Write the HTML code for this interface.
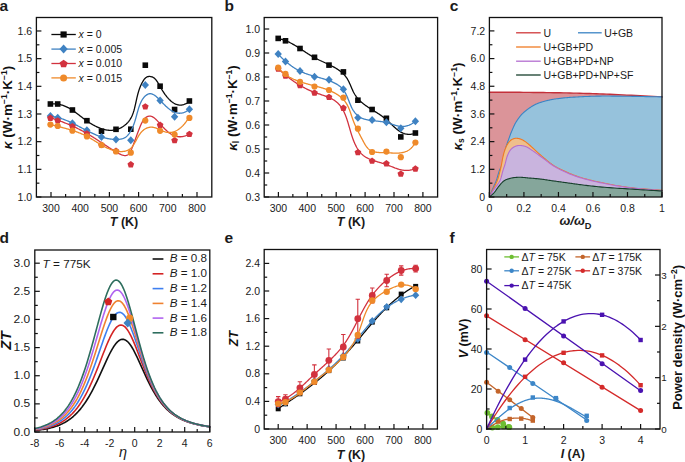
<!DOCTYPE html>
<html><head><meta charset="utf-8"><style>
html,body{margin:0;padding:0;background:#fff;width:685px;height:462px;overflow:hidden}
svg{display:block;font-family:"Liberation Sans", sans-serif}
</style></head><body>
<svg width="685" height="462" viewBox="0 0 685 462" font-family='"Liberation Sans", sans-serif'>
<rect width="685" height="462" fill="#ffffff"/>
<path d="M50.18,104.03 L50.94,103.97 L51.69,103.92 L52.42,103.89 L53.15,103.87 L53.87,103.88 L54.57,103.89 L55.27,103.93 L55.96,103.97 L56.64,104.04 L57.31,104.12 L57.97,104.21 L58.62,104.31 L59.26,104.43 L59.9,104.57 L60.53,104.71 L61.15,104.87 L61.76,105.04 L62.37,105.23 L62.97,105.42 L63.56,105.63 L64.15,105.84 L64.73,106.07 L65.31,106.31 L65.88,106.56 L66.45,106.82 L67.01,107.08 L67.56,107.36 L68.11,107.65 L68.66,107.94 L69.2,108.24 L69.74,108.55 L70.28,108.87 L70.81,109.2 L71.34,109.53 L71.87,109.87 L72.39,110.21 L72.91,110.56 L73.43,110.92 L73.95,111.28 L74.46,111.64 L74.98,112.01 L75.49,112.39 L76.01,112.77 L76.52,113.15 L77.03,113.53 L77.54,113.92 L78.05,114.31 L78.57,114.71 L79.08,115.1 L79.59,115.5 L80.11,115.9 L80.62,116.3 L81.14,116.7 L81.66,117.1 L82.18,117.5 L82.71,117.9 L83.23,118.3 L83.76,118.7 L84.29,119.1 L84.83,119.49 L85.37,119.89 L85.91,120.28 L86.46,120.67 L87.01,121.05 L87.57,121.44 L88.13,121.82 L88.69,122.19 L89.26,122.57 L89.83,122.93 L90.4,123.29 L90.98,123.65 L91.56,124 L92.15,124.35 L92.73,124.69 L93.32,125.02 L93.92,125.35 L94.51,125.67 L95.11,125.98 L95.71,126.28 L96.32,126.58 L96.92,126.86 L97.53,127.14 L98.14,127.41 L98.75,127.67 L99.36,127.92 L99.97,128.16 L100.59,128.39 L101.2,128.6 L101.82,128.81 L102.44,129 L103.06,129.19 L103.68,129.36 L104.3,129.52 L104.92,129.66 L105.54,129.79 L106.16,129.91 L106.78,130.02 L107.41,130.11 L108.03,130.18 L108.65,130.24 L109.27,130.29 L109.89,130.32 L110.51,130.33 L111.12,130.33 L111.74,130.31 L112.36,130.28 L112.97,130.22 L113.58,130.15 L114.2,130.06 L114.81,129.96 L115.41,129.83 L116.02,129.69 L116.62,129.52 L117.23,129.34 L117.82,129.14 L118.42,128.92 L119.01,128.69 L119.59,128.43 L120.18,128.16 L120.75,127.88 L121.32,127.57 L121.88,127.25 L122.44,126.92 L122.98,126.57 L123.52,126.2 L124.05,125.82 L124.57,125.43 L125.08,125.02 L125.58,124.6 L126.07,124.17 L126.55,123.72 L127.01,123.27 L127.47,122.8 L127.91,122.31 L128.33,121.82 L128.75,121.32 L129.14,120.81 L129.53,120.28 L129.9,119.75 L130.25,119.21 L130.58,118.66 L130.9,118.1 L131.21,117.53 L131.51,116.95 L131.79,116.37 L132.06,115.78 L132.31,115.18 L132.56,114.58 L132.79,113.97 L133.02,113.36 L133.24,112.74 L133.44,112.12 L133.64,111.49 L133.83,110.86 L134.02,110.22 L134.19,109.59 L134.37,108.95 L134.53,108.3 L134.69,107.66 L134.85,107.01 L135,106.37 L135.15,105.72 L135.3,105.07 L135.45,104.42 L135.59,103.77 L135.73,103.12 L135.88,102.48 L136.02,101.83 L136.16,101.18 L136.3,100.54 L136.45,99.89 L136.59,99.25 L136.74,98.6 L136.88,97.96 L137.03,97.32 L137.18,96.68 L137.34,96.04 L137.5,95.41 L137.66,94.77 L137.82,94.14 L137.99,93.5 L138.17,92.87 L138.35,92.25 L138.53,91.62 L138.73,91 L138.92,90.37 L139.13,89.75 L139.34,89.14 L139.56,88.52 L139.78,87.91 L140.01,87.3 L140.26,86.7 L140.51,86.09 L140.77,85.49 L141.04,84.9 L141.32,84.3 L141.61,83.71 L141.91,83.12 L142.22,82.54 L142.54,81.96 L142.87,81.39 L143.22,80.82 L143.58,80.26 L143.95,79.72 L144.35,79.2 L144.76,78.72 L145.18,78.27 L145.63,77.86 L146.1,77.49 L146.6,77.18 L147.12,76.93 L147.65,76.73 L148.21,76.59 L148.77,76.5 L149.34,76.46 L149.92,76.47 L150.5,76.53 L151.07,76.63 L151.64,76.78 L152.19,76.96 L152.74,77.2 L153.26,77.46 L153.75,77.77 L154.23,78.11 L154.68,78.49 L155.12,78.9 L155.53,79.34 L155.93,79.8 L156.31,80.29 L156.69,80.8 L157.05,81.33 L157.4,81.88 L157.75,82.45 L158.09,83.03 L158.43,83.62 L158.76,84.22 L159.1,84.83 L159.44,85.45 L159.79,86.06 L160.14,86.68 L160.5,87.3 L160.86,87.93 L161.22,88.55 L161.6,89.17 L161.97,89.78 L162.35,90.4 L162.74,91.01 L163.13,91.62 L163.53,92.23 L163.93,92.83 L164.34,93.42 L164.76,94.01 L165.17,94.59 L165.6,95.16 L166.03,95.73 L166.46,96.28 L166.9,96.82 L167.34,97.36 L167.79,97.88 L168.24,98.39 L168.7,98.88 L169.16,99.37 L169.63,99.84 L170.11,100.29 L170.58,100.73 L171.07,101.15 L171.55,101.55 L172.05,101.94 L172.55,102.3 L173.05,102.65 L173.56,102.98 L174.07,103.29 L174.59,103.57 L175.11,103.84 L175.64,104.08 L176.17,104.29 L176.7,104.49 L177.25,104.65 L177.79,104.8 L178.34,104.91 L178.9,105 L179.46,105.06 L180.03,105.09 L180.6,105.09 L181.17,105.07 L181.75,105.01 L182.33,104.92 L182.92,104.8 L183.52,104.64 L184.12,104.45 L184.72,104.23 L185.33,103.97 L185.94,103.68 L186.56,103.35 L187.18,102.99 L187.8,102.58 L188.43,102.14 L189.07,101.66 L189.71,101.14" fill="none" stroke="#0a0a0a" stroke-width="1.3" stroke-linejoin="round" stroke-linecap="round" />
<rect x="47.6" y="101.2" width="5.6" height="5.6" fill="#0a0a0a"/>
<rect x="54.9" y="101.2" width="5.6" height="5.6" fill="#0a0a0a"/>
<rect x="69.6" y="107.2" width="5.6" height="5.6" fill="#0a0a0a"/>
<rect x="84.1" y="117.9" width="5.6" height="5.6" fill="#0a0a0a"/>
<rect x="98.7" y="128.4" width="5.6" height="5.6" fill="#0a0a0a"/>
<rect x="113.2" y="126.5" width="5.6" height="5.6" fill="#0a0a0a"/>
<rect x="128" y="126.4" width="5.6" height="5.6" fill="#0a0a0a"/>
<rect x="142.5" y="62.4" width="5.6" height="5.6" fill="#0a0a0a"/>
<rect x="157.3" y="83.4" width="5.6" height="5.6" fill="#0a0a0a"/>
<rect x="171.8" y="106.7" width="5.6" height="5.6" fill="#0a0a0a"/>
<rect x="186.6" y="98.2" width="5.6" height="5.6" fill="#0a0a0a"/>
<path d="M50.4,116.16 L51,116.23 L51.6,116.3 L52.19,116.38 L52.78,116.47 L53.37,116.56 L53.96,116.66 L54.54,116.77 L55.13,116.89 L55.71,117.01 L56.29,117.15 L56.87,117.28 L57.45,117.43 L58.02,117.58 L58.6,117.73 L59.17,117.9 L59.74,118.06 L60.31,118.24 L60.88,118.42 L61.45,118.6 L62.01,118.79 L62.58,118.99 L63.14,119.19 L63.7,119.4 L64.26,119.61 L64.82,119.82 L65.38,120.04 L65.94,120.27 L66.49,120.49 L67.05,120.73 L67.6,120.96 L68.15,121.2 L68.71,121.44 L69.26,121.69 L69.81,121.94 L70.36,122.19 L70.91,122.45 L71.45,122.71 L72,122.97 L72.55,123.23 L73.09,123.5 L73.64,123.77 L74.18,124.04 L74.73,124.31 L75.27,124.59 L75.82,124.86 L76.36,125.14 L76.9,125.42 L77.44,125.7 L77.99,125.98 L78.53,126.26 L79.07,126.55 L79.61,126.83 L80.15,127.11 L80.69,127.4 L81.24,127.68 L81.78,127.97 L82.32,128.25 L82.86,128.53 L83.4,128.82 L83.94,129.1 L84.48,129.38 L85.03,129.66 L85.57,129.94 L86.11,130.22 L86.65,130.5 L87.19,130.78 L87.74,131.05 L88.28,131.33 L88.83,131.6 L89.37,131.86 L89.92,132.13 L90.46,132.4 L91.01,132.66 L91.56,132.92 L92.1,133.17 L92.65,133.43 L93.2,133.68 L93.75,133.92 L94.3,134.17 L94.85,134.41 L95.41,134.64 L95.96,134.88 L96.51,135.1 L97.07,135.33 L97.62,135.55 L98.18,135.76 L98.74,135.98 L99.3,136.18 L99.86,136.38 L100.42,136.58 L100.99,136.77 L101.55,136.96 L102.12,137.14 L102.69,137.31 L103.26,137.48 L103.83,137.64 L104.4,137.8 L104.97,137.95 L105.55,138.1 L106.12,138.24 L106.7,138.37 L107.28,138.49 L107.86,138.61 L108.45,138.72 L109.03,138.82 L109.62,138.92 L110.21,139.01 L110.8,139.09 L111.39,139.16 L111.98,139.22 L112.58,139.28 L113.18,139.33 L113.78,139.37 L114.38,139.4 L114.99,139.42 L115.6,139.44 L116.21,139.44 L116.82,139.44 L117.43,139.42 L118.04,139.39 L118.65,139.35 L119.26,139.29 L119.86,139.22 L120.45,139.13 L121.04,139.02 L121.62,138.9 L122.2,138.75 L122.76,138.58 L123.31,138.38 L123.84,138.16 L124.37,137.92 L124.87,137.64 L125.36,137.34 L125.84,137.01 L126.29,136.65 L126.73,136.27 L127.16,135.87 L127.57,135.44 L127.96,135 L128.34,134.54 L128.71,134.08 L129.07,133.6 L129.41,133.11 L129.74,132.62 L130.07,132.13 L130.38,131.63 L130.68,131.13 L130.97,130.62 L131.25,130.11 L131.53,129.6 L131.79,129.08 L132.05,128.56 L132.3,128.04 L132.54,127.51 L132.78,126.98 L133,126.44 L133.23,125.9 L133.44,125.36 L133.65,124.81 L133.86,124.26 L134.06,123.7 L134.25,123.14 L134.45,122.57 L134.63,122 L134.82,121.43 L135,120.84 L135.18,120.26 L135.35,119.67 L135.53,119.07 L135.7,118.47 L135.87,117.87 L136.04,117.26 L136.22,116.64 L136.39,116.02 L136.56,115.4 L136.73,114.77 L136.9,114.13 L137.07,113.5 L137.25,112.86 L137.42,112.22 L137.6,111.59 L137.79,110.95 L137.97,110.31 L138.16,109.67 L138.35,109.04 L138.55,108.41 L138.75,107.78 L138.95,107.16 L139.16,106.54 L139.38,105.93 L139.6,105.32 L139.83,104.72 L140.07,104.13 L140.31,103.54 L140.56,102.97 L140.82,102.4 L141.08,101.84 L141.36,101.3 L141.64,100.76 L141.93,100.24 L142.23,99.73 L142.55,99.24 L142.87,98.75 L143.2,98.29 L143.54,97.83 L143.9,97.4 L144.26,96.98 L144.64,96.58 L145.03,96.19 L145.43,95.83 L145.85,95.48 L146.28,95.16 L146.72,94.86 L147.16,94.59 L147.61,94.35 L148.07,94.15 L148.54,93.98 L149,93.85 L149.47,93.76 L149.93,93.71 L150.4,93.71 L150.86,93.75 L151.33,93.83 L151.79,93.94 L152.26,94.09 L152.72,94.28 L153.19,94.49 L153.65,94.74 L154.11,95.01 L154.58,95.31 L155.04,95.64 L155.5,95.98 L155.97,96.35 L156.43,96.74 L156.89,97.15 L157.36,97.57 L157.82,98 L158.28,98.45 L158.74,98.91 L159.2,99.38 L159.66,99.85 L160.13,100.33 L160.59,100.81 L161.05,101.29 L161.51,101.78 L161.97,102.26 L162.43,102.74 L162.89,103.22 L163.36,103.69 L163.82,104.16 L164.28,104.62 L164.74,105.08 L165.21,105.53 L165.67,105.98 L166.14,106.41 L166.61,106.84 L167.08,107.26 L167.55,107.68 L168.02,108.08 L168.49,108.47 L168.97,108.85 L169.44,109.22 L169.92,109.58 L170.4,109.92 L170.89,110.26 L171.37,110.57 L171.86,110.87 L172.36,111.16 L172.85,111.43 L173.35,111.69 L173.85,111.93 L174.35,112.15 L174.86,112.35 L175.37,112.53 L175.89,112.69 L176.4,112.84 L176.93,112.96 L177.45,113.06 L177.98,113.14 L178.52,113.19 L179.06,113.23 L179.6,113.24 L180.15,113.22 L180.7,113.18 L181.26,113.12 L181.83,113.02 L182.39,112.9 L182.97,112.76 L183.55,112.58 L184.13,112.38 L184.72,112.15 L185.32,111.88 L185.92,111.59 L186.53,111.27 L187.14,110.91 L187.77,110.52 L188.39,110.1 L189.03,109.65 L189.67,109.16" fill="none" stroke="#3f82c2" stroke-width="1.3" stroke-linejoin="round" stroke-linecap="round" />
<path d="M50.4,112 L54.08,116 L50.4,120 L46.72,116Z" fill="#3f82c2"/>
<path d="M57.7,113.7 L61.38,117.7 L57.7,121.7 L54.02,117.7Z" fill="#3f82c2"/>
<path d="M72.4,119.3 L76.08,123.3 L72.4,127.3 L68.72,123.3Z" fill="#3f82c2"/>
<path d="M86.9,126.2 L90.58,130.2 L86.9,134.2 L83.22,130.2Z" fill="#3f82c2"/>
<path d="M101.5,133.1 L105.18,137.1 L101.5,141.1 L97.82,137.1Z" fill="#3f82c2"/>
<path d="M116,135.6 L119.68,139.6 L116,143.6 L112.32,139.6Z" fill="#3f82c2"/>
<path d="M130.8,136.3 L134.48,140.3 L130.8,144.3 L127.12,140.3Z" fill="#3f82c2"/>
<path d="M145.3,81 L148.98,85 L145.3,89 L141.62,85Z" fill="#3f82c2"/>
<path d="M160.1,96.5 L163.78,100.5 L160.1,104.5 L156.42,100.5Z" fill="#3f82c2"/>
<path d="M174.6,112.8 L178.28,116.8 L174.6,120.8 L170.92,116.8Z" fill="#3f82c2"/>
<path d="M189.4,105.3 L193.08,109.3 L189.4,113.3 L185.72,109.3Z" fill="#3f82c2"/>
<path d="M50.39,117.75 L50.97,117.93 L51.54,118.11 L52.12,118.3 L52.69,118.49 L53.27,118.67 L53.84,118.86 L54.42,119.06 L54.99,119.25 L55.57,119.45 L56.14,119.64 L56.71,119.84 L57.29,120.04 L57.86,120.25 L58.43,120.45 L59.01,120.66 L59.58,120.86 L60.15,121.07 L60.72,121.29 L61.29,121.5 L61.86,121.71 L62.43,121.93 L63,122.15 L63.57,122.37 L64.14,122.59 L64.7,122.82 L65.27,123.04 L65.84,123.27 L66.4,123.5 L66.97,123.73 L67.53,123.97 L68.1,124.2 L68.66,124.44 L69.22,124.68 L69.78,124.92 L70.34,125.16 L70.9,125.4 L71.46,125.65 L72.02,125.9 L72.57,126.15 L73.13,126.4 L73.68,126.65 L74.24,126.91 L74.79,127.17 L75.34,127.42 L75.89,127.69 L76.44,127.95 L76.99,128.21 L77.54,128.48 L78.08,128.75 L78.63,129.02 L79.17,129.29 L79.71,129.56 L80.26,129.84 L80.79,130.12 L81.33,130.4 L81.87,130.68 L82.41,130.96 L82.94,131.25 L83.47,131.54 L84,131.83 L84.53,132.12 L85.06,132.41 L85.59,132.7 L86.11,133 L86.64,133.3 L87.16,133.6 L87.68,133.9 L88.2,134.21 L88.72,134.51 L89.23,134.82 L89.75,135.13 L90.26,135.44 L90.78,135.76 L91.29,136.07 L91.8,136.39 L92.31,136.7 L92.82,137.02 L93.33,137.34 L93.84,137.66 L94.34,137.99 L94.85,138.31 L95.36,138.64 L95.86,138.96 L96.37,139.29 L96.88,139.62 L97.38,139.95 L97.89,140.28 L98.39,140.61 L98.9,140.94 L99.41,141.27 L99.91,141.61 L100.42,141.94 L100.93,142.27 L101.44,142.61 L101.95,142.95 L102.45,143.28 L102.97,143.62 L103.48,143.96 L103.99,144.29 L104.5,144.63 L105.02,144.97 L105.53,145.31 L106.05,145.65 L106.57,145.98 L107.09,146.32 L107.61,146.66 L108.13,147 L108.65,147.34 L109.18,147.68 L109.71,148.01 L110.24,148.35 L110.77,148.69 L111.3,149.03 L111.84,149.36 L112.38,149.7 L112.92,150.04 L113.46,150.37 L114,150.71 L114.55,151.04 L115.1,151.37 L115.66,151.71 L116.21,152.04 L116.77,152.37 L117.33,152.69 L117.89,153.01 L118.44,153.32 L119,153.62 L119.56,153.9 L120.11,154.17 L120.66,154.43 L121.21,154.66 L121.75,154.87 L122.28,155.06 L122.81,155.22 L123.33,155.36 L123.84,155.47 L124.34,155.54 L124.83,155.58 L125.32,155.58 L125.79,155.55 L126.24,155.47 L126.69,155.36 L127.12,155.19 L127.53,154.98 L127.93,154.73 L128.32,154.42 L128.69,154.07 L129.04,153.67 L129.38,153.24 L129.71,152.77 L130.02,152.27 L130.33,151.74 L130.62,151.19 L130.9,150.62 L131.18,150.03 L131.44,149.44 L131.7,148.83 L131.96,148.22 L132.2,147.61 L132.44,147 L132.68,146.4 L132.91,145.8 L133.14,145.21 L133.37,144.62 L133.59,144.04 L133.81,143.46 L134.03,142.88 L134.24,142.31 L134.45,141.73 L134.66,141.17 L134.87,140.6 L135.08,140.03 L135.28,139.47 L135.49,138.9 L135.69,138.34 L135.9,137.77 L136.1,137.21 L136.31,136.65 L136.51,136.08 L136.72,135.52 L136.92,134.95 L137.13,134.38 L137.34,133.81 L137.55,133.24 L137.77,132.66 L137.98,132.09 L138.2,131.5 L138.42,130.92 L138.65,130.33 L138.88,129.73 L139.11,129.14 L139.35,128.53 L139.59,127.92 L139.83,127.31 L140.08,126.69 L140.34,126.08 L140.6,125.46 L140.87,124.85 L141.14,124.24 L141.43,123.64 L141.72,123.05 L142.02,122.47 L142.33,121.9 L142.64,121.35 L142.97,120.82 L143.31,120.3 L143.65,119.81 L144.01,119.34 L144.38,118.89 L144.77,118.47 L145.16,118.08 L145.57,117.72 L145.99,117.39 L146.42,117.09 L146.87,116.84 L147.33,116.62 L147.8,116.44 L148.28,116.3 L148.77,116.2 L149.25,116.14 L149.74,116.12 L150.22,116.15 L150.7,116.22 L151.18,116.33 L151.66,116.48 L152.13,116.67 L152.6,116.9 L153.06,117.15 L153.53,117.44 L153.99,117.76 L154.45,118.1 L154.9,118.47 L155.36,118.87 L155.81,119.28 L156.26,119.71 L156.71,120.16 L157.16,120.62 L157.61,121.1 L158.06,121.59 L158.51,122.08 L158.95,122.58 L159.4,123.09 L159.85,123.6 L160.29,124.11 L160.74,124.61 L161.19,125.12 L161.63,125.62 L162.08,126.11 L162.53,126.6 L162.98,127.08 L163.43,127.56 L163.88,128.03 L164.33,128.49 L164.79,128.95 L165.24,129.39 L165.7,129.83 L166.16,130.26 L166.62,130.68 L167.09,131.09 L167.55,131.49 L168.02,131.88 L168.49,132.26 L168.97,132.62 L169.45,132.97 L169.93,133.31 L170.41,133.64 L170.9,133.96 L171.39,134.26 L171.89,134.54 L172.38,134.81 L172.89,135.07 L173.39,135.31 L173.91,135.53 L174.42,135.73 L174.94,135.92 L175.47,136.09 L176,136.25 L176.53,136.38 L177.07,136.5 L177.62,136.59 L178.17,136.67 L178.73,136.73 L179.29,136.76 L179.86,136.77 L180.44,136.77 L181.02,136.74 L181.61,136.68 L182.2,136.61 L182.8,136.51 L183.41,136.38 L184.02,136.23 L184.65,136.06 L185.28,135.86 L185.91,135.64 L186.56,135.39 L187.21,135.11 L187.87,134.81 L188.54,134.47 L189.21,134.11" fill="none" stroke="#d2323e" stroke-width="1.3" stroke-linejoin="round" stroke-linecap="round" />
<path d="M50.4,114.6 L53.73,117.02 L52.46,120.93 L48.34,120.93 L47.07,117.02Z" fill="#d2323e"/>
<path d="M57.7,117.2 L61.03,119.62 L59.76,123.53 L55.64,123.53 L54.37,119.62Z" fill="#d2323e"/>
<path d="M72.4,122.9 L75.73,125.32 L74.46,129.23 L70.34,129.23 L69.07,125.32Z" fill="#d2323e"/>
<path d="M86.9,130.2 L90.23,132.62 L88.96,136.53 L84.84,136.53 L83.57,132.62Z" fill="#d2323e"/>
<path d="M101.5,141.5 L104.83,143.92 L103.56,147.83 L99.44,147.83 L98.17,143.92Z" fill="#d2323e"/>
<path d="M116,147.5 L119.33,149.92 L118.06,153.83 L113.94,153.83 L112.67,149.92Z" fill="#d2323e"/>
<path d="M130.8,161.1 L134.13,163.52 L132.86,167.43 L128.74,167.43 L127.47,163.52Z" fill="#d2323e"/>
<path d="M145.3,103.2 L148.63,105.62 L147.36,109.53 L143.24,109.53 L141.97,105.62Z" fill="#d2323e"/>
<path d="M160.1,121.6 L163.43,124.02 L162.16,127.93 L158.04,127.93 L156.77,124.02Z" fill="#d2323e"/>
<path d="M174.6,136.9 L177.93,139.32 L176.66,143.23 L172.54,143.23 L171.27,139.32Z" fill="#d2323e"/>
<path d="M189.4,130.7 L192.73,133.12 L191.46,137.03 L187.34,137.03 L186.07,133.12Z" fill="#d2323e"/>
<path d="M50.4,124.43 L50.94,124.58 L51.48,124.73 L52.01,124.87 L52.55,125.01 L53.09,125.16 L53.62,125.3 L54.16,125.44 L54.7,125.58 L55.23,125.72 L55.76,125.86 L56.3,125.99 L56.83,126.13 L57.36,126.27 L57.89,126.41 L58.43,126.54 L58.96,126.68 L59.48,126.82 L60.01,126.95 L60.54,127.09 L61.07,127.23 L61.6,127.37 L62.12,127.5 L62.65,127.64 L63.17,127.78 L63.7,127.92 L64.22,128.06 L64.74,128.2 L65.27,128.34 L65.79,128.49 L66.31,128.63 L66.83,128.78 L67.35,128.92 L67.87,129.07 L68.38,129.22 L68.9,129.37 L69.42,129.52 L69.93,129.67 L70.45,129.83 L70.96,129.98 L71.47,130.14 L71.99,130.3 L72.5,130.47 L73.01,130.63 L73.52,130.8 L74.03,130.97 L74.54,131.14 L75.05,131.31 L75.55,131.49 L76.06,131.67 L76.56,131.85 L77.07,132.03 L77.57,132.22 L78.08,132.41 L78.58,132.6 L79.08,132.8 L79.58,132.99 L80.08,133.2 L80.58,133.4 L81.08,133.61 L81.58,133.82 L82.07,134.04 L82.57,134.26 L83.06,134.48 L83.56,134.71 L84.05,134.94 L84.54,135.17 L85.03,135.41 L85.52,135.65 L86.01,135.9 L86.5,136.15 L86.99,136.41 L87.47,136.67 L87.96,136.93 L88.45,137.2 L88.93,137.47 L89.41,137.74 L89.9,138.02 L90.38,138.3 L90.86,138.58 L91.35,138.86 L91.83,139.15 L92.31,139.44 L92.79,139.73 L93.27,140.02 L93.75,140.31 L94.23,140.61 L94.71,140.9 L95.19,141.2 L95.67,141.49 L96.15,141.79 L96.63,142.09 L97.11,142.38 L97.6,142.67 L98.08,142.97 L98.56,143.26 L99.04,143.55 L99.52,143.84 L100.01,144.13 L100.49,144.42 L100.98,144.7 L101.46,144.98 L101.95,145.26 L102.44,145.53 L102.92,145.81 L103.41,146.08 L103.9,146.34 L104.39,146.6 L104.88,146.86 L105.38,147.11 L105.87,147.36 L106.37,147.61 L106.86,147.85 L107.36,148.08 L107.86,148.31 L108.36,148.53 L108.86,148.75 L109.37,148.96 L109.87,149.16 L110.38,149.36 L110.89,149.55 L111.4,149.73 L111.91,149.91 L112.43,150.08 L112.94,150.24 L113.46,150.4 L113.98,150.54 L114.51,150.68 L115.03,150.81 L115.56,150.92 L116.09,151.03 L116.62,151.14 L117.15,151.23 L117.69,151.31 L118.22,151.38 L118.76,151.44 L119.29,151.48 L119.83,151.52 L120.36,151.54 L120.89,151.55 L121.42,151.55 L121.95,151.54 L122.48,151.51 L123,151.46 L123.52,151.41 L124.03,151.33 L124.54,151.24 L125.04,151.14 L125.54,151.02 L126.03,150.88 L126.51,150.73 L126.99,150.55 L127.45,150.36 L127.91,150.16 L128.36,149.93 L128.81,149.68 L129.24,149.42 L129.66,149.13 L130.07,148.82 L130.47,148.5 L130.86,148.15 L131.24,147.78 L131.61,147.39 L131.96,146.99 L132.31,146.57 L132.65,146.13 L132.98,145.68 L133.31,145.22 L133.63,144.74 L133.94,144.25 L134.25,143.76 L134.55,143.25 L134.84,142.74 L135.14,142.22 L135.43,141.7 L135.72,141.17 L136.01,140.64 L136.29,140.11 L136.58,139.57 L136.86,139.04 L137.15,138.51 L137.44,137.99 L137.73,137.46 L138.02,136.94 L138.31,136.43 L138.61,135.93 L138.92,135.43 L139.22,134.95 L139.54,134.47 L139.86,134.01 L140.19,133.56 L140.52,133.12 L140.86,132.7 L141.21,132.29 L141.56,131.9 L141.92,131.51 L142.28,131.15 L142.65,130.79 L143.03,130.45 L143.41,130.13 L143.8,129.82 L144.2,129.53 L144.6,129.25 L145,128.99 L145.41,128.75 L145.83,128.52 L146.25,128.31 L146.68,128.11 L147.11,127.93 L147.55,127.77 L147.99,127.63 L148.44,127.51 L148.89,127.4 L149.35,127.32 L149.81,127.25 L150.27,127.2 L150.75,127.17 L151.22,127.16 L151.7,127.17 L152.19,127.2 L152.68,127.25 L153.17,127.32 L153.67,127.41 L154.17,127.52 L154.68,127.65 L155.19,127.81 L155.7,127.98 L156.21,128.16 L156.73,128.36 L157.26,128.57 L157.78,128.79 L158.31,129.01 L158.83,129.25 L159.36,129.49 L159.9,129.73 L160.43,129.97 L160.96,130.21 L161.49,130.45 L162.03,130.68 L162.56,130.91 L163.09,131.13 L163.63,131.34 L164.16,131.53 L164.69,131.72 L165.22,131.89 L165.75,132.04 L166.27,132.17 L166.8,132.28 L167.32,132.37 L167.83,132.44 L168.35,132.49 L168.86,132.51 L169.38,132.52 L169.88,132.51 L170.39,132.48 L170.89,132.43 L171.39,132.36 L171.89,132.28 L172.38,132.17 L172.87,132.05 L173.36,131.91 L173.84,131.76 L174.32,131.59 L174.79,131.41 L175.27,131.21 L175.73,130.99 L176.2,130.76 L176.66,130.52 L177.12,130.26 L177.57,129.99 L178.02,129.7 L178.46,129.41 L178.9,129.1 L179.34,128.78 L179.77,128.45 L180.2,128.1 L180.62,127.75 L181.04,127.39 L181.45,127.01 L181.86,126.63 L182.26,126.24 L182.66,125.84 L183.05,125.43 L183.44,125.01 L183.82,124.59 L184.2,124.16 L184.57,123.72 L184.94,123.27 L185.3,122.82 L185.65,122.37 L186,121.91 L186.35,121.44 L186.68,120.97 L187.02,120.49 L187.34,120.02 L187.66,119.53 L187.97,119.05 L188.28,118.56 L188.58,118.07 L188.88,117.58" fill="none" stroke="#ef8a2a" stroke-width="1.3" stroke-linejoin="round" stroke-linecap="round" />
<circle cx="50.4" cy="124.6" r="3.1" fill="#ef8a2a"/>
<circle cx="57.7" cy="126" r="3.1" fill="#ef8a2a"/>
<circle cx="72.4" cy="130.7" r="3.1" fill="#ef8a2a"/>
<circle cx="86.9" cy="136.4" r="3.1" fill="#ef8a2a"/>
<circle cx="101.5" cy="145.1" r="3.1" fill="#ef8a2a"/>
<circle cx="116" cy="151.5" r="3.1" fill="#ef8a2a"/>
<circle cx="130.8" cy="152.7" r="3.1" fill="#ef8a2a"/>
<circle cx="145.3" cy="120.6" r="3.1" fill="#ef8a2a"/>
<circle cx="160.1" cy="130.8" r="3.1" fill="#ef8a2a"/>
<circle cx="174.6" cy="134.6" r="3.1" fill="#ef8a2a"/>
<circle cx="189.4" cy="117.9" r="3.1" fill="#ef8a2a"/>
<line x1="51.4" y1="34.5" x2="75.8" y2="34.5" stroke="#0a0a0a" stroke-width="1.3"/>
<rect x="60.5" y="31.4" width="6.2" height="6.2" fill="#0a0a0a"/>
<text x="78.6" y="38.3" font-size="10.5" text-anchor="start" font-weight="normal" font-style="normal" fill="#1a1a1a" ><tspan font-style="italic">x</tspan> = 0</text>
<line x1="51.4" y1="49.1" x2="75.8" y2="49.1" stroke="#3f82c2" stroke-width="1.3"/>
<path d="M63.6,44.6 L67.74,49.1 L63.6,53.6 L59.46,49.1Z" fill="#3f82c2"/>
<text x="78.6" y="52.9" font-size="10.5" text-anchor="start" font-weight="normal" font-style="normal" fill="#1a1a1a" ><tspan font-style="italic">x</tspan> = 0.005</text>
<line x1="51.4" y1="63.5" x2="75.8" y2="63.5" stroke="#d2323e" stroke-width="1.3"/>
<path d="M63.6,59.7 L67.59,62.6 L66.07,67.3 L61.13,67.3 L59.61,62.6Z" fill="#d2323e"/>
<text x="78.6" y="67.3" font-size="10.5" text-anchor="start" font-weight="normal" font-style="normal" fill="#1a1a1a" ><tspan font-style="italic">x</tspan> = 0.010</text>
<line x1="51.4" y1="77.9" x2="75.8" y2="77.9" stroke="#ef8a2a" stroke-width="1.3"/>
<circle cx="63.6" cy="77.9" r="3.5" fill="#ef8a2a"/>
<text x="78.6" y="81.7" font-size="10.5" text-anchor="start" font-weight="normal" font-style="normal" fill="#1a1a1a" ><tspan font-style="italic">x</tspan> = 0.015</text>
<rect x="36.4" y="17.5" width="175.4" height="179.5" fill="none" stroke="#111" stroke-width="1.3"/>
<line x1="51" y1="197" x2="51" y2="192" stroke="#111" stroke-width="1.2"/>
<line x1="80.2" y1="197" x2="80.2" y2="192" stroke="#111" stroke-width="1.2"/>
<line x1="109.4" y1="197" x2="109.4" y2="192" stroke="#111" stroke-width="1.2"/>
<line x1="138.6" y1="197" x2="138.6" y2="192" stroke="#111" stroke-width="1.2"/>
<line x1="167.8" y1="197" x2="167.8" y2="192" stroke="#111" stroke-width="1.2"/>
<line x1="197" y1="197" x2="197" y2="192" stroke="#111" stroke-width="1.2"/>
<line x1="65.6" y1="197" x2="65.6" y2="194" stroke="#111" stroke-width="1.2"/>
<line x1="94.8" y1="197" x2="94.8" y2="194" stroke="#111" stroke-width="1.2"/>
<line x1="124" y1="197" x2="124" y2="194" stroke="#111" stroke-width="1.2"/>
<line x1="153.2" y1="197" x2="153.2" y2="194" stroke="#111" stroke-width="1.2"/>
<line x1="182.4" y1="197" x2="182.4" y2="194" stroke="#111" stroke-width="1.2"/>
<text x="51" y="211.5" font-size="10.5" text-anchor="middle" font-weight="normal" font-style="normal" fill="#1a1a1a" >300</text>
<text x="80.2" y="211.5" font-size="10.5" text-anchor="middle" font-weight="normal" font-style="normal" fill="#1a1a1a" >400</text>
<text x="109.4" y="211.5" font-size="10.5" text-anchor="middle" font-weight="normal" font-style="normal" fill="#1a1a1a" >500</text>
<text x="138.6" y="211.5" font-size="10.5" text-anchor="middle" font-weight="normal" font-style="normal" fill="#1a1a1a" >600</text>
<text x="167.8" y="211.5" font-size="10.5" text-anchor="middle" font-weight="normal" font-style="normal" fill="#1a1a1a" >700</text>
<text x="197" y="211.5" font-size="10.5" text-anchor="middle" font-weight="normal" font-style="normal" fill="#1a1a1a" >800</text>
<line x1="36.4" y1="197" x2="41.4" y2="197" stroke="#111" stroke-width="1.2"/>
<line x1="36.4" y1="169.33" x2="41.4" y2="169.33" stroke="#111" stroke-width="1.2"/>
<line x1="36.4" y1="141.66" x2="41.4" y2="141.66" stroke="#111" stroke-width="1.2"/>
<line x1="36.4" y1="113.99" x2="41.4" y2="113.99" stroke="#111" stroke-width="1.2"/>
<line x1="36.4" y1="86.32" x2="41.4" y2="86.32" stroke="#111" stroke-width="1.2"/>
<line x1="36.4" y1="58.65" x2="41.4" y2="58.65" stroke="#111" stroke-width="1.2"/>
<line x1="36.4" y1="30.98" x2="41.4" y2="30.98" stroke="#111" stroke-width="1.2"/>
<line x1="36.4" y1="183.16" x2="39.4" y2="183.16" stroke="#111" stroke-width="1.2"/>
<line x1="36.4" y1="155.5" x2="39.4" y2="155.5" stroke="#111" stroke-width="1.2"/>
<line x1="36.4" y1="127.83" x2="39.4" y2="127.83" stroke="#111" stroke-width="1.2"/>
<line x1="36.4" y1="100.15" x2="39.4" y2="100.15" stroke="#111" stroke-width="1.2"/>
<line x1="36.4" y1="72.49" x2="39.4" y2="72.49" stroke="#111" stroke-width="1.2"/>
<line x1="36.4" y1="44.81" x2="39.4" y2="44.81" stroke="#111" stroke-width="1.2"/>
<text x="32.2" y="200.6" font-size="10.5" text-anchor="end" font-weight="normal" font-style="normal" fill="#1a1a1a" >1.0</text>
<text x="32.2" y="172.93" font-size="10.5" text-anchor="end" font-weight="normal" font-style="normal" fill="#1a1a1a" >1.1</text>
<text x="32.2" y="145.26" font-size="10.5" text-anchor="end" font-weight="normal" font-style="normal" fill="#1a1a1a" >1.2</text>
<text x="32.2" y="117.59" font-size="10.5" text-anchor="end" font-weight="normal" font-style="normal" fill="#1a1a1a" >1.3</text>
<text x="32.2" y="89.92" font-size="10.5" text-anchor="end" font-weight="normal" font-style="normal" fill="#1a1a1a" >1.4</text>
<text x="32.2" y="62.25" font-size="10.5" text-anchor="end" font-weight="normal" font-style="normal" fill="#1a1a1a" >1.5</text>
<text x="32.2" y="34.58" font-size="10.5" text-anchor="end" font-weight="normal" font-style="normal" fill="#1a1a1a" >1.6</text>
<text x="124" y="226" font-size="12.5" text-anchor="middle" font-weight="bold" font-style="normal" fill="#1a1a1a" ><tspan font-style="italic">T</tspan> (K)</text>
<text transform="translate(11.8,107.5) rotate(-90)" font-size="13.5" text-anchor="middle" font-weight="bold" fill="#111"><tspan font-style="italic">κ</tspan> (W·m<tspan dy="-4.5" font-size="8.5">−1</tspan><tspan dy="4.5">·K</tspan><tspan dy="-4.5" font-size="8.5">−1</tspan><tspan dy="4.5">)</tspan></text>
<text x="-0.6" y="11.4" font-size="15.5" text-anchor="start" font-weight="bold" font-style="normal" fill="#1a1a1a" >a</text>
<path d="M277.94,38.42 L278.54,38.54 L279.13,38.67 L279.72,38.81 L280.31,38.96 L280.88,39.11 L281.46,39.27 L282.03,39.44 L282.59,39.62 L283.15,39.8 L283.71,39.99 L284.26,40.18 L284.81,40.38 L285.36,40.59 L285.9,40.81 L286.44,41.03 L286.98,41.25 L287.51,41.48 L288.04,41.72 L288.56,41.96 L289.08,42.21 L289.6,42.46 L290.12,42.72 L290.64,42.98 L291.15,43.24 L291.66,43.51 L292.16,43.79 L292.67,44.07 L293.17,44.35 L293.67,44.63 L294.17,44.92 L294.67,45.21 L295.17,45.51 L295.66,45.8 L296.15,46.1 L296.64,46.41 L297.13,46.71 L297.62,47.02 L298.11,47.33 L298.6,47.64 L299.08,47.95 L299.57,48.27 L300.05,48.58 L300.54,48.9 L301.02,49.22 L301.51,49.54 L301.99,49.86 L302.47,50.18 L302.96,50.5 L303.44,50.82 L303.93,51.14 L304.41,51.46 L304.9,51.78 L305.38,52.1 L305.87,52.42 L306.36,52.74 L306.84,53.05 L307.33,53.37 L307.82,53.68 L308.32,54 L308.81,54.31 L309.31,54.62 L309.8,54.93 L310.3,55.23 L310.8,55.54 L311.3,55.84 L311.81,56.14 L312.31,56.43 L312.82,56.72 L313.33,57.01 L313.84,57.3 L314.36,57.58 L314.88,57.86 L315.4,58.14 L315.92,58.41 L316.45,58.68 L316.98,58.95 L317.5,59.21 L318.04,59.47 L318.57,59.73 L319.1,59.99 L319.64,60.24 L320.17,60.5 L320.71,60.75 L321.25,61 L321.79,61.25 L322.32,61.5 L322.86,61.74 L323.4,61.99 L323.94,62.24 L324.48,62.49 L325.02,62.73 L325.56,62.98 L326.09,63.23 L326.63,63.48 L327.16,63.73 L327.7,63.98 L328.23,64.23 L328.76,64.48 L329.29,64.73 L329.82,64.99 L330.34,65.25 L330.87,65.51 L331.39,65.77 L331.9,66.04 L332.42,66.3 L332.93,66.57 L333.44,66.85 L333.95,67.13 L334.45,67.41 L334.95,67.69 L335.45,67.98 L335.94,68.27 L336.43,68.57 L336.91,68.87 L337.39,69.17 L337.87,69.49 L338.34,69.8 L338.8,70.12 L339.26,70.45 L339.72,70.78 L340.17,71.12 L340.61,71.46 L341.05,71.81 L341.48,72.17 L341.9,72.54 L342.32,72.91 L342.73,73.29 L343.14,73.67 L343.53,74.07 L343.92,74.47 L344.3,74.88 L344.68,75.29 L345.04,75.72 L345.4,76.16 L345.75,76.6 L346.09,77.05 L346.42,77.52 L346.74,77.99 L347.05,78.47 L347.36,78.96 L347.65,79.46 L347.94,79.97 L348.22,80.48 L348.49,81.01 L348.76,81.53 L349.02,82.07 L349.28,82.61 L349.53,83.15 L349.78,83.7 L350.03,84.25 L350.27,84.81 L350.51,85.36 L350.75,85.92 L350.99,86.48 L351.22,87.04 L351.46,87.6 L351.7,88.15 L351.94,88.71 L352.19,89.26 L352.43,89.81 L352.68,90.36 L352.93,90.9 L353.19,91.44 L353.45,91.97 L353.72,92.49 L353.99,93.01 L354.28,93.53 L354.56,94.03 L354.86,94.52 L355.16,95.01 L355.48,95.49 L355.8,95.96 L356.12,96.42 L356.46,96.87 L356.8,97.32 L357.15,97.76 L357.51,98.19 L357.87,98.61 L358.24,99.03 L358.62,99.44 L359,99.84 L359.39,100.24 L359.78,100.63 L360.18,101.02 L360.59,101.4 L361,101.77 L361.42,102.14 L361.84,102.51 L362.27,102.87 L362.7,103.22 L363.13,103.57 L363.57,103.92 L364.02,104.26 L364.47,104.6 L364.92,104.94 L365.38,105.27 L365.84,105.6 L366.3,105.93 L366.76,106.25 L367.23,106.57 L367.71,106.89 L368.18,107.21 L368.66,107.52 L369.14,107.83 L369.62,108.15 L370.1,108.46 L370.59,108.77 L371.07,109.07 L371.56,109.38 L372.05,109.69 L372.54,110 L373.04,110.3 L373.53,110.61 L374.02,110.92 L374.52,111.23 L375.01,111.54 L375.5,111.85 L376,112.16 L376.49,112.47 L376.99,112.79 L377.48,113.1 L377.97,113.42 L378.46,113.74 L378.95,114.07 L379.44,114.39 L379.93,114.72 L380.42,115.05 L380.9,115.39 L381.38,115.73 L381.86,116.07 L382.34,116.42 L382.82,116.77 L383.29,117.12 L383.76,117.48 L384.23,117.85 L384.69,118.22 L385.15,118.59 L385.61,118.97 L386.06,119.36 L386.51,119.75 L386.96,120.14 L387.41,120.54 L387.85,120.94 L388.29,121.35 L388.72,121.76 L389.16,122.17 L389.59,122.58 L390.02,122.99 L390.45,123.4 L390.88,123.82 L391.31,124.23 L391.74,124.64 L392.16,125.05 L392.59,125.46 L393.02,125.86 L393.44,126.26 L393.87,126.66 L394.3,127.05 L394.73,127.44 L395.16,127.83 L395.59,128.21 L396.02,128.58 L396.46,128.94 L396.9,129.3 L397.34,129.65 L397.78,129.99 L398.23,130.32 L398.67,130.65 L399.13,130.96 L399.58,131.26 L400.04,131.55 L400.5,131.83 L400.97,132.1 L401.44,132.36 L401.92,132.6 L402.4,132.83 L402.88,133.05 L403.37,133.25 L403.87,133.43 L404.37,133.6 L404.88,133.76 L405.39,133.89 L405.92,134.01 L406.44,134.12 L406.98,134.2 L407.52,134.27 L408.07,134.31 L408.63,134.34 L409.19,134.35 L409.76,134.33 L410.35,134.3 L410.93,134.24 L411.53,134.16 L412.14,134.06 L412.76,133.93 L413.38,133.78 L414.02,133.61 L414.66,133.41 L415.32,133.19" fill="none" stroke="#0a0a0a" stroke-width="1.3" stroke-linejoin="round" stroke-linecap="round" />
<rect x="275.4" y="35.6" width="5.6" height="5.6" fill="#0a0a0a"/>
<rect x="282.7" y="38" width="5.6" height="5.6" fill="#0a0a0a"/>
<rect x="297.2" y="45.7" width="5.6" height="5.6" fill="#0a0a0a"/>
<rect x="311.7" y="54.5" width="5.6" height="5.6" fill="#0a0a0a"/>
<rect x="326.2" y="62.3" width="5.6" height="5.6" fill="#0a0a0a"/>
<rect x="340.6" y="69.1" width="5.6" height="5.6" fill="#0a0a0a"/>
<rect x="355.1" y="97.4" width="5.6" height="5.6" fill="#0a0a0a"/>
<rect x="369.3" y="106.7" width="5.6" height="5.6" fill="#0a0a0a"/>
<rect x="383.6" y="115.5" width="5.6" height="5.6" fill="#0a0a0a"/>
<rect x="398" y="134.1" width="5.6" height="5.6" fill="#0a0a0a"/>
<rect x="412.6" y="130.2" width="5.6" height="5.6" fill="#0a0a0a"/>
<path d="M278,54.01 L278.37,54.4 L278.75,54.79 L279.13,55.18 L279.51,55.57 L279.9,55.97 L280.29,56.36 L280.68,56.74 L281.08,57.13 L281.47,57.52 L281.87,57.91 L282.28,58.29 L282.68,58.68 L283.09,59.06 L283.51,59.44 L283.92,59.82 L284.34,60.2 L284.76,60.57 L285.18,60.95 L285.61,61.32 L286.03,61.69 L286.46,62.05 L286.9,62.42 L287.33,62.78 L287.77,63.14 L288.21,63.5 L288.65,63.85 L289.1,64.2 L289.55,64.55 L290,64.89 L290.45,65.23 L290.91,65.57 L291.36,65.9 L291.82,66.23 L292.29,66.55 L292.75,66.88 L293.22,67.19 L293.69,67.51 L294.16,67.81 L294.63,68.12 L295.11,68.42 L295.59,68.71 L296.07,69 L296.55,69.29 L297.03,69.57 L297.52,69.84 L298.01,70.11 L298.5,70.38 L298.99,70.63 L299.49,70.89 L299.98,71.13 L300.48,71.38 L300.98,71.61 L301.48,71.84 L301.99,72.07 L302.49,72.28 L303,72.5 L303.51,72.71 L304.02,72.91 L304.54,73.11 L305.05,73.31 L305.57,73.5 L306.08,73.69 L306.6,73.87 L307.12,74.05 L307.64,74.23 L308.16,74.41 L308.69,74.58 L309.21,74.75 L309.74,74.91 L310.26,75.07 L310.79,75.24 L311.32,75.39 L311.85,75.55 L312.38,75.71 L312.91,75.86 L313.44,76.01 L313.98,76.16 L314.51,76.31 L315.04,76.46 L315.58,76.61 L316.11,76.76 L316.65,76.9 L317.19,77.05 L317.72,77.2 L318.26,77.35 L318.8,77.49 L319.33,77.64 L319.87,77.79 L320.41,77.94 L320.94,78.09 L321.48,78.25 L322.02,78.4 L322.56,78.56 L323.09,78.72 L323.63,78.88 L324.17,79.04 L324.7,79.2 L325.24,79.37 L325.78,79.54 L326.31,79.71 L326.85,79.89 L327.38,80.07 L327.92,80.25 L328.45,80.44 L328.98,80.63 L329.51,80.82 L330.04,81.02 L330.57,81.23 L331.1,81.44 L331.62,81.65 L332.14,81.87 L332.66,82.09 L333.17,82.32 L333.68,82.56 L334.18,82.8 L334.69,83.05 L335.18,83.3 L335.67,83.57 L336.16,83.83 L336.64,84.11 L337.11,84.39 L337.58,84.69 L338.03,84.98 L338.49,85.29 L338.93,85.61 L339.37,85.93 L339.8,86.27 L340.22,86.61 L340.63,86.96 L341.03,87.32 L341.42,87.69 L341.81,88.07 L342.18,88.47 L342.54,88.87 L342.89,89.28 L343.23,89.7 L343.56,90.14 L343.88,90.58 L344.19,91.03 L344.49,91.49 L344.78,91.97 L345.06,92.44 L345.33,92.93 L345.6,93.42 L345.86,93.92 L346.11,94.43 L346.36,94.94 L346.6,95.46 L346.84,95.98 L347.07,96.5 L347.3,97.03 L347.53,97.57 L347.75,98.1 L347.97,98.64 L348.19,99.18 L348.4,99.72 L348.62,100.26 L348.83,100.81 L349.04,101.35 L349.26,101.89 L349.47,102.43 L349.68,102.97 L349.9,103.51 L350.12,104.04 L350.34,104.57 L350.57,105.1 L350.8,105.63 L351.03,106.15 L351.27,106.66 L351.51,107.17 L351.76,107.68 L352.01,108.18 L352.27,108.67 L352.54,109.15 L352.81,109.63 L353.09,110.1 L353.38,110.56 L353.68,111.01 L353.98,111.45 L354.29,111.89 L354.6,112.32 L354.93,112.73 L355.26,113.14 L355.6,113.54 L355.95,113.92 L356.31,114.3 L356.67,114.67 L357.04,115.02 L357.42,115.37 L357.81,115.7 L358.21,116.02 L358.61,116.32 L359.03,116.62 L359.45,116.9 L359.88,117.17 L360.32,117.43 L360.77,117.67 L361.23,117.9 L361.7,118.12 L362.17,118.32 L362.65,118.52 L363.14,118.7 L363.64,118.88 L364.14,119.04 L364.65,119.19 L365.17,119.34 L365.69,119.47 L366.22,119.6 L366.76,119.72 L367.29,119.83 L367.84,119.94 L368.39,120.04 L368.94,120.13 L369.5,120.22 L370.06,120.3 L370.62,120.38 L371.19,120.46 L371.76,120.53 L372.34,120.6 L372.91,120.66 L373.49,120.73 L374.07,120.79 L374.65,120.85 L375.24,120.91 L375.82,120.97 L376.41,121.03 L376.99,121.09 L377.58,121.15 L378.16,121.21 L378.75,121.28 L379.33,121.34 L379.92,121.41 L380.5,121.49 L381.08,121.57 L381.66,121.65 L382.24,121.73 L382.82,121.82 L383.39,121.92 L383.96,122.02 L384.53,122.13 L385.09,122.25 L385.65,122.38 L386.21,122.51 L386.76,122.65 L387.31,122.79 L387.86,122.95 L388.4,123.11 L388.94,123.27 L389.47,123.44 L390,123.61 L390.53,123.78 L391.06,123.96 L391.59,124.13 L392.11,124.31 L392.63,124.48 L393.15,124.65 L393.66,124.82 L394.18,124.99 L394.69,125.15 L395.21,125.31 L395.72,125.46 L396.23,125.6 L396.74,125.74 L397.25,125.87 L397.76,125.98 L398.28,126.09 L398.79,126.19 L399.3,126.28 L399.81,126.35 L400.32,126.41 L400.84,126.46 L401.35,126.49 L401.87,126.51 L402.38,126.51 L402.9,126.5 L403.42,126.47 L403.94,126.43 L404.45,126.37 L404.97,126.3 L405.49,126.2 L406.01,126.1 L406.53,125.97 L407.06,125.83 L407.58,125.67 L408.1,125.5 L408.62,125.31 L409.14,125.1 L409.66,124.87 L410.18,124.62 L410.7,124.36 L411.22,124.08 L411.74,123.78 L412.26,123.46 L412.78,123.12 L413.29,122.76 L413.81,122.38 L414.33,121.99 L414.84,121.57 L415.36,121.13" fill="none" stroke="#3f82c2" stroke-width="1.3" stroke-linejoin="round" stroke-linecap="round" />
<path d="M278.2,50 L281.88,54 L278.2,58 L274.52,54Z" fill="#3f82c2"/>
<path d="M285.5,57.4 L289.18,61.4 L285.5,65.4 L281.82,61.4Z" fill="#3f82c2"/>
<path d="M300,66.9 L303.68,70.9 L300,74.9 L296.32,70.9Z" fill="#3f82c2"/>
<path d="M314.5,72.8 L318.18,76.8 L314.5,80.8 L310.82,76.8Z" fill="#3f82c2"/>
<path d="M329,75.7 L332.68,79.7 L329,83.7 L325.32,79.7Z" fill="#3f82c2"/>
<path d="M343.4,85.3 L347.08,89.3 L343.4,93.3 L339.72,89.3Z" fill="#3f82c2"/>
<path d="M357.9,113.8 L361.58,117.8 L357.9,121.8 L354.22,117.8Z" fill="#3f82c2"/>
<path d="M372.1,115.9 L375.78,119.9 L372.1,123.9 L368.42,119.9Z" fill="#3f82c2"/>
<path d="M386.4,118.2 L390.08,122.2 L386.4,126.2 L382.72,122.2Z" fill="#3f82c2"/>
<path d="M400.8,124.2 L404.48,128.2 L400.8,132.2 L397.12,128.2Z" fill="#3f82c2"/>
<path d="M415.4,117.2 L419.08,121.2 L415.4,125.2 L411.72,121.2Z" fill="#3f82c2"/>
<path d="M277.91,68.51 L278.39,68.94 L278.87,69.37 L279.35,69.79 L279.83,70.22 L280.31,70.64 L280.78,71.06 L281.26,71.48 L281.74,71.89 L282.22,72.3 L282.69,72.71 L283.17,73.12 L283.65,73.52 L284.13,73.92 L284.6,74.32 L285.08,74.72 L285.56,75.11 L286.04,75.5 L286.52,75.89 L286.99,76.27 L287.47,76.66 L287.95,77.04 L288.44,77.41 L288.92,77.79 L289.4,78.16 L289.88,78.53 L290.37,78.89 L290.85,79.26 L291.34,79.62 L291.83,79.97 L292.31,80.33 L292.81,80.68 L293.3,81.03 L293.79,81.37 L294.28,81.72 L294.78,82.06 L295.28,82.39 L295.78,82.73 L296.28,83.06 L296.78,83.39 L297.29,83.71 L297.79,84.04 L298.3,84.36 L298.81,84.67 L299.33,84.99 L299.84,85.3 L300.36,85.6 L300.88,85.91 L301.41,86.21 L301.93,86.51 L302.46,86.8 L302.99,87.09 L303.52,87.38 L304.06,87.67 L304.6,87.95 L305.14,88.23 L305.69,88.51 L306.24,88.78 L306.79,89.05 L307.34,89.32 L307.9,89.58 L308.46,89.84 L309.03,90.1 L309.6,90.35 L310.17,90.6 L310.75,90.85 L311.33,91.09 L311.91,91.33 L312.5,91.57 L313.09,91.8 L313.69,92.03 L314.29,92.26 L314.89,92.49 L315.5,92.71 L316.11,92.92 L316.72,93.14 L317.34,93.35 L317.96,93.57 L318.58,93.78 L319.2,93.99 L319.82,94.2 L320.45,94.41 L321.07,94.62 L321.69,94.83 L322.31,95.04 L322.93,95.25 L323.55,95.47 L324.17,95.69 L324.78,95.91 L325.39,96.13 L326,96.35 L326.6,96.58 L327.2,96.82 L327.79,97.05 L328.38,97.3 L328.96,97.54 L329.54,97.8 L330.11,98.06 L330.67,98.32 L331.23,98.59 L331.77,98.87 L332.31,99.16 L332.84,99.45 L333.36,99.75 L333.88,100.07 L334.38,100.38 L334.87,100.71 L335.35,101.05 L335.82,101.4 L336.28,101.76 L336.73,102.13 L337.16,102.5 L337.59,102.89 L338,103.29 L338.4,103.69 L338.8,104.11 L339.18,104.53 L339.56,104.96 L339.92,105.4 L340.28,105.85 L340.63,106.31 L340.96,106.77 L341.29,107.24 L341.62,107.72 L341.93,108.21 L342.23,108.7 L342.53,109.2 L342.82,109.71 L343.11,110.22 L343.38,110.74 L343.65,111.27 L343.92,111.8 L344.18,112.34 L344.43,112.88 L344.67,113.43 L344.91,113.98 L345.15,114.54 L345.38,115.1 L345.61,115.67 L345.83,116.24 L346.04,116.82 L346.25,117.4 L346.46,117.98 L346.67,118.57 L346.87,119.16 L347.07,119.76 L347.26,120.35 L347.45,120.95 L347.64,121.56 L347.83,122.16 L348.02,122.77 L348.2,123.38 L348.38,123.99 L348.56,124.6 L348.74,125.22 L348.92,125.83 L349.1,126.45 L349.27,127.07 L349.45,127.68 L349.63,128.3 L349.81,128.92 L349.98,129.54 L350.16,130.16 L350.34,130.78 L350.52,131.4 L350.7,132.02 L350.89,132.64 L351.07,133.25 L351.26,133.87 L351.45,134.48 L351.64,135.09 L351.84,135.7 L352.03,136.31 L352.23,136.92 L352.44,137.52 L352.65,138.12 L352.86,138.72 L353.07,139.32 L353.29,139.91 L353.52,140.5 L353.75,141.09 L353.98,141.67 L354.22,142.25 L354.47,142.82 L354.72,143.39 L354.98,143.96 L355.24,144.52 L355.51,145.07 L355.78,145.62 L356.06,146.17 L356.35,146.7 L356.64,147.23 L356.94,147.76 L357.25,148.28 L357.57,148.79 L357.89,149.29 L358.22,149.78 L358.56,150.27 L358.9,150.75 L359.26,151.22 L359.62,151.68 L359.99,152.13 L360.37,152.58 L360.76,153.01 L361.15,153.43 L361.56,153.85 L361.97,154.25 L362.4,154.64 L362.83,155.02 L363.27,155.39 L363.72,155.75 L364.19,156.1 L364.66,156.43 L365.14,156.75 L365.64,157.07 L366.14,157.37 L366.65,157.66 L367.17,157.94 L367.69,158.21 L368.23,158.47 L368.77,158.72 L369.32,158.97 L369.87,159.21 L370.44,159.44 L371,159.66 L371.58,159.88 L372.15,160.09 L372.74,160.3 L373.32,160.5 L373.92,160.7 L374.51,160.9 L375.11,161.09 L375.71,161.28 L376.32,161.46 L376.92,161.64 L377.53,161.83 L378.14,162.01 L378.75,162.19 L379.36,162.37 L379.97,162.55 L380.59,162.73 L381.2,162.91 L381.81,163.1 L382.42,163.28 L383.03,163.47 L383.64,163.67 L384.24,163.86 L384.84,164.06 L385.44,164.27 L386.04,164.48 L386.63,164.69 L387.22,164.91 L387.81,165.13 L388.39,165.35 L388.97,165.58 L389.55,165.81 L390.13,166.04 L390.71,166.27 L391.28,166.5 L391.85,166.73 L392.42,166.96 L392.99,167.18 L393.56,167.41 L394.13,167.63 L394.69,167.84 L395.26,168.06 L395.82,168.26 L396.39,168.46 L396.95,168.66 L397.52,168.85 L398.08,169.03 L398.65,169.2 L399.21,169.37 L399.78,169.52 L400.35,169.67 L400.92,169.81 L401.49,169.93 L402.06,170.04 L402.63,170.14 L403.21,170.23 L403.78,170.31 L404.36,170.37 L404.94,170.41 L405.53,170.44 L406.11,170.46 L406.7,170.46 L407.3,170.44 L407.89,170.4 L408.49,170.35 L409.09,170.27 L409.7,170.18 L410.31,170.07 L410.92,169.93 L411.54,169.78 L412.17,169.6 L412.79,169.4 L413.43,169.18 L414.06,168.93 L414.71,168.66 L415.35,168.37" fill="none" stroke="#d2323e" stroke-width="1.3" stroke-linejoin="round" stroke-linecap="round" />
<path d="M278.2,65.5 L281.53,67.92 L280.26,71.83 L276.14,71.83 L274.87,67.92Z" fill="#d2323e"/>
<path d="M285.5,72.3 L288.83,74.72 L287.56,78.63 L283.44,78.63 L282.17,74.72Z" fill="#d2323e"/>
<path d="M300,82 L303.33,84.42 L302.06,88.33 L297.94,88.33 L296.67,84.42Z" fill="#d2323e"/>
<path d="M314.5,89.4 L317.83,91.82 L316.56,95.73 L312.44,95.73 L311.17,91.82Z" fill="#d2323e"/>
<path d="M329,93.7 L332.33,96.12 L331.06,100.03 L326.94,100.03 L325.67,96.12Z" fill="#d2323e"/>
<path d="M343.4,104.6 L346.73,107.02 L345.46,110.93 L341.34,110.93 L340.07,107.02Z" fill="#d2323e"/>
<path d="M357.9,148.9 L361.23,151.32 L359.96,155.23 L355.84,155.23 L354.57,151.32Z" fill="#d2323e"/>
<path d="M372.1,157.5 L375.43,159.92 L374.16,163.83 L370.04,163.83 L368.77,159.92Z" fill="#d2323e"/>
<path d="M386.4,160.1 L389.73,162.52 L388.46,166.43 L384.34,166.43 L383.07,162.52Z" fill="#d2323e"/>
<path d="M400.8,170.4 L404.13,172.82 L402.86,176.73 L398.74,176.73 L397.47,172.82Z" fill="#d2323e"/>
<path d="M415.4,165.3 L418.73,167.72 L417.46,171.63 L413.34,171.63 L412.07,167.72Z" fill="#d2323e"/>
<path d="M278.13,67.3 L278.53,67.82 L278.94,68.33 L279.36,68.82 L279.78,69.31 L280.21,69.79 L280.64,70.25 L281.08,70.71 L281.53,71.15 L281.98,71.59 L282.43,72.02 L282.89,72.43 L283.36,72.84 L283.83,73.23 L284.31,73.62 L284.79,74 L285.27,74.37 L285.76,74.73 L286.26,75.08 L286.75,75.43 L287.26,75.76 L287.76,76.09 L288.27,76.41 L288.79,76.73 L289.31,77.03 L289.83,77.33 L290.36,77.62 L290.89,77.91 L291.42,78.18 L291.96,78.46 L292.5,78.72 L293.04,78.98 L293.59,79.23 L294.14,79.48 L294.69,79.72 L295.25,79.96 L295.81,80.19 L296.37,80.41 L296.93,80.63 L297.5,80.85 L298.07,81.06 L298.64,81.27 L299.21,81.47 L299.79,81.67 L300.36,81.86 L300.94,82.06 L301.52,82.24 L302.11,82.43 L302.69,82.61 L303.28,82.79 L303.86,82.96 L304.45,83.13 L305.04,83.3 L305.63,83.47 L306.22,83.64 L306.82,83.8 L307.41,83.97 L308,84.13 L308.6,84.29 L309.19,84.44 L309.79,84.6 L310.39,84.76 L310.98,84.91 L311.58,85.07 L312.18,85.22 L312.77,85.38 L313.37,85.53 L313.97,85.69 L314.56,85.84 L315.16,86 L315.75,86.15 L316.35,86.31 L316.94,86.47 L317.54,86.63 L318.13,86.79 L318.72,86.95 L319.31,87.12 L319.9,87.29 L320.49,87.45 L321.07,87.63 L321.66,87.8 L322.24,87.97 L322.82,88.15 L323.4,88.34 L323.98,88.52 L324.56,88.71 L325.13,88.9 L325.71,89.1 L326.28,89.3 L326.84,89.5 L327.41,89.71 L327.97,89.92 L328.53,90.14 L329.09,90.36 L329.64,90.59 L330.19,90.82 L330.74,91.06 L331.29,91.3 L331.83,91.55 L332.37,91.81 L332.91,92.07 L333.44,92.34 L333.97,92.61 L334.49,92.89 L335.01,93.18 L335.53,93.47 L336.04,93.77 L336.55,94.08 L337.06,94.39 L337.56,94.72 L338.05,95.05 L338.54,95.38 L339.02,95.73 L339.5,96.08 L339.97,96.44 L340.43,96.81 L340.89,97.19 L341.33,97.57 L341.77,97.96 L342.21,98.36 L342.63,98.77 L343.04,99.19 L343.45,99.62 L343.85,100.05 L344.23,100.5 L344.61,100.95 L344.97,101.41 L345.33,101.88 L345.67,102.36 L346.01,102.85 L346.33,103.34 L346.64,103.85 L346.94,104.36 L347.23,104.89 L347.51,105.42 L347.78,105.95 L348.05,106.5 L348.3,107.05 L348.55,107.6 L348.8,108.16 L349.03,108.73 L349.26,109.3 L349.49,109.87 L349.7,110.45 L349.92,111.03 L350.13,111.62 L350.34,112.21 L350.55,112.8 L350.75,113.39 L350.95,113.98 L351.15,114.57 L351.35,115.17 L351.55,115.76 L351.74,116.36 L351.94,116.95 L352.14,117.55 L352.35,118.14 L352.55,118.73 L352.76,119.32 L352.97,119.9 L353.18,120.48 L353.4,121.06 L353.62,121.64 L353.85,122.21 L354.08,122.78 L354.31,123.35 L354.55,123.91 L354.79,124.47 L355.03,125.03 L355.28,125.59 L355.53,126.14 L355.78,126.69 L356.03,127.25 L356.29,127.8 L356.55,128.34 L356.82,128.89 L357.08,129.44 L357.35,129.98 L357.62,130.52 L357.89,131.07 L358.17,131.61 L358.44,132.15 L358.72,132.69 L359,133.23 L359.28,133.77 L359.56,134.31 L359.85,134.85 L360.13,135.4 L360.42,135.94 L360.7,136.48 L360.99,137.03 L361.28,137.57 L361.57,138.12 L361.86,138.66 L362.15,139.21 L362.44,139.76 L362.73,140.31 L363.02,140.87 L363.31,141.42 L363.6,141.97 L363.9,142.51 L364.2,143.06 L364.51,143.6 L364.82,144.13 L365.13,144.65 L365.45,145.16 L365.78,145.66 L366.12,146.15 L366.47,146.63 L366.83,147.09 L367.19,147.54 L367.57,147.96 L367.96,148.37 L368.36,148.76 L368.78,149.13 L369.21,149.48 L369.65,149.81 L370.1,150.12 L370.57,150.4 L371.05,150.67 L371.54,150.91 L372.04,151.14 L372.56,151.34 L373.09,151.52 L373.63,151.69 L374.18,151.83 L374.74,151.96 L375.31,152.08 L375.89,152.18 L376.48,152.26 L377.07,152.34 L377.68,152.4 L378.29,152.46 L378.9,152.5 L379.52,152.54 L380.15,152.57 L380.78,152.59 L381.41,152.61 L382.04,152.63 L382.68,152.64 L383.32,152.66 L383.96,152.67 L384.6,152.68 L385.24,152.7 L385.88,152.72 L386.52,152.74 L387.16,152.77 L387.79,152.8 L388.43,152.83 L389.06,152.86 L389.69,152.89 L390.32,152.92 L390.95,152.96 L391.57,152.99 L392.19,153.02 L392.81,153.04 L393.43,153.06 L394.04,153.08 L394.65,153.1 L395.26,153.11 L395.86,153.11 L396.46,153.11 L397.06,153.1 L397.65,153.09 L398.24,153.06 L398.83,153.03 L399.41,152.99 L399.99,152.93 L400.56,152.87 L401.13,152.8 L401.69,152.71 L402.25,152.61 L402.8,152.5 L403.35,152.38 L403.89,152.24 L404.43,152.08 L404.96,151.91 L405.48,151.73 L406,151.52 L406.52,151.3 L407.03,151.07 L407.53,150.81 L408.02,150.53 L408.51,150.24 L408.99,149.92 L409.47,149.58 L409.93,149.22 L410.39,148.84 L410.85,148.44 L411.29,148.01 L411.73,147.56 L412.16,147.08 L412.58,146.57 L413,146.05 L413.4,145.49 L413.8,144.91 L414.19,144.29 L414.57,143.65 L414.95,142.99 L415.31,142.29" fill="none" stroke="#ef8a2a" stroke-width="1.3" stroke-linejoin="round" stroke-linecap="round" />
<circle cx="278.2" cy="67.6" r="3.1" fill="#ef8a2a"/>
<circle cx="285.5" cy="73.9" r="3.1" fill="#ef8a2a"/>
<circle cx="300" cy="81.8" r="3.1" fill="#ef8a2a"/>
<circle cx="314.5" cy="86.5" r="3.1" fill="#ef8a2a"/>
<circle cx="329" cy="90" r="3.1" fill="#ef8a2a"/>
<circle cx="343.4" cy="97.7" r="3.1" fill="#ef8a2a"/>
<circle cx="357.9" cy="128.7" r="3.1" fill="#ef8a2a"/>
<circle cx="372.1" cy="152" r="3.1" fill="#ef8a2a"/>
<circle cx="386.4" cy="151.6" r="3.1" fill="#ef8a2a"/>
<circle cx="400.8" cy="157.2" r="3.1" fill="#ef8a2a"/>
<circle cx="415.4" cy="142.5" r="3.1" fill="#ef8a2a"/>
<rect x="264.2" y="17.5" width="173.4" height="179.5" fill="none" stroke="#111" stroke-width="1.3"/>
<line x1="278.4" y1="197" x2="278.4" y2="192" stroke="#111" stroke-width="1.2"/>
<line x1="307.3" y1="197" x2="307.3" y2="192" stroke="#111" stroke-width="1.2"/>
<line x1="336.2" y1="197" x2="336.2" y2="192" stroke="#111" stroke-width="1.2"/>
<line x1="365.1" y1="197" x2="365.1" y2="192" stroke="#111" stroke-width="1.2"/>
<line x1="394" y1="197" x2="394" y2="192" stroke="#111" stroke-width="1.2"/>
<line x1="422.9" y1="197" x2="422.9" y2="192" stroke="#111" stroke-width="1.2"/>
<line x1="292.85" y1="197" x2="292.85" y2="194" stroke="#111" stroke-width="1.2"/>
<line x1="321.75" y1="197" x2="321.75" y2="194" stroke="#111" stroke-width="1.2"/>
<line x1="350.65" y1="197" x2="350.65" y2="194" stroke="#111" stroke-width="1.2"/>
<line x1="379.55" y1="197" x2="379.55" y2="194" stroke="#111" stroke-width="1.2"/>
<line x1="408.45" y1="197" x2="408.45" y2="194" stroke="#111" stroke-width="1.2"/>
<text x="278.4" y="211.5" font-size="10.5" text-anchor="middle" font-weight="normal" font-style="normal" fill="#1a1a1a" >300</text>
<text x="307.3" y="211.5" font-size="10.5" text-anchor="middle" font-weight="normal" font-style="normal" fill="#1a1a1a" >400</text>
<text x="336.2" y="211.5" font-size="10.5" text-anchor="middle" font-weight="normal" font-style="normal" fill="#1a1a1a" >500</text>
<text x="365.1" y="211.5" font-size="10.5" text-anchor="middle" font-weight="normal" font-style="normal" fill="#1a1a1a" >600</text>
<text x="394" y="211.5" font-size="10.5" text-anchor="middle" font-weight="normal" font-style="normal" fill="#1a1a1a" >700</text>
<text x="422.9" y="211.5" font-size="10.5" text-anchor="middle" font-weight="normal" font-style="normal" fill="#1a1a1a" >800</text>
<line x1="264.2" y1="197" x2="269.2" y2="197" stroke="#111" stroke-width="1.2"/>
<line x1="264.2" y1="173" x2="269.2" y2="173" stroke="#111" stroke-width="1.2"/>
<line x1="264.2" y1="149" x2="269.2" y2="149" stroke="#111" stroke-width="1.2"/>
<line x1="264.2" y1="125" x2="269.2" y2="125" stroke="#111" stroke-width="1.2"/>
<line x1="264.2" y1="101" x2="269.2" y2="101" stroke="#111" stroke-width="1.2"/>
<line x1="264.2" y1="77" x2="269.2" y2="77" stroke="#111" stroke-width="1.2"/>
<line x1="264.2" y1="53" x2="269.2" y2="53" stroke="#111" stroke-width="1.2"/>
<line x1="264.2" y1="29" x2="269.2" y2="29" stroke="#111" stroke-width="1.2"/>
<line x1="264.2" y1="185" x2="267.2" y2="185" stroke="#111" stroke-width="1.2"/>
<line x1="264.2" y1="161" x2="267.2" y2="161" stroke="#111" stroke-width="1.2"/>
<line x1="264.2" y1="137" x2="267.2" y2="137" stroke="#111" stroke-width="1.2"/>
<line x1="264.2" y1="113" x2="267.2" y2="113" stroke="#111" stroke-width="1.2"/>
<line x1="264.2" y1="89" x2="267.2" y2="89" stroke="#111" stroke-width="1.2"/>
<line x1="264.2" y1="65" x2="267.2" y2="65" stroke="#111" stroke-width="1.2"/>
<line x1="264.2" y1="41" x2="267.2" y2="41" stroke="#111" stroke-width="1.2"/>
<text x="260" y="200.6" font-size="10.5" text-anchor="end" font-weight="normal" font-style="normal" fill="#1a1a1a" >0.3</text>
<text x="260" y="176.6" font-size="10.5" text-anchor="end" font-weight="normal" font-style="normal" fill="#1a1a1a" >0.4</text>
<text x="260" y="152.6" font-size="10.5" text-anchor="end" font-weight="normal" font-style="normal" fill="#1a1a1a" >0.5</text>
<text x="260" y="128.6" font-size="10.5" text-anchor="end" font-weight="normal" font-style="normal" fill="#1a1a1a" >0.6</text>
<text x="260" y="104.6" font-size="10.5" text-anchor="end" font-weight="normal" font-style="normal" fill="#1a1a1a" >0.7</text>
<text x="260" y="80.6" font-size="10.5" text-anchor="end" font-weight="normal" font-style="normal" fill="#1a1a1a" >0.8</text>
<text x="260" y="56.6" font-size="10.5" text-anchor="end" font-weight="normal" font-style="normal" fill="#1a1a1a" >0.9</text>
<text x="260" y="32.6" font-size="10.5" text-anchor="end" font-weight="normal" font-style="normal" fill="#1a1a1a" >1.0</text>
<text x="351" y="226" font-size="12.5" text-anchor="middle" font-weight="bold" font-style="normal" fill="#1a1a1a" ><tspan font-style="italic">T</tspan> (K)</text>
<text transform="translate(236.6,108) rotate(-90)" font-size="13.5" text-anchor="middle" font-weight="bold" fill="#111"><tspan font-style="italic">κ</tspan><tspan dy="2.5" font-size="8.5">l</tspan><tspan dy="-2.5"> </tspan>(W·m<tspan dy="-4.5" font-size="8.5">−1</tspan><tspan dy="4.5">·K</tspan><tspan dy="-4.5" font-size="8.5">−1</tspan><tspan dy="4.5">)</tspan></text>
<text x="224.6" y="11.4" font-size="15.5" text-anchor="start" font-weight="bold" font-style="normal" fill="#1a1a1a" >b</text>
<path d="M489.4,92.2 L492.78,92.22 L496.17,92.23 L499.56,92.24 L502.94,92.25 L506.33,92.26 L509.72,92.27 L513.1,92.29 L516.49,92.3 L519.87,92.32 L523.25,92.34 L526.63,92.37 L530,92.4 L533.34,92.43 L536.68,92.47 L540.02,92.51 L543.36,92.54 L546.69,92.59 L550.02,92.63 L553.35,92.68 L556.68,92.73 L560.01,92.79 L563.34,92.85 L566.67,92.92 L570,93 L573.32,93.08 L576.61,93.17 L579.88,93.25 L583.14,93.35 L586.4,93.45 L589.67,93.55 L592.96,93.66 L596.28,93.77 L599.63,93.89 L603.03,94.02 L606.48,94.16 L610,94.3 L614.1,94.47 L618.27,94.66 L622.52,94.87 L626.83,95.08 L631.18,95.3 L635.58,95.53 L639.99,95.76 L644.41,95.99 L648.84,96.22 L653.25,96.45 L657.65,96.68 L662,96.9 L662,197 L489.4,197 Z" fill="#db9499" stroke="none"/>
<path d="M489.4,92.2 L492.78,92.22 L496.17,92.23 L499.56,92.24 L502.94,92.25 L506.33,92.26 L509.72,92.27 L513.1,92.29 L516.49,92.3 L519.87,92.32 L523.25,92.34 L526.63,92.37 L530,92.4 L533.34,92.43 L536.68,92.47 L540.02,92.51 L543.36,92.54 L546.69,92.59 L550.02,92.63 L553.35,92.68 L556.68,92.73 L560.01,92.79 L563.34,92.85 L566.67,92.92 L570,93 L573.32,93.08 L576.61,93.17 L579.88,93.25 L583.14,93.35 L586.4,93.45 L589.67,93.55 L592.96,93.66 L596.28,93.77 L599.63,93.89 L603.03,94.02 L606.48,94.16 L610,94.3 L614.1,94.47 L618.27,94.66 L622.52,94.87 L626.83,95.08 L631.18,95.3 L635.58,95.53 L639.99,95.76 L644.41,95.99 L648.84,96.22 L653.25,96.45 L657.65,96.68 L662,96.9" fill="none" stroke="#c4303a" stroke-width="1.4" stroke-linejoin="round" stroke-linecap="round" />
<path d="M489.4,197 L489.53,196.65 L489.65,196.31 L489.77,195.97 L489.89,195.65 L490.01,195.32 L490.13,194.98 L490.25,194.64 L490.38,194.29 L490.52,193.92 L490.67,193.54 L490.83,193.13 L491,192.7 L491.33,191.9 L491.72,191.01 L492.14,190.06 L492.59,189.06 L493.07,188.01 L493.56,186.93 L494.06,185.83 L494.55,184.73 L495.03,183.63 L495.48,182.55 L495.91,181.51 L496.3,180.5 L496.62,179.61 L496.92,178.72 L497.2,177.82 L497.47,176.92 L497.73,176.02 L497.98,175.14 L498.23,174.27 L498.47,173.42 L498.72,172.59 L498.97,171.79 L499.23,171.03 L499.5,170.3 L499.71,169.79 L499.92,169.31 L500.15,168.85 L500.37,168.41 L500.6,167.99 L500.82,167.57 L501.04,167.15 L501.25,166.74 L501.46,166.32 L501.65,165.9 L501.83,165.46 L502,165 L502.15,164.52 L502.29,164.02 L502.42,163.53 L502.53,163.03 L502.63,162.52 L502.73,162.01 L502.82,161.5 L502.91,160.98 L503,160.46 L503.1,159.94 L503.19,159.42 L503.3,158.9 L503.41,158.35 L503.53,157.79 L503.64,157.23 L503.75,156.66 L503.86,156.09 L503.97,155.52 L504.09,154.95 L504.2,154.38 L504.32,153.81 L504.44,153.24 L504.57,152.67 L504.7,152.1 L504.83,151.53 L504.97,150.96 L505.11,150.38 L505.25,149.81 L505.4,149.23 L505.55,148.66 L505.7,148.09 L505.85,147.52 L506.01,146.95 L506.17,146.4 L506.33,145.84 L506.5,145.3 L506.66,144.8 L506.82,144.31 L506.99,143.82 L507.16,143.34 L507.34,142.87 L507.51,142.39 L507.69,141.92 L507.87,141.45 L508.05,140.97 L508.23,140.49 L508.42,140 L508.6,139.5 L508.8,138.96 L508.99,138.41 L509.18,137.87 L509.37,137.32 L509.57,136.77 L509.76,136.21 L509.97,135.65 L510.17,135.08 L510.39,134.5 L510.61,133.91 L510.85,133.31 L511.1,132.7 L511.43,131.91 L511.77,131.09 L512.12,130.24 L512.49,129.37 L512.86,128.49 L513.25,127.6 L513.65,126.71 L514.07,125.83 L514.49,124.96 L514.92,124.11 L515.35,123.29 L515.8,122.5 L516.22,121.8 L516.64,121.11 L517.08,120.43 L517.52,119.76 L517.98,119.11 L518.44,118.46 L518.9,117.83 L519.37,117.21 L519.85,116.61 L520.33,116.02 L520.81,115.45 L521.3,114.9 L521.73,114.43 L522.17,113.97 L522.61,113.53 L523.05,113.1 L523.5,112.69 L523.95,112.28 L524.4,111.88 L524.86,111.5 L525.32,111.11 L525.78,110.74 L526.24,110.37 L526.7,110 L527.14,109.66 L527.58,109.32 L528.03,108.99 L528.47,108.67 L528.92,108.35 L529.37,108.04 L529.82,107.74 L530.27,107.44 L530.73,107.15 L531.18,106.86 L531.64,106.58 L532.1,106.3 L532.54,106.04 L532.99,105.78 L533.43,105.52 L533.88,105.28 L534.33,105.03 L534.78,104.79 L535.23,104.56 L535.68,104.33 L536.13,104.12 L536.59,103.9 L537.04,103.7 L537.5,103.5 L537.94,103.32 L538.39,103.14 L538.84,102.98 L539.29,102.82 L539.73,102.67 L540.19,102.52 L540.64,102.38 L541.09,102.24 L541.54,102.1 L541.99,101.97 L542.45,101.83 L542.9,101.7 L543.35,101.57 L543.8,101.44 L544.24,101.32 L544.69,101.19 L545.14,101.07 L545.59,100.96 L546.04,100.84 L546.49,100.73 L546.94,100.62 L547.39,100.51 L547.85,100.4 L548.3,100.3 L548.75,100.2 L549.19,100.1 L549.62,100 L550.05,99.91 L550.49,99.82 L550.92,99.73 L551.36,99.64 L551.82,99.55 L552.28,99.46 L552.77,99.37 L553.27,99.29 L553.8,99.2 L554.59,99.08 L555.42,98.95 L556.28,98.83 L557.18,98.7 L558.1,98.58 L559.05,98.46 L560.01,98.34 L561,98.22 L561.99,98.11 L562.99,98 L564,97.9 L565,97.8 L566.17,97.69 L567.35,97.59 L568.54,97.5 L569.76,97.4 L570.98,97.32 L572.23,97.24 L573.48,97.16 L574.76,97.08 L576.05,97.01 L577.35,96.94 L578.67,96.87 L580,96.8 L581.55,96.72 L583.12,96.65 L584.7,96.57 L586.3,96.5 L587.92,96.43 L589.57,96.37 L591.23,96.31 L592.93,96.26 L594.65,96.21 L596.4,96.17 L598.18,96.13 L600,96.1 L602.28,96.07 L604.64,96.06 L607.05,96.06 L609.51,96.07 L612.02,96.08 L614.56,96.1 L617.12,96.13 L619.7,96.16 L622.29,96.2 L624.87,96.23 L627.45,96.27 L630,96.3 L632.63,96.34 L635.27,96.38 L637.93,96.42 L640.59,96.47 L643.26,96.52 L645.94,96.58 L648.61,96.63 L651.3,96.69 L653.98,96.74 L656.65,96.8 L659.33,96.85 L662,96.9 L662,197 L489.4,197 Z" fill="#96c2dc" stroke="none"/>
<path d="M489.4,197 L489.53,196.65 L489.65,196.31 L489.77,195.97 L489.89,195.65 L490.01,195.32 L490.13,194.98 L490.25,194.64 L490.38,194.29 L490.52,193.92 L490.67,193.54 L490.83,193.13 L491,192.7 L491.33,191.9 L491.72,191.01 L492.14,190.06 L492.59,189.06 L493.07,188.01 L493.56,186.93 L494.06,185.83 L494.55,184.73 L495.03,183.63 L495.48,182.55 L495.91,181.51 L496.3,180.5 L496.62,179.61 L496.92,178.72 L497.2,177.82 L497.47,176.92 L497.73,176.02 L497.98,175.14 L498.23,174.27 L498.47,173.42 L498.72,172.59 L498.97,171.79 L499.23,171.03 L499.5,170.3 L499.71,169.79 L499.92,169.31 L500.15,168.85 L500.37,168.41 L500.6,167.99 L500.82,167.57 L501.04,167.15 L501.25,166.74 L501.46,166.32 L501.65,165.9 L501.83,165.46 L502,165 L502.15,164.52 L502.29,164.02 L502.42,163.53 L502.53,163.03 L502.63,162.52 L502.73,162.01 L502.82,161.5 L502.91,160.98 L503,160.46 L503.1,159.94 L503.19,159.42 L503.3,158.9 L503.41,158.35 L503.53,157.79 L503.64,157.23 L503.75,156.66 L503.86,156.09 L503.97,155.52 L504.09,154.95 L504.2,154.38 L504.32,153.81 L504.44,153.24 L504.57,152.67 L504.7,152.1 L504.83,151.53 L504.97,150.96 L505.11,150.38 L505.25,149.81 L505.4,149.23 L505.55,148.66 L505.7,148.09 L505.85,147.52 L506.01,146.95 L506.17,146.4 L506.33,145.84 L506.5,145.3 L506.66,144.8 L506.82,144.31 L506.99,143.82 L507.16,143.34 L507.34,142.87 L507.51,142.39 L507.69,141.92 L507.87,141.45 L508.05,140.97 L508.23,140.49 L508.42,140 L508.6,139.5 L508.8,138.96 L508.99,138.41 L509.18,137.87 L509.37,137.32 L509.57,136.77 L509.76,136.21 L509.97,135.65 L510.17,135.08 L510.39,134.5 L510.61,133.91 L510.85,133.31 L511.1,132.7 L511.43,131.91 L511.77,131.09 L512.12,130.24 L512.49,129.37 L512.86,128.49 L513.25,127.6 L513.65,126.71 L514.07,125.83 L514.49,124.96 L514.92,124.11 L515.35,123.29 L515.8,122.5 L516.22,121.8 L516.64,121.11 L517.08,120.43 L517.52,119.76 L517.98,119.11 L518.44,118.46 L518.9,117.83 L519.37,117.21 L519.85,116.61 L520.33,116.02 L520.81,115.45 L521.3,114.9 L521.73,114.43 L522.17,113.97 L522.61,113.53 L523.05,113.1 L523.5,112.69 L523.95,112.28 L524.4,111.88 L524.86,111.5 L525.32,111.11 L525.78,110.74 L526.24,110.37 L526.7,110 L527.14,109.66 L527.58,109.32 L528.03,108.99 L528.47,108.67 L528.92,108.35 L529.37,108.04 L529.82,107.74 L530.27,107.44 L530.73,107.15 L531.18,106.86 L531.64,106.58 L532.1,106.3 L532.54,106.04 L532.99,105.78 L533.43,105.52 L533.88,105.28 L534.33,105.03 L534.78,104.79 L535.23,104.56 L535.68,104.33 L536.13,104.12 L536.59,103.9 L537.04,103.7 L537.5,103.5 L537.94,103.32 L538.39,103.14 L538.84,102.98 L539.29,102.82 L539.73,102.67 L540.19,102.52 L540.64,102.38 L541.09,102.24 L541.54,102.1 L541.99,101.97 L542.45,101.83 L542.9,101.7 L543.35,101.57 L543.8,101.44 L544.24,101.32 L544.69,101.19 L545.14,101.07 L545.59,100.96 L546.04,100.84 L546.49,100.73 L546.94,100.62 L547.39,100.51 L547.85,100.4 L548.3,100.3 L548.75,100.2 L549.19,100.1 L549.62,100 L550.05,99.91 L550.49,99.82 L550.92,99.73 L551.36,99.64 L551.82,99.55 L552.28,99.46 L552.77,99.37 L553.27,99.29 L553.8,99.2 L554.59,99.08 L555.42,98.95 L556.28,98.83 L557.18,98.7 L558.1,98.58 L559.05,98.46 L560.01,98.34 L561,98.22 L561.99,98.11 L562.99,98 L564,97.9 L565,97.8 L566.17,97.69 L567.35,97.59 L568.54,97.5 L569.76,97.4 L570.98,97.32 L572.23,97.24 L573.48,97.16 L574.76,97.08 L576.05,97.01 L577.35,96.94 L578.67,96.87 L580,96.8 L581.55,96.72 L583.12,96.65 L584.7,96.57 L586.3,96.5 L587.92,96.43 L589.57,96.37 L591.23,96.31 L592.93,96.26 L594.65,96.21 L596.4,96.17 L598.18,96.13 L600,96.1 L602.28,96.07 L604.64,96.06 L607.05,96.06 L609.51,96.07 L612.02,96.08 L614.56,96.1 L617.12,96.13 L619.7,96.16 L622.29,96.2 L624.87,96.23 L627.45,96.27 L630,96.3 L632.63,96.34 L635.27,96.38 L637.93,96.42 L640.59,96.47 L643.26,96.52 L645.94,96.58 L648.61,96.63 L651.3,96.69 L653.98,96.74 L656.65,96.8 L659.33,96.85 L662,96.9" fill="none" stroke="#3a84c4" stroke-width="1.1" stroke-linejoin="round" stroke-linecap="round" />
<path d="M489.4,197 L489.57,196.65 L489.74,196.31 L489.9,195.98 L490.06,195.65 L490.22,195.32 L490.39,194.99 L490.55,194.65 L490.73,194.3 L490.9,193.93 L491.09,193.54 L491.29,193.14 L491.5,192.7 L491.89,191.9 L492.33,191.02 L492.81,190.07 L493.32,189.07 L493.85,188.02 L494.39,186.94 L494.93,185.85 L495.46,184.74 L495.97,183.64 L496.46,182.56 L496.9,181.51 L497.3,180.5 L497.62,179.62 L497.92,178.73 L498.21,177.83 L498.48,176.94 L498.73,176.04 L498.97,175.16 L499.2,174.29 L499.42,173.44 L499.62,172.61 L499.82,171.8 L500.01,171.03 L500.2,170.3 L500.33,169.8 L500.44,169.33 L500.55,168.88 L500.65,168.45 L500.75,168.03 L500.84,167.62 L500.94,167.2 L501.03,166.79 L501.12,166.36 L501.21,165.93 L501.3,165.48 L501.4,165 L501.52,164.39 L501.64,163.75 L501.76,163.1 L501.88,162.43 L501.99,161.75 L502.11,161.06 L502.23,160.37 L502.36,159.67 L502.48,158.99 L502.62,158.31 L502.76,157.65 L502.9,157 L503.04,156.41 L503.18,155.83 L503.32,155.25 L503.46,154.67 L503.61,154.1 L503.76,153.53 L503.91,152.97 L504.07,152.41 L504.24,151.85 L504.42,151.3 L504.6,150.75 L504.8,150.2 L505,149.65 L505.21,149.1 L505.43,148.55 L505.65,148 L505.88,147.45 L506.12,146.9 L506.36,146.37 L506.61,145.84 L506.87,145.33 L507.14,144.83 L507.42,144.36 L507.7,143.9 L507.95,143.52 L508.2,143.14 L508.46,142.77 L508.73,142.41 L509,142.06 L509.27,141.73 L509.56,141.4 L509.85,141.09 L510.15,140.79 L510.46,140.51 L510.77,140.24 L511.1,140 L511.42,139.78 L511.75,139.58 L512.09,139.38 L512.44,139.2 L512.8,139.04 L513.16,138.88 L513.52,138.74 L513.9,138.62 L514.27,138.52 L514.65,138.43 L515.02,138.35 L515.4,138.3 L515.79,138.27 L516.19,138.25 L516.6,138.26 L517.01,138.29 L517.43,138.33 L517.84,138.39 L518.26,138.47 L518.68,138.56 L519.09,138.65 L519.5,138.76 L519.9,138.88 L520.3,139 L520.71,139.14 L521.11,139.29 L521.52,139.46 L521.92,139.64 L522.32,139.84 L522.71,140.04 L523.11,140.25 L523.49,140.47 L523.88,140.7 L524.26,140.93 L524.63,141.16 L525,141.4 L525.35,141.63 L525.68,141.86 L526,142.09 L526.31,142.33 L526.61,142.57 L526.91,142.82 L527.22,143.08 L527.54,143.35 L527.87,143.63 L528.23,143.94 L528.6,144.26 L529,144.6 L529.78,145.27 L530.63,146.03 L531.54,146.85 L532.51,147.74 L533.52,148.66 L534.56,149.63 L535.63,150.61 L536.71,151.6 L537.8,152.59 L538.88,153.56 L539.95,154.5 L541,155.4 L542.05,156.3 L543.11,157.21 L544.17,158.12 L545.24,159.04 L546.31,159.95 L547.39,160.86 L548.47,161.75 L549.57,162.62 L550.66,163.46 L551.77,164.28 L552.88,165.06 L554,165.8 L555.05,166.45 L556.12,167.08 L557.19,167.68 L558.26,168.25 L559.34,168.8 L560.43,169.33 L561.52,169.85 L562.62,170.35 L563.71,170.85 L564.81,171.33 L565.9,171.82 L567,172.3 L568.06,172.77 L569.12,173.22 L570.16,173.66 L571.2,174.09 L572.24,174.52 L573.29,174.93 L574.35,175.34 L575.43,175.74 L576.53,176.13 L577.65,176.52 L578.81,176.91 L580,177.3 L581.49,177.77 L583.02,178.22 L584.58,178.67 L586.17,179.11 L587.79,179.54 L589.45,179.96 L591.13,180.38 L592.85,180.79 L594.59,181.2 L596.37,181.61 L598.17,182 L600,182.4 L602.28,182.88 L604.62,183.36 L607.03,183.84 L609.49,184.31 L612,184.77 L614.54,185.23 L617.1,185.67 L619.68,186.09 L622.27,186.5 L624.86,186.89 L627.44,187.26 L630,187.6 L632.62,187.92 L635.26,188.2 L637.92,188.46 L640.58,188.7 L643.25,188.91 L645.92,189.12 L648.61,189.31 L651.29,189.5 L653.97,189.69 L656.65,189.88 L659.33,190.08 L662,190.3 L662,197 L489.4,197 Z" fill="#efbf8c" stroke="none"/>
<path d="M489.4,197 L489.57,196.65 L489.74,196.31 L489.9,195.98 L490.06,195.65 L490.22,195.32 L490.39,194.99 L490.55,194.65 L490.73,194.3 L490.9,193.93 L491.09,193.54 L491.29,193.14 L491.5,192.7 L491.89,191.9 L492.33,191.02 L492.81,190.07 L493.32,189.07 L493.85,188.02 L494.39,186.94 L494.93,185.85 L495.46,184.74 L495.97,183.64 L496.46,182.56 L496.9,181.51 L497.3,180.5 L497.62,179.62 L497.92,178.73 L498.21,177.83 L498.48,176.94 L498.73,176.04 L498.97,175.16 L499.2,174.29 L499.42,173.44 L499.62,172.61 L499.82,171.8 L500.01,171.03 L500.2,170.3 L500.33,169.8 L500.44,169.33 L500.55,168.88 L500.65,168.45 L500.75,168.03 L500.84,167.62 L500.94,167.2 L501.03,166.79 L501.12,166.36 L501.21,165.93 L501.3,165.48 L501.4,165 L501.52,164.39 L501.64,163.75 L501.76,163.1 L501.88,162.43 L501.99,161.75 L502.11,161.06 L502.23,160.37 L502.36,159.67 L502.48,158.99 L502.62,158.31 L502.76,157.65 L502.9,157 L503.04,156.41 L503.18,155.83 L503.32,155.25 L503.46,154.67 L503.61,154.1 L503.76,153.53 L503.91,152.97 L504.07,152.41 L504.24,151.85 L504.42,151.3 L504.6,150.75 L504.8,150.2 L505,149.65 L505.21,149.1 L505.43,148.55 L505.65,148 L505.88,147.45 L506.12,146.9 L506.36,146.37 L506.61,145.84 L506.87,145.33 L507.14,144.83 L507.42,144.36 L507.7,143.9 L507.95,143.52 L508.2,143.14 L508.46,142.77 L508.73,142.41 L509,142.06 L509.27,141.73 L509.56,141.4 L509.85,141.09 L510.15,140.79 L510.46,140.51 L510.77,140.24 L511.1,140 L511.42,139.78 L511.75,139.58 L512.09,139.38 L512.44,139.2 L512.8,139.04 L513.16,138.88 L513.52,138.74 L513.9,138.62 L514.27,138.52 L514.65,138.43 L515.02,138.35 L515.4,138.3 L515.79,138.27 L516.19,138.25 L516.6,138.26 L517.01,138.29 L517.43,138.33 L517.84,138.39 L518.26,138.47 L518.68,138.56 L519.09,138.65 L519.5,138.76 L519.9,138.88 L520.3,139 L520.71,139.14 L521.11,139.29 L521.52,139.46 L521.92,139.64 L522.32,139.84 L522.71,140.04 L523.11,140.25 L523.49,140.47 L523.88,140.7 L524.26,140.93 L524.63,141.16 L525,141.4 L525.35,141.63 L525.68,141.86 L526,142.09 L526.31,142.33 L526.61,142.57 L526.91,142.82 L527.22,143.08 L527.54,143.35 L527.87,143.63 L528.23,143.94 L528.6,144.26 L529,144.6 L529.78,145.27 L530.63,146.03 L531.54,146.85 L532.51,147.74 L533.52,148.66 L534.56,149.63 L535.63,150.61 L536.71,151.6 L537.8,152.59 L538.88,153.56 L539.95,154.5 L541,155.4 L542.05,156.3 L543.11,157.21 L544.17,158.12 L545.24,159.04 L546.31,159.95 L547.39,160.86 L548.47,161.75 L549.57,162.62 L550.66,163.46 L551.77,164.28 L552.88,165.06 L554,165.8 L555.05,166.45 L556.12,167.08 L557.19,167.68 L558.26,168.25 L559.34,168.8 L560.43,169.33 L561.52,169.85 L562.62,170.35 L563.71,170.85 L564.81,171.33 L565.9,171.82 L567,172.3 L568.06,172.77 L569.12,173.22 L570.16,173.66 L571.2,174.09 L572.24,174.52 L573.29,174.93 L574.35,175.34 L575.43,175.74 L576.53,176.13 L577.65,176.52 L578.81,176.91 L580,177.3 L581.49,177.77 L583.02,178.22 L584.58,178.67 L586.17,179.11 L587.79,179.54 L589.45,179.96 L591.13,180.38 L592.85,180.79 L594.59,181.2 L596.37,181.61 L598.17,182 L600,182.4 L602.28,182.88 L604.62,183.36 L607.03,183.84 L609.49,184.31 L612,184.77 L614.54,185.23 L617.1,185.67 L619.68,186.09 L622.27,186.5 L624.86,186.89 L627.44,187.26 L630,187.6 L632.62,187.92 L635.26,188.2 L637.92,188.46 L640.58,188.7 L643.25,188.91 L645.92,189.12 L648.61,189.31 L651.29,189.5 L653.97,189.69 L656.65,189.88 L659.33,190.08 L662,190.3" fill="none" stroke="#f07a22" stroke-width="1.1" stroke-linejoin="round" stroke-linecap="round" />
<path d="M489.4,197 L489.7,196.48 L490,195.97 L490.29,195.46 L490.58,194.95 L490.87,194.44 L491.16,193.93 L491.46,193.42 L491.76,192.9 L492.08,192.37 L492.4,191.83 L492.74,191.27 L493.1,190.7 L493.6,189.93 L494.16,189.14 L494.75,188.33 L495.37,187.5 L496,186.65 L496.64,185.79 L497.27,184.92 L497.89,184.04 L498.49,183.16 L499.04,182.27 L499.55,181.39 L500,180.5 L500.37,179.66 L500.7,178.8 L501,177.92 L501.27,177.03 L501.51,176.13 L501.74,175.23 L501.96,174.35 L502.17,173.48 L502.37,172.63 L502.57,171.81 L502.78,171.03 L503,170.3 L503.16,169.8 L503.32,169.33 L503.47,168.89 L503.61,168.47 L503.76,168.05 L503.9,167.65 L504.05,167.24 L504.19,166.83 L504.34,166.4 L504.49,165.96 L504.64,165.5 L504.8,165 L505.02,164.27 L505.24,163.48 L505.45,162.65 L505.67,161.79 L505.9,160.9 L506.13,160.01 L506.36,159.11 L506.6,158.22 L506.86,157.36 L507.13,156.53 L507.41,155.74 L507.7,155 L507.94,154.44 L508.19,153.89 L508.45,153.35 L508.7,152.82 L508.97,152.31 L509.24,151.81 L509.52,151.33 L509.81,150.86 L510.12,150.42 L510.43,149.99 L510.76,149.58 L511.1,149.2 L511.41,148.88 L511.74,148.57 L512.08,148.28 L512.44,148 L512.8,147.74 L513.16,147.49 L513.53,147.25 L513.91,147.03 L514.28,146.83 L514.66,146.64 L515.03,146.46 L515.4,146.3 L515.72,146.17 L516.03,146.06 L516.35,145.95 L516.66,145.86 L516.98,145.78 L517.29,145.72 L517.61,145.66 L517.94,145.61 L518.27,145.57 L518.6,145.54 L518.95,145.51 L519.3,145.5 L519.74,145.49 L520.2,145.5 L520.68,145.53 L521.16,145.57 L521.66,145.62 L522.16,145.68 L522.66,145.76 L523.15,145.85 L523.64,145.95 L524.11,146.05 L524.56,146.17 L525,146.3 L525.36,146.42 L525.7,146.54 L526.02,146.67 L526.34,146.81 L526.64,146.95 L526.94,147.11 L527.25,147.27 L527.56,147.45 L527.89,147.64 L528.24,147.84 L528.6,148.06 L529,148.3 L529.78,148.78 L530.64,149.34 L531.56,149.95 L532.53,150.62 L533.55,151.33 L534.59,152.07 L535.66,152.84 L536.74,153.62 L537.83,154.41 L538.91,155.19 L539.97,155.96 L541,156.7 L542.07,157.48 L543.13,158.27 L544.2,159.09 L545.28,159.91 L546.35,160.74 L547.43,161.57 L548.51,162.39 L549.6,163.2 L550.69,163.99 L551.79,164.76 L552.89,165.5 L554,166.2 L555.06,166.84 L556.13,167.46 L557.2,168.06 L558.28,168.64 L559.36,169.2 L560.44,169.75 L561.53,170.29 L562.62,170.81 L563.71,171.33 L564.81,171.83 L565.9,172.32 L567,172.8 L568.06,173.26 L569.11,173.7 L570.16,174.13 L571.2,174.54 L572.24,174.95 L573.29,175.34 L574.35,175.73 L575.43,176.11 L576.53,176.48 L577.65,176.86 L578.81,177.23 L580,177.6 L581.49,178.05 L583.02,178.5 L584.58,178.93 L586.17,179.36 L587.8,179.78 L589.45,180.2 L591.14,180.61 L592.85,181.02 L594.6,181.42 L596.37,181.82 L598.17,182.21 L600,182.6 L602.28,183.08 L604.63,183.55 L607.03,184.03 L609.49,184.5 L612,184.96 L614.54,185.42 L617.1,185.86 L619.68,186.29 L622.27,186.7 L624.86,187.09 L627.44,187.46 L630,187.8 L632.62,188.12 L635.26,188.4 L637.92,188.66 L640.58,188.9 L643.25,189.11 L645.92,189.32 L648.61,189.51 L651.29,189.7 L653.97,189.89 L656.65,190.08 L659.33,190.28 L662,190.5 L662,197 L489.4,197 Z" fill="#c9b4de" stroke="none"/>
<path d="M489.4,197 L489.7,196.48 L490,195.97 L490.29,195.46 L490.58,194.95 L490.87,194.44 L491.16,193.93 L491.46,193.42 L491.76,192.9 L492.08,192.37 L492.4,191.83 L492.74,191.27 L493.1,190.7 L493.6,189.93 L494.16,189.14 L494.75,188.33 L495.37,187.5 L496,186.65 L496.64,185.79 L497.27,184.92 L497.89,184.04 L498.49,183.16 L499.04,182.27 L499.55,181.39 L500,180.5 L500.37,179.66 L500.7,178.8 L501,177.92 L501.27,177.03 L501.51,176.13 L501.74,175.23 L501.96,174.35 L502.17,173.48 L502.37,172.63 L502.57,171.81 L502.78,171.03 L503,170.3 L503.16,169.8 L503.32,169.33 L503.47,168.89 L503.61,168.47 L503.76,168.05 L503.9,167.65 L504.05,167.24 L504.19,166.83 L504.34,166.4 L504.49,165.96 L504.64,165.5 L504.8,165 L505.02,164.27 L505.24,163.48 L505.45,162.65 L505.67,161.79 L505.9,160.9 L506.13,160.01 L506.36,159.11 L506.6,158.22 L506.86,157.36 L507.13,156.53 L507.41,155.74 L507.7,155 L507.94,154.44 L508.19,153.89 L508.45,153.35 L508.7,152.82 L508.97,152.31 L509.24,151.81 L509.52,151.33 L509.81,150.86 L510.12,150.42 L510.43,149.99 L510.76,149.58 L511.1,149.2 L511.41,148.88 L511.74,148.57 L512.08,148.28 L512.44,148 L512.8,147.74 L513.16,147.49 L513.53,147.25 L513.91,147.03 L514.28,146.83 L514.66,146.64 L515.03,146.46 L515.4,146.3 L515.72,146.17 L516.03,146.06 L516.35,145.95 L516.66,145.86 L516.98,145.78 L517.29,145.72 L517.61,145.66 L517.94,145.61 L518.27,145.57 L518.6,145.54 L518.95,145.51 L519.3,145.5 L519.74,145.49 L520.2,145.5 L520.68,145.53 L521.16,145.57 L521.66,145.62 L522.16,145.68 L522.66,145.76 L523.15,145.85 L523.64,145.95 L524.11,146.05 L524.56,146.17 L525,146.3 L525.36,146.42 L525.7,146.54 L526.02,146.67 L526.34,146.81 L526.64,146.95 L526.94,147.11 L527.25,147.27 L527.56,147.45 L527.89,147.64 L528.24,147.84 L528.6,148.06 L529,148.3 L529.78,148.78 L530.64,149.34 L531.56,149.95 L532.53,150.62 L533.55,151.33 L534.59,152.07 L535.66,152.84 L536.74,153.62 L537.83,154.41 L538.91,155.19 L539.97,155.96 L541,156.7 L542.07,157.48 L543.13,158.27 L544.2,159.09 L545.28,159.91 L546.35,160.74 L547.43,161.57 L548.51,162.39 L549.6,163.2 L550.69,163.99 L551.79,164.76 L552.89,165.5 L554,166.2 L555.06,166.84 L556.13,167.46 L557.2,168.06 L558.28,168.64 L559.36,169.2 L560.44,169.75 L561.53,170.29 L562.62,170.81 L563.71,171.33 L564.81,171.83 L565.9,172.32 L567,172.8 L568.06,173.26 L569.11,173.7 L570.16,174.13 L571.2,174.54 L572.24,174.95 L573.29,175.34 L574.35,175.73 L575.43,176.11 L576.53,176.48 L577.65,176.86 L578.81,177.23 L580,177.6 L581.49,178.05 L583.02,178.5 L584.58,178.93 L586.17,179.36 L587.8,179.78 L589.45,180.2 L591.14,180.61 L592.85,181.02 L594.6,181.42 L596.37,181.82 L598.17,182.21 L600,182.6 L602.28,183.08 L604.63,183.55 L607.03,184.03 L609.49,184.5 L612,184.96 L614.54,185.42 L617.1,185.86 L619.68,186.29 L622.27,186.7 L624.86,187.09 L627.44,187.46 L630,187.8 L632.62,188.12 L635.26,188.4 L637.92,188.66 L640.58,188.9 L643.25,189.11 L645.92,189.32 L648.61,189.51 L651.29,189.7 L653.97,189.89 L656.65,190.08 L659.33,190.28 L662,190.5" fill="none" stroke="#b46ed0" stroke-width="1.1" stroke-linejoin="round" stroke-linecap="round" />
<path d="M489.4,197 L489.79,196.65 L490.19,196.3 L490.58,195.96 L490.98,195.62 L491.37,195.29 L491.77,194.95 L492.16,194.6 L492.55,194.25 L492.94,193.88 L493.33,193.5 L493.72,193.11 L494.1,192.7 L494.54,192.19 L494.97,191.65 L495.39,191.09 L495.81,190.5 L496.23,189.9 L496.65,189.29 L497.07,188.68 L497.48,188.07 L497.91,187.48 L498.33,186.89 L498.76,186.33 L499.2,185.8 L499.6,185.33 L500,184.85 L500.41,184.38 L500.81,183.91 L501.22,183.45 L501.63,183 L502.04,182.56 L502.46,182.14 L502.88,181.75 L503.31,181.37 L503.75,181.02 L504.2,180.7 L504.6,180.44 L505.01,180.21 L505.43,179.99 L505.85,179.8 L506.28,179.61 L506.71,179.44 L507.15,179.29 L507.58,179.14 L508.01,179 L508.45,178.86 L508.88,178.73 L509.3,178.6 L509.69,178.48 L510.08,178.37 L510.46,178.27 L510.84,178.17 L511.22,178.08 L511.6,178 L511.99,177.92 L512.37,177.85 L512.77,177.78 L513.17,177.72 L513.58,177.66 L514,177.6 L514.5,177.54 L515.01,177.49 L515.53,177.44 L516.05,177.4 L516.59,177.37 L517.13,177.34 L517.67,177.32 L518.23,177.3 L518.79,177.29 L519.35,177.29 L519.92,177.29 L520.5,177.3 L521.16,177.32 L521.83,177.35 L522.51,177.39 L523.2,177.44 L523.89,177.5 L524.59,177.57 L525.3,177.64 L526.02,177.71 L526.75,177.78 L527.49,177.86 L528.24,177.93 L529,178 L529.93,178.08 L530.88,178.16 L531.84,178.24 L532.83,178.32 L533.83,178.4 L534.84,178.49 L535.86,178.58 L536.89,178.67 L537.92,178.77 L538.95,178.87 L539.98,178.98 L541,179.1 L542.07,179.23 L543.14,179.37 L544.22,179.52 L545.3,179.68 L546.38,179.84 L547.47,180.01 L548.56,180.18 L549.65,180.35 L550.74,180.51 L551.83,180.68 L552.91,180.84 L554,181 L555.08,181.15 L556.17,181.31 L557.25,181.46 L558.33,181.61 L559.42,181.76 L560.5,181.91 L561.58,182.06 L562.67,182.2 L563.75,182.35 L564.83,182.5 L565.92,182.65 L567,182.8 L568.07,182.95 L569.13,183.1 L570.18,183.25 L571.23,183.4 L572.27,183.55 L573.32,183.7 L574.38,183.85 L575.46,184 L576.55,184.15 L577.67,184.3 L578.82,184.45 L580,184.6 L581.5,184.79 L583.04,184.98 L584.6,185.18 L586.2,185.38 L587.82,185.58 L589.47,185.78 L591.16,185.97 L592.87,186.17 L594.61,186.36 L596.38,186.55 L598.18,186.73 L600,186.9 L602.28,187.1 L604.64,187.3 L607.05,187.48 L609.51,187.66 L612.02,187.84 L614.56,188.01 L617.12,188.18 L619.7,188.34 L622.29,188.5 L624.87,188.67 L627.45,188.83 L630,189 L632.63,189.17 L635.27,189.34 L637.93,189.51 L640.59,189.68 L643.26,189.85 L645.93,190.01 L648.61,190.18 L651.29,190.34 L653.98,190.5 L656.65,190.67 L659.33,190.83 L662,191 L662,197 L489.4,197 Z" fill="#85a69b" stroke="none"/>
<path d="M489.4,197 L489.79,196.65 L490.19,196.3 L490.58,195.96 L490.98,195.62 L491.37,195.29 L491.77,194.95 L492.16,194.6 L492.55,194.25 L492.94,193.88 L493.33,193.5 L493.72,193.11 L494.1,192.7 L494.54,192.19 L494.97,191.65 L495.39,191.09 L495.81,190.5 L496.23,189.9 L496.65,189.29 L497.07,188.68 L497.48,188.07 L497.91,187.48 L498.33,186.89 L498.76,186.33 L499.2,185.8 L499.6,185.33 L500,184.85 L500.41,184.38 L500.81,183.91 L501.22,183.45 L501.63,183 L502.04,182.56 L502.46,182.14 L502.88,181.75 L503.31,181.37 L503.75,181.02 L504.2,180.7 L504.6,180.44 L505.01,180.21 L505.43,179.99 L505.85,179.8 L506.28,179.61 L506.71,179.44 L507.15,179.29 L507.58,179.14 L508.01,179 L508.45,178.86 L508.88,178.73 L509.3,178.6 L509.69,178.48 L510.08,178.37 L510.46,178.27 L510.84,178.17 L511.22,178.08 L511.6,178 L511.99,177.92 L512.37,177.85 L512.77,177.78 L513.17,177.72 L513.58,177.66 L514,177.6 L514.5,177.54 L515.01,177.49 L515.53,177.44 L516.05,177.4 L516.59,177.37 L517.13,177.34 L517.67,177.32 L518.23,177.3 L518.79,177.29 L519.35,177.29 L519.92,177.29 L520.5,177.3 L521.16,177.32 L521.83,177.35 L522.51,177.39 L523.2,177.44 L523.89,177.5 L524.59,177.57 L525.3,177.64 L526.02,177.71 L526.75,177.78 L527.49,177.86 L528.24,177.93 L529,178 L529.93,178.08 L530.88,178.16 L531.84,178.24 L532.83,178.32 L533.83,178.4 L534.84,178.49 L535.86,178.58 L536.89,178.67 L537.92,178.77 L538.95,178.87 L539.98,178.98 L541,179.1 L542.07,179.23 L543.14,179.37 L544.22,179.52 L545.3,179.68 L546.38,179.84 L547.47,180.01 L548.56,180.18 L549.65,180.35 L550.74,180.51 L551.83,180.68 L552.91,180.84 L554,181 L555.08,181.15 L556.17,181.31 L557.25,181.46 L558.33,181.61 L559.42,181.76 L560.5,181.91 L561.58,182.06 L562.67,182.2 L563.75,182.35 L564.83,182.5 L565.92,182.65 L567,182.8 L568.07,182.95 L569.13,183.1 L570.18,183.25 L571.23,183.4 L572.27,183.55 L573.32,183.7 L574.38,183.85 L575.46,184 L576.55,184.15 L577.67,184.3 L578.82,184.45 L580,184.6 L581.5,184.79 L583.04,184.98 L584.6,185.18 L586.2,185.38 L587.82,185.58 L589.47,185.78 L591.16,185.97 L592.87,186.17 L594.61,186.36 L596.38,186.55 L598.18,186.73 L600,186.9 L602.28,187.1 L604.64,187.3 L607.05,187.48 L609.51,187.66 L612.02,187.84 L614.56,188.01 L617.12,188.18 L619.7,188.34 L622.29,188.5 L624.87,188.67 L627.45,188.83 L630,189 L632.63,189.17 L635.27,189.34 L637.93,189.51 L640.59,189.68 L643.26,189.85 L645.93,190.01 L648.61,190.18 L651.29,190.34 L653.98,190.5 L656.65,190.67 L659.33,190.83 L662,191" fill="none" stroke="#173f2c" stroke-width="1.1" stroke-linejoin="round" stroke-linecap="round" />
<line x1="516.1" y1="32.8" x2="540.7" y2="32.8" stroke="#d0383a" stroke-width="1.3"/>
<text x="543.5" y="36.6" font-size="10.5" text-anchor="start" font-weight="normal" font-style="normal" fill="#1a1a1a" >U</text>
<line x1="578" y1="32.8" x2="601.7" y2="32.8" stroke="#3a84c4" stroke-width="1.3"/>
<text x="604.2" y="36.6" font-size="10.5" text-anchor="start" font-weight="normal" font-style="normal" fill="#1a1a1a" >U+GB</text>
<line x1="516.1" y1="47" x2="540.7" y2="47" stroke="#f07a22" stroke-width="1.3"/>
<text x="543.5" y="50.8" font-size="10.5" text-anchor="start" font-weight="normal" font-style="normal" fill="#1a1a1a" >U+GB+PD</text>
<line x1="516.1" y1="61.2" x2="540.7" y2="61.2" stroke="#b46ed0" stroke-width="1.3"/>
<text x="543.5" y="65" font-size="10.5" text-anchor="start" font-weight="normal" font-style="normal" fill="#1a1a1a" >U+GB+PD+NP</text>
<line x1="516.1" y1="75" x2="540.7" y2="75" stroke="#173f2c" stroke-width="1.3"/>
<text x="543.5" y="78.8" font-size="10.5" text-anchor="start" font-weight="normal" font-style="normal" fill="#1a1a1a" >U+GB+PD+NP+SF</text>
<rect x="489.4" y="17.5" width="172.6" height="179.5" fill="none" stroke="#111" stroke-width="1.3"/>
<line x1="489.4" y1="197" x2="489.4" y2="192" stroke="#111" stroke-width="1.2"/>
<line x1="523.92" y1="197" x2="523.92" y2="192" stroke="#111" stroke-width="1.2"/>
<line x1="558.44" y1="197" x2="558.44" y2="192" stroke="#111" stroke-width="1.2"/>
<line x1="592.96" y1="197" x2="592.96" y2="192" stroke="#111" stroke-width="1.2"/>
<line x1="627.48" y1="197" x2="627.48" y2="192" stroke="#111" stroke-width="1.2"/>
<line x1="662" y1="197" x2="662" y2="192" stroke="#111" stroke-width="1.2"/>
<line x1="506.66" y1="197" x2="506.66" y2="194" stroke="#111" stroke-width="1.2"/>
<line x1="541.18" y1="197" x2="541.18" y2="194" stroke="#111" stroke-width="1.2"/>
<line x1="575.7" y1="197" x2="575.7" y2="194" stroke="#111" stroke-width="1.2"/>
<line x1="610.22" y1="197" x2="610.22" y2="194" stroke="#111" stroke-width="1.2"/>
<line x1="644.74" y1="197" x2="644.74" y2="194" stroke="#111" stroke-width="1.2"/>
<text x="489.4" y="211.5" font-size="10.5" text-anchor="middle" font-weight="normal" font-style="normal" fill="#1a1a1a" >0</text>
<text x="523.92" y="211.5" font-size="10.5" text-anchor="middle" font-weight="normal" font-style="normal" fill="#1a1a1a" >0.2</text>
<text x="558.44" y="211.5" font-size="10.5" text-anchor="middle" font-weight="normal" font-style="normal" fill="#1a1a1a" >0.4</text>
<text x="592.96" y="211.5" font-size="10.5" text-anchor="middle" font-weight="normal" font-style="normal" fill="#1a1a1a" >0.6</text>
<text x="627.48" y="211.5" font-size="10.5" text-anchor="middle" font-weight="normal" font-style="normal" fill="#1a1a1a" >0.8</text>
<text x="662" y="211.5" font-size="10.5" text-anchor="middle" font-weight="normal" font-style="normal" fill="#1a1a1a" >1</text>
<line x1="489.4" y1="197" x2="494.4" y2="197" stroke="#111" stroke-width="1.2"/>
<line x1="489.4" y1="169.32" x2="494.4" y2="169.32" stroke="#111" stroke-width="1.2"/>
<line x1="489.4" y1="141.63" x2="494.4" y2="141.63" stroke="#111" stroke-width="1.2"/>
<line x1="489.4" y1="113.95" x2="494.4" y2="113.95" stroke="#111" stroke-width="1.2"/>
<line x1="489.4" y1="86.26" x2="494.4" y2="86.26" stroke="#111" stroke-width="1.2"/>
<line x1="489.4" y1="58.58" x2="494.4" y2="58.58" stroke="#111" stroke-width="1.2"/>
<line x1="489.4" y1="30.9" x2="494.4" y2="30.9" stroke="#111" stroke-width="1.2"/>
<line x1="489.4" y1="183.16" x2="492.4" y2="183.16" stroke="#111" stroke-width="1.2"/>
<line x1="489.4" y1="155.47" x2="492.4" y2="155.47" stroke="#111" stroke-width="1.2"/>
<line x1="489.4" y1="127.79" x2="492.4" y2="127.79" stroke="#111" stroke-width="1.2"/>
<line x1="489.4" y1="100.11" x2="492.4" y2="100.11" stroke="#111" stroke-width="1.2"/>
<line x1="489.4" y1="72.42" x2="492.4" y2="72.42" stroke="#111" stroke-width="1.2"/>
<line x1="489.4" y1="44.74" x2="492.4" y2="44.74" stroke="#111" stroke-width="1.2"/>
<text x="485.2" y="200.6" font-size="10.5" text-anchor="end" font-weight="normal" font-style="normal" fill="#1a1a1a" >0</text>
<text x="485.2" y="172.92" font-size="10.5" text-anchor="end" font-weight="normal" font-style="normal" fill="#1a1a1a" >1.2</text>
<text x="485.2" y="145.23" font-size="10.5" text-anchor="end" font-weight="normal" font-style="normal" fill="#1a1a1a" >2.4</text>
<text x="485.2" y="117.55" font-size="10.5" text-anchor="end" font-weight="normal" font-style="normal" fill="#1a1a1a" >3.6</text>
<text x="485.2" y="89.86" font-size="10.5" text-anchor="end" font-weight="normal" font-style="normal" fill="#1a1a1a" >4.8</text>
<text x="485.2" y="62.18" font-size="10.5" text-anchor="end" font-weight="normal" font-style="normal" fill="#1a1a1a" >6.0</text>
<text x="485.2" y="34.5" font-size="10.5" text-anchor="end" font-weight="normal" font-style="normal" fill="#1a1a1a" >7.2</text>
<text x="575.4" y="225.2" font-size="13" text-anchor="middle" font-weight="bold" font-style="italic" fill="#1a1a1a" >ω/ω<tspan dy="4.2" font-size="9.2" font-style="normal">D</tspan></text>
<text transform="translate(461.6,106.5) rotate(-90)" font-size="13.5" text-anchor="middle" font-weight="bold" fill="#111"><tspan font-style="italic">κ</tspan><tspan dy="2.5" font-size="8.5">s</tspan><tspan dy="-2.5"> </tspan>(W·m<tspan dy="-4.5" font-size="8.5">−1</tspan><tspan dy="4.5">·K</tspan><tspan dy="-4.5" font-size="8.5">−1</tspan><tspan dy="4.5">)</tspan></text>
<text x="449.7" y="11.4" font-size="15.5" text-anchor="start" font-weight="bold" font-style="normal" fill="#1a1a1a" >c</text>
<path d="M34.7,430.49 L35.95,430.37 L37.2,430.23 L38.45,430.08 L39.7,429.93 L40.95,429.76 L42.2,429.57 L43.45,429.37 L44.7,429.16 L45.95,428.93 L47.2,428.68 L48.45,428.41 L49.7,428.13 L50.95,427.82 L52.2,427.48 L53.45,427.12 L54.7,426.74 L55.95,426.33 L57.2,425.88 L58.45,425.4 L59.7,424.89 L60.95,424.35 L62.2,423.76 L63.45,423.13 L64.7,422.45 L65.95,421.73 L67.2,420.96 L68.45,420.14 L69.7,419.26 L70.95,418.33 L72.2,417.33 L73.45,416.27 L74.7,415.14 L75.95,413.94 L77.2,412.67 L78.45,411.32 L79.7,409.89 L80.95,408.38 L82.2,406.78 L83.45,405.1 L84.7,403.33 L85.95,401.47 L87.2,399.52 L88.45,397.48 L89.7,395.35 L90.95,393.13 L92.2,390.82 L93.45,388.42 L94.7,385.95 L95.95,383.4 L97.2,380.79 L98.45,378.12 L99.7,375.4 L100.95,372.64 L102.2,369.87 L103.45,367.08 L104.7,364.31 L105.95,361.57 L107.2,358.88 L108.45,356.27 L109.7,353.76 L110.95,351.36 L112.2,349.12 L113.45,347.05 L114.7,345.18 L115.95,343.53 L117.2,342.12 L118.45,340.98 L119.7,340.12 L120.95,339.55 L122.2,339.29 L123.45,339.33 L124.7,339.68 L125.95,340.34 L127.2,341.3 L128.45,342.54 L129.7,344.04 L130.95,345.79 L132.2,347.77 L133.45,349.94 L134.7,352.29 L135.95,354.77 L137.2,357.37 L138.45,360.06 L139.7,362.81 L140.95,365.59 L142.2,368.38 L143.45,371.17 L144.7,373.92 L145.95,376.63 L147.2,379.29 L148.45,381.87 L149.7,384.37 L150.95,386.79 L152.2,389.11 L153.45,391.34 L154.7,393.47 L155.95,395.5 L157.2,397.43 L158.45,399.26 L159.7,401 L160.95,402.64 L162.2,404.19 L163.45,405.66 L164.7,407.04 L165.95,408.34 L167.2,409.57 L168.45,410.72 L169.7,411.81 L170.95,412.83 L172.2,413.79 L173.45,414.69 L174.7,415.54 L175.95,416.33 L177.2,417.08 L178.45,417.79 L179.7,418.45 L180.95,419.08 L182.2,419.67 L183.45,420.22 L184.7,420.74 L185.95,421.23 L187.2,421.69 L188.45,422.13 L189.7,422.54 L190.95,422.93 L192.2,423.3 L193.45,423.65 L194.7,423.98 L195.95,424.29 L197.2,424.59 L198.45,424.87 L199.7,425.13 L200.95,425.38 L202.2,425.62 L203.45,425.85 L204.7,426.06 L205.95,426.27 L207.2,426.46 L208.45,426.65 L209.7,426.83" fill="none" stroke="#111111" stroke-width="1.6" stroke-linejoin="round" stroke-linecap="round" />
<path d="M34.7,430.11 L35.95,429.96 L37.2,429.79 L38.45,429.61 L39.7,429.41 L40.95,429.19 L42.2,428.97 L43.45,428.72 L44.7,428.45 L45.95,428.16 L47.2,427.85 L48.45,427.52 L49.7,427.16 L50.95,426.77 L52.2,426.36 L53.45,425.91 L54.7,425.43 L55.95,424.91 L57.2,424.36 L58.45,423.76 L59.7,423.13 L60.95,422.44 L62.2,421.71 L63.45,420.92 L64.7,420.09 L65.95,419.19 L67.2,418.23 L68.45,417.21 L69.7,416.11 L70.95,414.95 L72.2,413.71 L73.45,412.39 L74.7,410.99 L75.95,409.51 L77.2,407.93 L78.45,406.26 L79.7,404.49 L80.95,402.63 L82.2,400.66 L83.45,398.59 L84.7,396.42 L85.95,394.13 L87.2,391.75 L88.45,389.25 L89.7,386.65 L90.95,383.95 L92.2,381.16 L93.45,378.27 L94.7,375.29 L95.95,372.24 L97.2,369.13 L98.45,365.96 L99.7,362.75 L100.95,359.52 L102.2,356.29 L103.45,353.08 L104.7,349.92 L105.95,346.82 L107.2,343.81 L108.45,340.93 L109.7,338.21 L110.95,335.66 L112.2,333.33 L113.45,331.23 L114.7,329.41 L115.95,327.88 L117.2,326.66 L118.45,325.78 L119.7,325.24 L120.95,325.06 L122.2,325.25 L123.45,325.79 L124.7,326.69 L125.95,327.94 L127.2,329.5 L128.45,331.38 L129.7,333.53 L130.95,335.93 L132.2,338.56 L133.45,341.37 L134.7,344.33 L135.95,347.42 L137.2,350.6 L138.45,353.84 L139.7,357.1 L140.95,360.37 L142.2,363.62 L143.45,366.83 L144.7,369.98 L145.95,373.05 L147.2,376.03 L148.45,378.92 L149.7,381.69 L150.95,384.36 L152.2,386.91 L153.45,389.34 L154.7,391.66 L155.95,393.86 L157.2,395.94 L158.45,397.91 L159.7,399.77 L160.95,401.52 L162.2,403.18 L163.45,404.73 L164.7,406.2 L165.95,407.57 L167.2,408.86 L168.45,410.08 L169.7,411.22 L170.95,412.29 L172.2,413.29 L173.45,414.23 L174.7,415.12 L175.95,415.95 L177.2,416.73 L178.45,417.46 L179.7,418.15 L180.95,418.79 L182.2,419.4 L183.45,419.97 L184.7,420.51 L185.95,421.02 L187.2,421.5 L188.45,421.95 L189.7,422.37 L190.95,422.77 L192.2,423.15 L193.45,423.51 L194.7,423.85 L195.95,424.17 L197.2,424.47 L198.45,424.75 L199.7,425.03 L200.95,425.28 L202.2,425.53 L203.45,425.76 L204.7,425.98 L205.95,426.19 L207.2,426.39 L208.45,426.58 L209.7,426.76" fill="none" stroke="#d42424" stroke-width="1.6" stroke-linejoin="round" stroke-linecap="round" />
<path d="M34.7,429.74 L35.95,429.55 L37.2,429.35 L38.45,429.13 L39.7,428.89 L40.95,428.63 L42.2,428.36 L43.45,428.06 L44.7,427.74 L45.95,427.4 L47.2,427.03 L48.45,426.62 L49.7,426.19 L50.95,425.73 L52.2,425.23 L53.45,424.7 L54.7,424.12 L55.95,423.5 L57.2,422.84 L58.45,422.13 L59.7,421.36 L60.95,420.54 L62.2,419.67 L63.45,418.73 L64.7,417.72 L65.95,416.65 L67.2,415.51 L68.45,414.28 L69.7,412.98 L70.95,411.59 L72.2,410.11 L73.45,408.54 L74.7,406.87 L75.95,405.1 L77.2,403.23 L78.45,401.24 L79.7,399.15 L80.95,396.94 L82.2,394.61 L83.45,392.16 L84.7,389.6 L85.95,386.91 L87.2,384.1 L88.45,381.18 L89.7,378.14 L90.95,374.99 L92.2,371.73 L93.45,368.38 L94.7,364.95 L95.95,361.44 L97.2,357.87 L98.45,354.26 L99.7,350.63 L100.95,347 L102.2,343.39 L103.45,339.84 L104.7,336.36 L105.95,332.99 L107.2,329.77 L108.45,326.72 L109.7,323.88 L110.95,321.28 L112.2,318.96 L113.45,316.95 L114.7,315.27 L115.95,313.95 L117.2,313.01 L118.45,312.46 L119.7,312.32 L120.95,312.59 L122.2,313.26 L123.45,314.33 L124.7,315.79 L125.95,317.61 L127.2,319.78 L128.45,322.25 L129.7,325 L130.95,328 L132.2,331.2 L133.45,334.58 L134.7,338.09 L135.95,341.69 L137.2,345.36 L138.45,349.05 L139.7,352.75 L140.95,356.41 L142.2,360.03 L143.45,363.58 L144.7,367.03 L145.95,370.39 L147.2,373.63 L148.45,376.75 L149.7,379.74 L150.95,382.59 L152.2,385.31 L153.45,387.9 L154.7,390.36 L155.95,392.68 L157.2,394.88 L158.45,396.95 L159.7,398.9 L160.95,400.73 L162.2,402.46 L163.45,404.08 L164.7,405.6 L165.95,407.03 L167.2,408.37 L168.45,409.63 L169.7,410.8 L170.95,411.91 L172.2,412.94 L173.45,413.91 L174.7,414.82 L175.95,415.68 L177.2,416.48 L178.45,417.23 L179.7,417.93 L180.95,418.6 L182.2,419.22 L183.45,419.8 L184.7,420.35 L185.95,420.87 L187.2,421.36 L188.45,421.82 L189.7,422.25 L190.95,422.66 L192.2,423.05 L193.45,423.41 L194.7,423.75 L195.95,424.08 L197.2,424.39 L198.45,424.68 L199.7,424.95 L200.95,425.22 L202.2,425.46 L203.45,425.7 L204.7,425.92 L205.95,426.13 L207.2,426.34 L208.45,426.53 L209.7,426.71" fill="none" stroke="#3e7ff0" stroke-width="1.6" stroke-linejoin="round" stroke-linecap="round" />
<path d="M34.7,429.36 L35.95,429.14 L37.2,428.9 L38.45,428.65 L39.7,428.37 L40.95,428.07 L42.2,427.75 L43.45,427.41 L44.7,427.03 L45.95,426.63 L47.2,426.2 L48.45,425.73 L49.7,425.23 L50.95,424.69 L52.2,424.11 L53.45,423.48 L54.7,422.81 L55.95,422.09 L57.2,421.32 L58.45,420.49 L59.7,419.6 L60.95,418.65 L62.2,417.63 L63.45,416.54 L64.7,415.37 L65.95,414.12 L67.2,412.79 L68.45,411.37 L69.7,409.86 L70.95,408.25 L72.2,406.53 L73.45,404.71 L74.7,402.78 L75.95,400.73 L77.2,398.56 L78.45,396.27 L79.7,393.86 L80.95,391.31 L82.2,388.63 L83.45,385.82 L84.7,382.87 L85.95,379.8 L87.2,376.59 L88.45,373.25 L89.7,369.79 L90.95,366.22 L92.2,362.54 L93.45,358.76 L94.7,354.9 L95.95,350.98 L97.2,347.01 L98.45,343.01 L99.7,339.01 L100.95,335.03 L102.2,331.11 L103.45,327.28 L104.7,323.56 L105.95,320 L107.2,316.64 L108.45,313.51 L109.7,310.64 L110.95,308.08 L112.2,305.85 L113.45,303.99 L114.7,302.53 L115.95,301.48 L117.2,300.87 L118.45,300.71 L119.7,301 L120.95,301.73 L122.2,302.91 L123.45,304.51 L124.7,306.51 L125.95,308.89 L127.2,311.61 L128.45,314.65 L129.7,317.95 L130.95,321.48 L132.2,325.2 L133.45,329.07 L134.7,333.05 L135.95,337.1 L137.2,341.18 L138.45,345.26 L139.7,349.31 L140.95,353.31 L142.2,357.22 L143.45,361.05 L144.7,364.75 L145.95,368.33 L147.2,371.78 L148.45,375.08 L149.7,378.24 L150.95,381.25 L152.2,384.1 L153.45,386.81 L154.7,389.37 L155.95,391.79 L157.2,394.08 L158.45,396.22 L159.7,398.24 L160.95,400.14 L162.2,401.92 L163.45,403.59 L164.7,405.16 L165.95,406.63 L167.2,408 L168.45,409.29 L169.7,410.5 L170.95,411.63 L172.2,412.69 L173.45,413.68 L174.7,414.61 L175.95,415.48 L177.2,416.29 L178.45,417.06 L179.7,417.78 L180.95,418.45 L182.2,419.09 L183.45,419.68 L184.7,420.24 L185.95,420.77 L187.2,421.26 L188.45,421.73 L189.7,422.17 L190.95,422.58 L192.2,422.97 L193.45,423.34 L194.7,423.69 L195.95,424.02 L197.2,424.33 L198.45,424.62 L199.7,424.9 L200.95,425.17 L202.2,425.42 L203.45,425.66 L204.7,425.88 L205.95,426.1 L207.2,426.3 L208.45,426.49 L209.7,426.68" fill="none" stroke="#ef8230" stroke-width="1.6" stroke-linejoin="round" stroke-linecap="round" />
<path d="M34.7,428.98 L35.95,428.73 L37.2,428.46 L38.45,428.17 L39.7,427.86 L40.95,427.51 L42.2,427.15 L43.45,426.75 L44.7,426.33 L45.95,425.87 L47.2,425.37 L48.45,424.84 L49.7,424.27 L50.95,423.65 L52.2,422.99 L53.45,422.27 L54.7,421.51 L55.95,420.69 L57.2,419.8 L58.45,418.86 L59.7,417.84 L60.95,416.76 L62.2,415.59 L63.45,414.35 L64.7,413.02 L65.95,411.6 L67.2,410.09 L68.45,408.47 L69.7,406.75 L70.95,404.92 L72.2,402.97 L73.45,400.9 L74.7,398.71 L75.95,396.39 L77.2,393.94 L78.45,391.34 L79.7,388.61 L80.95,385.74 L82.2,382.72 L83.45,379.55 L84.7,376.24 L85.95,372.79 L87.2,369.2 L88.45,365.47 L89.7,361.61 L90.95,357.64 L92.2,353.56 L93.45,349.39 L94.7,345.14 L95.95,340.84 L97.2,336.51 L98.45,332.16 L99.7,327.85 L100.95,323.58 L102.2,319.41 L103.45,315.35 L104.7,311.47 L105.95,307.79 L107.2,304.35 L108.45,301.2 L109.7,298.37 L110.95,295.9 L112.2,293.83 L113.45,292.18 L114.7,290.98 L115.95,290.26 L117.2,290.01 L118.45,290.26 L119.7,290.99 L120.95,292.2 L122.2,293.88 L123.45,295.99 L124.7,298.52 L125.95,301.42 L127.2,304.67 L128.45,308.22 L129.7,312.02 L130.95,316.03 L132.2,320.21 L133.45,324.52 L134.7,328.9 L135.95,333.33 L137.2,337.77 L138.45,342.18 L139.7,346.53 L140.95,350.8 L142.2,354.97 L143.45,359.02 L144.7,362.94 L145.95,366.7 L147.2,370.32 L148.45,373.77 L149.7,377.06 L150.95,380.19 L152.2,383.15 L153.45,385.96 L154.7,388.61 L155.95,391.1 L157.2,393.45 L158.45,395.66 L159.7,397.74 L160.95,399.68 L162.2,401.51 L163.45,403.22 L164.7,404.82 L165.95,406.32 L167.2,407.72 L168.45,409.03 L169.7,410.26 L170.95,411.41 L172.2,412.49 L173.45,413.5 L174.7,414.44 L175.95,415.33 L177.2,416.15 L178.45,416.93 L179.7,417.66 L180.95,418.34 L182.2,418.98 L183.45,419.59 L184.7,420.15 L185.95,420.68 L187.2,421.18 L188.45,421.66 L189.7,422.1 L190.95,422.52 L192.2,422.91 L193.45,423.29 L194.7,423.64 L195.95,423.97 L197.2,424.28 L198.45,424.58 L199.7,424.86 L200.95,425.13 L202.2,425.38 L203.45,425.62 L204.7,425.85 L205.95,426.07 L207.2,426.27 L208.45,426.47 L209.7,426.65" fill="none" stroke="#b064f0" stroke-width="1.6" stroke-linejoin="round" stroke-linecap="round" />
<path d="M34.7,428.61 L35.95,428.33 L37.2,428.02 L38.45,427.69 L39.7,427.34 L40.95,426.96 L42.2,426.54 L43.45,426.1 L44.7,425.62 L45.95,425.1 L47.2,424.55 L48.45,423.95 L49.7,423.3 L50.95,422.61 L52.2,421.86 L53.45,421.06 L54.7,420.2 L55.95,419.28 L57.2,418.29 L58.45,417.23 L59.7,416.09 L60.95,414.87 L62.2,413.57 L63.45,412.17 L64.7,410.68 L65.95,409.09 L67.2,407.39 L68.45,405.58 L69.7,403.65 L70.95,401.6 L72.2,399.43 L73.45,397.12 L74.7,394.67 L75.95,392.08 L77.2,389.34 L78.45,386.46 L79.7,383.42 L80.95,380.22 L82.2,376.87 L83.45,373.36 L84.7,369.7 L85.95,365.89 L87.2,361.93 L88.45,357.83 L89.7,353.6 L90.95,349.25 L92.2,344.8 L93.45,340.26 L94.7,335.66 L95.95,331.01 L97.2,326.36 L98.45,321.71 L99.7,317.12 L100.95,312.62 L102.2,308.24 L103.45,304.02 L104.7,300.02 L105.95,296.27 L107.2,292.81 L108.45,289.7 L109.7,286.96 L110.95,284.64 L112.2,282.76 L113.45,281.37 L114.7,280.47 L115.95,280.09 L117.2,280.24 L118.45,280.9 L119.7,282.08 L120.95,283.77 L122.2,285.93 L123.45,288.54 L124.7,291.56 L125.95,294.96 L127.2,298.69 L128.45,302.7 L129.7,306.96 L130.95,311.4 L132.2,315.99 L133.45,320.68 L134.7,325.43 L135.95,330.19 L137.2,334.93 L138.45,339.63 L139.7,344.24 L140.95,348.74 L142.2,353.13 L143.45,357.37 L144.7,361.45 L145.95,365.37 L147.2,369.13 L148.45,372.71 L149.7,376.11 L150.95,379.33 L152.2,382.39 L153.45,385.27 L154.7,387.99 L155.95,390.55 L157.2,392.95 L158.45,395.21 L159.7,397.33 L160.95,399.32 L162.2,401.18 L163.45,402.92 L164.7,404.55 L165.95,406.07 L167.2,407.5 L168.45,408.83 L169.7,410.08 L170.95,411.24 L172.2,412.33 L173.45,413.35 L174.7,414.31 L175.95,415.21 L177.2,416.04 L178.45,416.83 L179.7,417.56 L180.95,418.25 L182.2,418.9 L183.45,419.51 L184.7,420.08 L185.95,420.62 L187.2,421.12 L188.45,421.6 L189.7,422.05 L190.95,422.47 L192.2,422.87 L193.45,423.24 L194.7,423.6 L195.95,423.93 L197.2,424.25 L198.45,424.55 L199.7,424.83 L200.95,425.1 L202.2,425.35 L203.45,425.6 L204.7,425.82 L205.95,426.04 L207.2,426.25 L208.45,426.45 L209.7,426.63" fill="none" stroke="#2e6e5e" stroke-width="1.6" stroke-linejoin="round" stroke-linecap="round" />
<rect x="110.1" y="313.8" width="6.4" height="6.4" fill="#0a0a0a"/>
<path d="M108.3,297.6 L112.29,300.5 L110.77,305.2 L105.83,305.2 L104.31,300.5Z" fill="#d42424"/>
<circle cx="129.7" cy="318.2" r="3.6" fill="#ef8a2a"/>
<path d="M127.7,318.4 L131.93,323 L127.7,327.6 L123.47,323Z" fill="#3f82c2"/>
<rect x="34.8" y="250" width="175" height="182" fill="none" stroke="#111" stroke-width="1.3"/>
<line x1="34.7" y1="432" x2="34.7" y2="427" stroke="#111" stroke-width="1.2"/>
<line x1="59.7" y1="432" x2="59.7" y2="427" stroke="#111" stroke-width="1.2"/>
<line x1="84.7" y1="432" x2="84.7" y2="427" stroke="#111" stroke-width="1.2"/>
<line x1="109.7" y1="432" x2="109.7" y2="427" stroke="#111" stroke-width="1.2"/>
<line x1="134.7" y1="432" x2="134.7" y2="427" stroke="#111" stroke-width="1.2"/>
<line x1="159.7" y1="432" x2="159.7" y2="427" stroke="#111" stroke-width="1.2"/>
<line x1="184.7" y1="432" x2="184.7" y2="427" stroke="#111" stroke-width="1.2"/>
<line x1="209.7" y1="432" x2="209.7" y2="427" stroke="#111" stroke-width="1.2"/>
<line x1="47.2" y1="432" x2="47.2" y2="429" stroke="#111" stroke-width="1.2"/>
<line x1="72.2" y1="432" x2="72.2" y2="429" stroke="#111" stroke-width="1.2"/>
<line x1="97.2" y1="432" x2="97.2" y2="429" stroke="#111" stroke-width="1.2"/>
<line x1="122.2" y1="432" x2="122.2" y2="429" stroke="#111" stroke-width="1.2"/>
<line x1="147.2" y1="432" x2="147.2" y2="429" stroke="#111" stroke-width="1.2"/>
<line x1="172.2" y1="432" x2="172.2" y2="429" stroke="#111" stroke-width="1.2"/>
<line x1="197.2" y1="432" x2="197.2" y2="429" stroke="#111" stroke-width="1.2"/>
<text x="34.7" y="446.5" font-size="10.5" text-anchor="middle" font-weight="normal" font-style="normal" fill="#1a1a1a" >-8</text>
<text x="59.7" y="446.5" font-size="10.5" text-anchor="middle" font-weight="normal" font-style="normal" fill="#1a1a1a" >-6</text>
<text x="84.7" y="446.5" font-size="10.5" text-anchor="middle" font-weight="normal" font-style="normal" fill="#1a1a1a" >-4</text>
<text x="109.7" y="446.5" font-size="10.5" text-anchor="middle" font-weight="normal" font-style="normal" fill="#1a1a1a" >-2</text>
<text x="134.7" y="446.5" font-size="10.5" text-anchor="middle" font-weight="normal" font-style="normal" fill="#1a1a1a" >0</text>
<text x="159.7" y="446.5" font-size="10.5" text-anchor="middle" font-weight="normal" font-style="normal" fill="#1a1a1a" >2</text>
<text x="184.7" y="446.5" font-size="10.5" text-anchor="middle" font-weight="normal" font-style="normal" fill="#1a1a1a" >4</text>
<text x="209.7" y="446.5" font-size="10.5" text-anchor="middle" font-weight="normal" font-style="normal" fill="#1a1a1a" >6</text>
<line x1="34.8" y1="432" x2="39.8" y2="432" stroke="#111" stroke-width="1.2"/>
<line x1="34.8" y1="403.87" x2="39.8" y2="403.87" stroke="#111" stroke-width="1.2"/>
<line x1="34.8" y1="375.73" x2="39.8" y2="375.73" stroke="#111" stroke-width="1.2"/>
<line x1="34.8" y1="347.6" x2="39.8" y2="347.6" stroke="#111" stroke-width="1.2"/>
<line x1="34.8" y1="319.46" x2="39.8" y2="319.46" stroke="#111" stroke-width="1.2"/>
<line x1="34.8" y1="291.32" x2="39.8" y2="291.32" stroke="#111" stroke-width="1.2"/>
<line x1="34.8" y1="263.19" x2="39.8" y2="263.19" stroke="#111" stroke-width="1.2"/>
<line x1="34.8" y1="417.93" x2="37.8" y2="417.93" stroke="#111" stroke-width="1.2"/>
<line x1="34.8" y1="389.8" x2="37.8" y2="389.8" stroke="#111" stroke-width="1.2"/>
<line x1="34.8" y1="361.66" x2="37.8" y2="361.66" stroke="#111" stroke-width="1.2"/>
<line x1="34.8" y1="333.53" x2="37.8" y2="333.53" stroke="#111" stroke-width="1.2"/>
<line x1="34.8" y1="305.39" x2="37.8" y2="305.39" stroke="#111" stroke-width="1.2"/>
<line x1="34.8" y1="277.26" x2="37.8" y2="277.26" stroke="#111" stroke-width="1.2"/>
<text x="30.2" y="435.6" font-size="10.5" text-anchor="end" font-weight="normal" font-style="normal" fill="#1a1a1a" textLength="16.6" lengthAdjust="spacingAndGlyphs">0.0</text>
<text x="30.2" y="407.47" font-size="10.5" text-anchor="end" font-weight="normal" font-style="normal" fill="#1a1a1a" textLength="16.6" lengthAdjust="spacingAndGlyphs">0.5</text>
<text x="30.2" y="379.33" font-size="10.5" text-anchor="end" font-weight="normal" font-style="normal" fill="#1a1a1a" textLength="16.6" lengthAdjust="spacingAndGlyphs">1.0</text>
<text x="30.2" y="351.2" font-size="10.5" text-anchor="end" font-weight="normal" font-style="normal" fill="#1a1a1a" textLength="16.6" lengthAdjust="spacingAndGlyphs">1.5</text>
<text x="30.2" y="323.06" font-size="10.5" text-anchor="end" font-weight="normal" font-style="normal" fill="#1a1a1a" textLength="16.6" lengthAdjust="spacingAndGlyphs">2.0</text>
<text x="30.2" y="294.93" font-size="10.5" text-anchor="end" font-weight="normal" font-style="normal" fill="#1a1a1a" textLength="16.6" lengthAdjust="spacingAndGlyphs">2.5</text>
<text x="30.2" y="266.79" font-size="10.5" text-anchor="end" font-weight="normal" font-style="normal" fill="#1a1a1a" textLength="16.6" lengthAdjust="spacingAndGlyphs">3.0</text>
<text x="123" y="457.2" font-size="14.5" text-anchor="middle" font-weight="normal" font-style="italic" fill="#1a1a1a" >η</text>
<text transform="translate(11,340.6) rotate(-90)" font-size="15" text-anchor="middle" font-weight="bold" fill="#111"><tspan font-style="italic">ZT</tspan></text>
<text x="-0.6" y="243.4" font-size="15.5" text-anchor="start" font-weight="bold" font-style="normal" fill="#1a1a1a" >d</text>
<text x="42.5" y="268.3" font-size="11" text-anchor="start" font-weight="normal" font-style="normal" fill="#1a1a1a" textLength="48.2" lengthAdjust="spacingAndGlyphs"><tspan font-style="italic">T</tspan> = 775K</text>
<line x1="152.6" y1="259" x2="163.4" y2="259" stroke="#111111" stroke-width="1.6"/>
<text x="169.7" y="262.4" font-size="10.8" text-anchor="start" font-weight="normal" font-style="normal" fill="#1a1a1a" textLength="37.2" lengthAdjust="spacingAndGlyphs"><tspan font-style="italic">B</tspan> = 0.8</text>
<line x1="152.6" y1="273.8" x2="163.4" y2="273.8" stroke="#d42424" stroke-width="1.6"/>
<text x="169.7" y="277.2" font-size="10.8" text-anchor="start" font-weight="normal" font-style="normal" fill="#1a1a1a" textLength="37.2" lengthAdjust="spacingAndGlyphs"><tspan font-style="italic">B</tspan> = 1.0</text>
<line x1="152.6" y1="288.6" x2="163.4" y2="288.6" stroke="#3e7ff0" stroke-width="1.6"/>
<text x="169.7" y="292" font-size="10.8" text-anchor="start" font-weight="normal" font-style="normal" fill="#1a1a1a" textLength="37.2" lengthAdjust="spacingAndGlyphs"><tspan font-style="italic">B</tspan> = 1.2</text>
<line x1="152.6" y1="303.4" x2="163.4" y2="303.4" stroke="#ef8230" stroke-width="1.6"/>
<text x="169.7" y="306.8" font-size="10.8" text-anchor="start" font-weight="normal" font-style="normal" fill="#1a1a1a" textLength="37.2" lengthAdjust="spacingAndGlyphs"><tspan font-style="italic">B</tspan> = 1.4</text>
<line x1="152.6" y1="318.1" x2="163.4" y2="318.1" stroke="#b064f0" stroke-width="1.6"/>
<text x="169.7" y="321.5" font-size="10.8" text-anchor="start" font-weight="normal" font-style="normal" fill="#1a1a1a" textLength="37.2" lengthAdjust="spacingAndGlyphs"><tspan font-style="italic">B</tspan> = 1.6</text>
<line x1="152.6" y1="332.8" x2="163.4" y2="332.8" stroke="#2e6e5e" stroke-width="1.6"/>
<text x="169.7" y="336.2" font-size="10.8" text-anchor="start" font-weight="normal" font-style="normal" fill="#1a1a1a" textLength="37.2" lengthAdjust="spacingAndGlyphs"><tspan font-style="italic">B</tspan> = 1.8</text>
<path d="M278.01,408.62 L278.54,408.28 L279.07,407.95 L279.59,407.61 L280.12,407.28 L280.64,406.94 L281.17,406.6 L281.69,406.26 L282.22,405.93 L282.74,405.59 L283.27,405.25 L283.79,404.91 L284.31,404.57 L284.83,404.23 L285.36,403.88 L285.88,403.54 L286.4,403.2 L286.92,402.86 L287.44,402.51 L287.96,402.17 L288.48,401.82 L288.99,401.47 L289.51,401.13 L290.03,400.78 L290.55,400.43 L291.06,400.08 L291.58,399.73 L292.09,399.38 L292.61,399.03 L293.12,398.68 L293.63,398.33 L294.15,397.98 L294.66,397.63 L295.17,397.27 L295.68,396.92 L296.19,396.56 L296.7,396.21 L297.21,395.85 L297.72,395.49 L298.23,395.13 L298.74,394.77 L299.25,394.42 L299.75,394.05 L300.26,393.69 L300.77,393.33 L301.27,392.97 L301.77,392.61 L302.28,392.24 L302.78,391.88 L303.28,391.51 L303.78,391.15 L304.28,390.78 L304.78,390.41 L305.28,390.04 L305.78,389.67 L306.28,389.3 L306.78,388.93 L307.28,388.56 L307.77,388.19 L308.27,387.81 L308.76,387.44 L309.26,387.06 L309.75,386.69 L310.24,386.31 L310.73,385.93 L311.22,385.55 L311.71,385.17 L312.2,384.79 L312.69,384.41 L313.18,384.03 L313.67,383.65 L314.15,383.26 L314.64,382.88 L315.12,382.49 L315.61,382.11 L316.09,381.72 L316.57,381.33 L317.05,380.94 L317.54,380.55 L318.02,380.16 L318.49,379.77 L318.97,379.38 L319.45,378.98 L319.93,378.59 L320.4,378.19 L320.88,377.8 L321.35,377.4 L321.82,377 L322.3,376.6 L322.77,376.2 L323.24,375.8 L323.71,375.4 L324.18,374.99 L324.64,374.59 L325.11,374.18 L325.58,373.78 L326.04,373.37 L326.51,372.96 L326.97,372.55 L327.43,372.14 L327.89,371.73 L328.35,371.32 L328.81,370.9 L329.27,370.49 L329.73,370.07 L330.19,369.66 L330.64,369.24 L331.1,368.82 L331.55,368.4 L332,367.98 L332.45,367.56 L332.9,367.13 L333.35,366.71 L333.8,366.29 L334.25,365.86 L334.7,365.43 L335.14,365 L335.59,364.57 L336.03,364.14 L336.47,363.71 L336.91,363.28 L337.35,362.84 L337.79,362.41 L338.23,361.97 L338.67,361.53 L339.1,361.09 L339.54,360.65 L339.97,360.21 L340.4,359.77 L340.83,359.33 L341.26,358.88 L341.69,358.44 L342.12,357.99 L342.55,357.54 L342.97,357.09 L343.4,356.64 L343.82,356.19 L344.25,355.73 L344.67,355.28 L345.09,354.83 L345.51,354.37 L345.93,353.91 L346.34,353.45 L346.76,352.99 L347.17,352.53 L347.59,352.07 L348,351.61 L348.42,351.15 L348.83,350.68 L349.24,350.22 L349.65,349.75 L350.06,349.29 L350.47,348.82 L350.88,348.35 L351.29,347.88 L351.69,347.42 L352.1,346.95 L352.51,346.48 L352.91,346 L353.32,345.53 L353.72,345.06 L354.12,344.59 L354.53,344.12 L354.93,343.64 L355.33,343.17 L355.73,342.69 L356.13,342.22 L356.54,341.74 L356.94,341.27 L357.34,340.79 L357.74,340.32 L358.14,339.84 L358.54,339.36 L358.94,338.89 L359.34,338.41 L359.73,337.93 L360.13,337.46 L360.53,336.98 L360.93,336.5 L361.33,336.02 L361.73,335.55 L362.13,335.07 L362.52,334.59 L362.92,334.11 L363.32,333.64 L363.72,333.16 L364.12,332.68 L364.52,332.21 L364.91,331.73 L365.31,331.25 L365.71,330.78 L366.11,330.3 L366.51,329.82 L366.91,329.35 L367.31,328.87 L367.71,328.4 L368.11,327.92 L368.51,327.45 L368.91,326.98 L369.32,326.5 L369.72,326.03 L370.12,325.56 L370.52,325.09 L370.93,324.62 L371.33,324.15 L371.73,323.68 L372.14,323.21 L372.54,322.74 L372.95,322.27 L373.36,321.8 L373.76,321.34 L374.17,320.87 L374.58,320.41 L374.99,319.94 L375.4,319.48 L375.81,319.02 L376.22,318.56 L376.64,318.1 L377.05,317.64 L377.46,317.18 L377.88,316.72 L378.29,316.27 L378.71,315.81 L379.13,315.36 L379.55,314.9 L379.97,314.45 L380.39,314 L380.81,313.55 L381.23,313.1 L381.65,312.66 L382.08,312.21 L382.51,311.77 L382.93,311.32 L383.36,310.88 L383.79,310.44 L384.22,310 L384.65,309.56 L385.09,309.13 L385.52,308.69 L385.96,308.26 L386.4,307.83 L386.83,307.4 L387.27,306.97 L387.72,306.54 L388.16,306.12 L388.6,305.69 L389.05,305.27 L389.5,304.85 L389.94,304.43 L390.39,304.01 L390.85,303.6 L391.3,303.19 L391.76,302.77 L392.21,302.36 L392.67,301.96 L393.13,301.55 L393.59,301.15 L394.06,300.74 L394.52,300.34 L394.99,299.95 L395.46,299.55 L395.93,299.16 L396.4,298.77 L396.88,298.38 L397.35,297.99 L397.83,297.6 L398.31,297.22 L398.79,296.84 L399.28,296.46 L399.77,296.08 L400.25,295.71 L400.74,295.34 L401.24,294.97 L401.73,294.6 L402.23,294.24 L402.73,293.87 L403.23,293.51 L403.73,293.16 L404.24,292.8 L404.75,292.45 L405.26,292.1 L405.77,291.75 L406.28,291.41 L406.8,291.07 L407.32,290.73 L407.84,290.39 L408.37,290.06 L408.89,289.73 L409.42,289.4 L409.95,289.07 L410.49,288.75 L411.02,288.43 L411.56,288.11 L412.11,287.8 L412.65,287.49 L413.2,287.18 L413.75,286.87 L414.3,286.57 L414.85,286.27 L415.41,285.97" fill="none" stroke="#0a0a0a" stroke-width="1.3" stroke-linejoin="round" stroke-linecap="round" />
<rect x="275.7" y="406.3" width="5" height="5" fill="#0a0a0a"/>
<rect x="282.94" y="401.3" width="5" height="5" fill="#0a0a0a"/>
<rect x="297.4" y="391.3" width="5" height="5" fill="#0a0a0a"/>
<rect x="311.88" y="379.8" width="5" height="5" fill="#0a0a0a"/>
<rect x="326.34" y="368.1" width="5" height="5" fill="#0a0a0a"/>
<rect x="340.81" y="355.5" width="5" height="5" fill="#0a0a0a"/>
<rect x="355.28" y="338.5" width="5" height="5" fill="#0a0a0a"/>
<rect x="369.75" y="319.6" width="5" height="5" fill="#0a0a0a"/>
<rect x="384.22" y="305.3" width="5" height="5" fill="#0a0a0a"/>
<rect x="398.69" y="291.6" width="5" height="5" fill="#0a0a0a"/>
<rect x="413.16" y="283.9" width="5" height="5" fill="#0a0a0a"/>
<path d="M278.5,405.14 L279.03,404.89 L279.56,404.64 L280.08,404.39 L280.6,404.13 L281.13,403.87 L281.65,403.6 L282.17,403.34 L282.69,403.07 L283.2,402.79 L283.72,402.52 L284.24,402.24 L284.75,401.96 L285.26,401.67 L285.78,401.39 L286.29,401.1 L286.8,400.81 L287.31,400.51 L287.82,400.22 L288.33,399.92 L288.83,399.62 L289.34,399.31 L289.84,399 L290.35,398.7 L290.85,398.39 L291.35,398.07 L291.85,397.76 L292.35,397.44 L292.85,397.12 L293.35,396.8 L293.85,396.48 L294.35,396.15 L294.84,395.82 L295.34,395.49 L295.83,395.16 L296.33,394.83 L296.82,394.49 L297.31,394.16 L297.8,393.82 L298.29,393.48 L298.78,393.14 L299.27,392.79 L299.76,392.45 L300.25,392.1 L300.73,391.76 L301.22,391.41 L301.7,391.06 L302.19,390.71 L302.67,390.35 L303.16,390 L303.64,389.64 L304.12,389.29 L304.6,388.93 L305.08,388.57 L305.56,388.21 L306.04,387.85 L306.52,387.49 L307,387.12 L307.48,386.76 L307.95,386.39 L308.43,386.03 L308.9,385.66 L309.38,385.29 L309.85,384.93 L310.33,384.56 L310.8,384.19 L311.27,383.82 L311.75,383.45 L312.22,383.08 L312.69,382.71 L313.16,382.34 L313.63,381.96 L314.1,381.59 L314.57,381.22 L315.04,380.85 L315.51,380.47 L315.98,380.1 L316.45,379.73 L316.91,379.35 L317.38,378.98 L317.85,378.6 L318.31,378.23 L318.78,377.85 L319.24,377.47 L319.71,377.1 L320.17,376.72 L320.63,376.34 L321.09,375.96 L321.55,375.58 L322.01,375.2 L322.47,374.82 L322.93,374.44 L323.39,374.06 L323.85,373.68 L324.31,373.29 L324.76,372.91 L325.22,372.52 L325.67,372.14 L326.13,371.75 L326.58,371.36 L327.03,370.98 L327.48,370.59 L327.93,370.2 L328.38,369.81 L328.83,369.41 L329.28,369.02 L329.73,368.63 L330.17,368.23 L330.62,367.83 L331.06,367.44 L331.5,367.04 L331.95,366.64 L332.39,366.24 L332.83,365.84 L333.26,365.43 L333.7,365.03 L334.14,364.62 L334.57,364.21 L335.01,363.81 L335.44,363.4 L335.87,362.99 L336.3,362.57 L336.73,362.16 L337.16,361.74 L337.59,361.33 L338.01,360.91 L338.44,360.49 L338.86,360.07 L339.28,359.64 L339.7,359.22 L340.12,358.79 L340.54,358.36 L340.96,357.93 L341.37,357.5 L341.79,357.07 L342.2,356.64 L342.61,356.2 L343.02,355.76 L343.43,355.32 L343.84,354.88 L344.24,354.44 L344.65,353.99 L345.05,353.54 L345.45,353.1 L345.85,352.65 L346.25,352.19 L346.65,351.74 L347.04,351.29 L347.44,350.83 L347.83,350.37 L348.23,349.92 L348.62,349.46 L349.01,349 L349.4,348.53 L349.79,348.07 L350.18,347.61 L350.57,347.14 L350.96,346.68 L351.35,346.21 L351.73,345.75 L352.12,345.28 L352.5,344.81 L352.89,344.34 L353.27,343.87 L353.65,343.4 L354.04,342.93 L354.42,342.46 L354.8,341.99 L355.18,341.51 L355.56,341.04 L355.94,340.57 L356.32,340.1 L356.7,339.62 L357.08,339.15 L357.46,338.68 L357.84,338.2 L358.22,337.73 L358.6,337.26 L358.98,336.78 L359.36,336.31 L359.74,335.84 L360.12,335.36 L360.5,334.89 L360.88,334.42 L361.26,333.95 L361.64,333.48 L362.02,333.01 L362.4,332.54 L362.79,332.07 L363.17,331.6 L363.55,331.13 L363.93,330.66 L364.32,330.2 L364.7,329.73 L365.09,329.27 L365.47,328.8 L365.86,328.34 L366.24,327.88 L366.63,327.42 L367.02,326.96 L367.41,326.5 L367.8,326.04 L368.19,325.59 L368.58,325.13 L368.97,324.68 L369.36,324.23 L369.76,323.78 L370.15,323.33 L370.55,322.88 L370.94,322.44 L371.34,321.99 L371.74,321.55 L372.14,321.11 L372.55,320.67 L372.95,320.24 L373.35,319.8 L373.76,319.37 L374.17,318.94 L374.58,318.51 L374.99,318.08 L375.4,317.66 L375.81,317.24 L376.23,316.82 L376.64,316.4 L377.06,315.98 L377.48,315.57 L377.9,315.16 L378.33,314.75 L378.75,314.34 L379.18,313.94 L379.61,313.54 L380.04,313.14 L380.47,312.75 L380.91,312.36 L381.34,311.97 L381.78,311.58 L382.22,311.2 L382.67,310.82 L383.11,310.44 L383.56,310.07 L384.01,309.69 L384.46,309.33 L384.91,308.96 L385.37,308.6 L385.83,308.24 L386.29,307.89 L386.75,307.53 L387.22,307.19 L387.69,306.84 L388.16,306.5 L388.63,306.16 L389.11,305.83 L389.59,305.5 L390.07,305.17 L390.56,304.85 L391.04,304.53 L391.53,304.22 L392.03,303.91 L392.52,303.6 L393.02,303.3 L393.52,303 L394.03,302.7 L394.54,302.41 L395.05,302.13 L395.56,301.85 L396.08,301.57 L396.6,301.29 L397.12,301.03 L397.65,300.76 L398.18,300.5 L398.71,300.25 L399.25,300 L399.79,299.75 L400.33,299.51 L400.88,299.27 L401.43,299.04 L401.98,298.81 L402.54,298.59 L403.1,298.38 L403.66,298.16 L404.23,297.96 L404.8,297.76 L405.38,297.56 L405.96,297.37 L406.54,297.18 L407.13,297 L407.72,296.83 L408.32,296.66 L408.92,296.49 L409.52,296.33 L410.13,296.18 L410.74,296.03 L411.35,295.89 L411.97,295.75 L412.6,295.62 L413.22,295.5 L413.85,295.38 L414.49,295.26 L415.13,295.16 L415.78,295.06" fill="none" stroke="#3f82c2" stroke-width="1.3" stroke-linejoin="round" stroke-linecap="round" />
<path d="M278.2,400.6 L281.79,404.5 L278.2,408.4 L274.61,404.5Z" fill="#3f82c2"/>
<path d="M285.44,398.9 L289.02,402.8 L285.44,406.7 L281.85,402.8Z" fill="#3f82c2"/>
<path d="M299.9,388.3 L303.49,392.2 L299.9,396.1 L296.32,392.2Z" fill="#3f82c2"/>
<path d="M314.38,377.1 L317.96,381 L314.38,384.9 L310.79,381Z" fill="#3f82c2"/>
<path d="M328.84,365.1 L332.43,369 L328.84,372.9 L325.26,369Z" fill="#3f82c2"/>
<path d="M343.31,351.8 L346.9,355.7 L343.31,359.6 L339.73,355.7Z" fill="#3f82c2"/>
<path d="M357.78,335.1 L361.37,339 L357.78,342.9 L354.2,339Z" fill="#3f82c2"/>
<path d="M372.25,317.1 L375.84,321 L372.25,324.9 L368.67,321Z" fill="#3f82c2"/>
<path d="M386.72,302.9 L390.31,306.8 L386.72,310.7 L383.14,306.8Z" fill="#3f82c2"/>
<path d="M401.19,295.4 L404.78,299.3 L401.19,303.2 L397.61,299.3Z" fill="#3f82c2"/>
<path d="M415.66,291.3 L419.25,295.2 L415.66,299.1 L412.08,295.2Z" fill="#3f82c2"/>
<path d="M278.35,401.9 L278.97,401.66 L279.59,401.41 L280.2,401.16 L280.8,400.9 L281.41,400.63 L282,400.35 L282.6,400.07 L283.19,399.78 L283.77,399.49 L284.35,399.18 L284.93,398.87 L285.5,398.56 L286.07,398.24 L286.63,397.91 L287.19,397.58 L287.75,397.24 L288.3,396.9 L288.85,396.55 L289.39,396.19 L289.94,395.83 L290.48,395.46 L291.01,395.09 L291.55,394.72 L292.08,394.34 L292.6,393.95 L293.13,393.57 L293.65,393.17 L294.17,392.77 L294.68,392.37 L295.2,391.97 L295.71,391.56 L296.22,391.15 L296.72,390.73 L297.23,390.31 L297.73,389.89 L298.23,389.46 L298.73,389.03 L299.23,388.6 L299.73,388.16 L300.22,387.73 L300.71,387.29 L301.2,386.84 L301.69,386.4 L302.18,385.95 L302.67,385.5 L303.16,385.05 L303.64,384.6 L304.13,384.14 L304.61,383.69 L305.09,383.23 L305.58,382.77 L306.06,382.31 L306.54,381.85 L307.02,381.39 L307.5,380.93 L307.98,380.47 L308.46,380.01 L308.95,379.54 L309.43,379.08 L309.91,378.62 L310.39,378.15 L310.87,377.69 L311.35,377.23 L311.84,376.76 L312.32,376.3 L312.8,375.84 L313.29,375.38 L313.78,374.92 L314.26,374.46 L314.75,374 L315.24,373.55 L315.73,373.09 L316.22,372.64 L316.71,372.19 L317.21,371.74 L317.7,371.28 L318.19,370.83 L318.69,370.38 L319.18,369.94 L319.68,369.49 L320.17,369.04 L320.67,368.59 L321.16,368.14 L321.66,367.7 L322.15,367.25 L322.65,366.8 L323.14,366.36 L323.63,365.91 L324.13,365.46 L324.62,365.01 L325.11,364.57 L325.6,364.12 L326.09,363.67 L326.58,363.22 L327.07,362.77 L327.56,362.32 L328.04,361.87 L328.52,361.42 L329.01,360.97 L329.49,360.51 L329.97,360.06 L330.44,359.6 L330.92,359.15 L331.39,358.69 L331.87,358.23 L332.34,357.77 L332.8,357.31 L333.27,356.84 L333.73,356.38 L334.19,355.91 L334.65,355.44 L335.11,354.97 L335.56,354.5 L336.01,354.03 L336.46,353.55 L336.9,353.07 L337.34,352.59 L337.78,352.11 L338.22,351.62 L338.65,351.13 L339.07,350.64 L339.5,350.15 L339.92,349.66 L340.34,349.16 L340.75,348.66 L341.16,348.15 L341.57,347.65 L341.97,347.14 L342.37,346.63 L342.76,346.11 L343.15,345.59 L343.53,345.07 L343.91,344.54 L344.29,344.02 L344.67,343.49 L345.03,342.95 L345.4,342.42 L345.76,341.88 L346.12,341.33 L346.48,340.79 L346.83,340.24 L347.18,339.69 L347.53,339.14 L347.87,338.59 L348.21,338.03 L348.55,337.48 L348.88,336.92 L349.21,336.35 L349.54,335.79 L349.87,335.22 L350.2,334.66 L350.52,334.09 L350.84,333.51 L351.16,332.94 L351.48,332.37 L351.79,331.79 L352.11,331.21 L352.42,330.64 L352.73,330.06 L353.04,329.47 L353.35,328.89 L353.65,328.31 L353.96,327.72 L354.26,327.14 L354.56,326.55 L354.87,325.96 L355.17,325.38 L355.47,324.79 L355.77,324.2 L356.07,323.61 L356.37,323.02 L356.67,322.43 L356.97,321.83 L357.27,321.24 L357.57,320.65 L357.87,320.06 L358.16,319.47 L358.46,318.87 L358.76,318.28 L359.06,317.69 L359.37,317.1 L359.67,316.5 L359.97,315.91 L360.27,315.32 L360.58,314.73 L360.88,314.14 L361.19,313.55 L361.5,312.96 L361.81,312.37 L362.12,311.78 L362.43,311.2 L362.74,310.61 L363.06,310.02 L363.38,309.44 L363.69,308.86 L364.02,308.27 L364.34,307.69 L364.66,307.11 L364.99,306.53 L365.32,305.96 L365.66,305.38 L365.99,304.81 L366.33,304.24 L366.67,303.66 L367.01,303.09 L367.36,302.53 L367.71,301.96 L368.06,301.4 L368.42,300.84 L368.78,300.28 L369.14,299.72 L369.51,299.16 L369.88,298.61 L370.25,298.06 L370.63,297.51 L371.01,296.96 L371.39,296.42 L371.78,295.88 L372.18,295.34 L372.58,294.8 L372.98,294.27 L373.38,293.74 L373.8,293.21 L374.21,292.69 L374.63,292.17 L375.05,291.65 L375.48,291.13 L375.91,290.62 L376.35,290.11 L376.78,289.61 L377.23,289.1 L377.67,288.6 L378.13,288.11 L378.58,287.62 L379.04,287.13 L379.5,286.64 L379.97,286.16 L380.44,285.68 L380.91,285.21 L381.39,284.73 L381.87,284.27 L382.35,283.8 L382.84,283.34 L383.33,282.89 L383.82,282.44 L384.32,281.99 L384.82,281.55 L385.33,281.11 L385.84,280.67 L386.35,280.24 L386.86,279.82 L387.38,279.39 L387.9,278.98 L388.43,278.56 L388.96,278.16 L389.49,277.76 L390.02,277.36 L390.56,276.97 L391.1,276.58 L391.65,276.21 L392.19,275.83 L392.75,275.47 L393.3,275.11 L393.86,274.76 L394.42,274.41 L394.99,274.08 L395.55,273.75 L396.13,273.42 L396.7,273.11 L397.28,272.81 L397.86,272.51 L398.45,272.22 L399.04,271.94 L399.63,271.67 L400.23,271.41 L400.83,271.16 L401.43,270.91 L402.04,270.68 L402.65,270.46 L403.26,270.25 L403.88,270.05 L404.5,269.86 L405.12,269.68 L405.75,269.51 L406.38,269.35 L407.02,269.21 L407.66,269.07 L408.3,268.95 L408.95,268.84 L409.6,268.74 L410.25,268.66 L410.91,268.59 L411.57,268.53 L412.24,268.48 L412.9,268.45 L413.58,268.43 L414.25,268.43 L414.93,268.44 L415.61,268.46" fill="none" stroke="#d2323e" stroke-width="1.3" stroke-linejoin="round" stroke-linecap="round" />
<path d="M278.2,396.6 V406.6 M276,396.6 H280.4 M276,406.6 H280.4" stroke="#d2323e" stroke-width="1.1" fill="none"/>
<path d="M285.44,394.7 V403.7 M283.24,394.7 H287.63 M283.24,403.7 H287.63" stroke="#d2323e" stroke-width="1.1" fill="none"/>
<path d="M299.9,381.8 V393.8 M297.7,381.8 H302.1 M297.7,393.8 H302.1" stroke="#d2323e" stroke-width="1.1" fill="none"/>
<path d="M314.38,364.9 V383.9 M312.18,364.9 H316.57 M312.18,383.9 H316.57" stroke="#d2323e" stroke-width="1.1" fill="none"/>
<path d="M328.84,349 V371.6 M326.64,349 H331.04 M326.64,371.6 H331.04" stroke="#d2323e" stroke-width="1.1" fill="none"/>
<path d="M343.31,334.5 V359.5 M341.12,334.5 H345.51 M341.12,359.5 H345.51" stroke="#d2323e" stroke-width="1.1" fill="none"/>
<path d="M357.78,299.3 V338.1 M355.58,299.3 H359.98 M355.58,338.1 H359.98" stroke="#d2323e" stroke-width="1.1" fill="none"/>
<path d="M372.25,288 V303 M370.06,288 H374.45 M370.06,303 H374.45" stroke="#d2323e" stroke-width="1.1" fill="none"/>
<path d="M386.72,274.3 V286.7 M384.52,274.3 H388.92 M384.52,286.7 H388.92" stroke="#d2323e" stroke-width="1.1" fill="none"/>
<path d="M401.19,265.9 V275.1 M399,265.9 H403.39 M399,275.1 H403.39" stroke="#d2323e" stroke-width="1.1" fill="none"/>
<path d="M415.66,265.2 V272 M413.46,265.2 H417.86 M413.46,272 H417.86" stroke="#d2323e" stroke-width="1.1" fill="none"/>
<circle cx="278.2" cy="401.6" r="3.4" fill="#d2323e"/>
<circle cx="285.44" cy="399.2" r="3.4" fill="#d2323e"/>
<circle cx="299.9" cy="387.8" r="3.4" fill="#d2323e"/>
<circle cx="314.38" cy="374.4" r="3.4" fill="#d2323e"/>
<circle cx="328.84" cy="360.3" r="3.4" fill="#d2323e"/>
<circle cx="343.31" cy="347" r="3.4" fill="#d2323e"/>
<circle cx="357.78" cy="318.7" r="3.4" fill="#d2323e"/>
<circle cx="372.25" cy="295.5" r="3.4" fill="#d2323e"/>
<circle cx="386.72" cy="280.5" r="3.4" fill="#d2323e"/>
<circle cx="401.19" cy="270.5" r="3.4" fill="#d2323e"/>
<circle cx="415.66" cy="268.6" r="3.4" fill="#d2323e"/>
<path d="M278.28,403.89 L278.92,403.75 L279.55,403.6 L280.18,403.44 L280.81,403.27 L281.43,403.09 L282.04,402.91 L282.65,402.71 L283.26,402.5 L283.86,402.29 L284.46,402.07 L285.05,401.84 L285.64,401.6 L286.22,401.36 L286.8,401.1 L287.38,400.84 L287.96,400.58 L288.53,400.3 L289.09,400.02 L289.66,399.73 L290.22,399.43 L290.78,399.13 L291.33,398.83 L291.88,398.51 L292.43,398.19 L292.97,397.87 L293.52,397.54 L294.06,397.2 L294.59,396.86 L295.13,396.51 L295.66,396.16 L296.19,395.8 L296.72,395.44 L297.25,395.08 L297.77,394.71 L298.29,394.34 L298.81,393.96 L299.33,393.58 L299.85,393.19 L300.36,392.81 L300.88,392.42 L301.39,392.02 L301.9,391.63 L302.41,391.23 L302.92,390.83 L303.43,390.42 L303.93,390.02 L304.44,389.61 L304.94,389.2 L305.45,388.79 L305.95,388.38 L306.45,387.97 L306.96,387.55 L307.46,387.14 L307.96,386.72 L308.46,386.3 L308.97,385.89 L309.47,385.47 L309.97,385.05 L310.47,384.64 L310.98,384.22 L311.48,383.8 L311.98,383.39 L312.49,382.97 L312.99,382.56 L313.5,382.15 L314.01,381.74 L314.51,381.33 L315.02,380.92 L315.53,380.51 L316.04,380.11 L316.55,379.71 L317.07,379.3 L317.58,378.9 L318.09,378.5 L318.6,378.1 L319.12,377.71 L319.63,377.31 L320.14,376.91 L320.66,376.51 L321.17,376.12 L321.69,375.72 L322.2,375.33 L322.71,374.93 L323.23,374.54 L323.74,374.14 L324.25,373.75 L324.77,373.35 L325.28,372.96 L325.79,372.56 L326.3,372.16 L326.81,371.77 L327.32,371.37 L327.82,370.97 L328.33,370.57 L328.83,370.17 L329.34,369.77 L329.84,369.37 L330.34,368.96 L330.84,368.56 L331.34,368.15 L331.84,367.74 L332.33,367.34 L332.83,366.92 L333.32,366.51 L333.81,366.1 L334.3,365.68 L334.78,365.26 L335.27,364.84 L335.75,364.42 L336.23,363.99 L336.71,363.57 L337.18,363.14 L337.65,362.7 L338.12,362.27 L338.59,361.83 L339.06,361.39 L339.52,360.95 L339.98,360.5 L340.43,360.05 L340.88,359.59 L341.33,359.14 L341.78,358.68 L342.22,358.21 L342.66,357.75 L343.1,357.28 L343.53,356.8 L343.96,356.32 L344.39,355.84 L344.81,355.35 L345.23,354.86 L345.65,354.37 L346.06,353.87 L346.47,353.37 L346.87,352.87 L347.27,352.36 L347.67,351.85 L348.06,351.33 L348.45,350.82 L348.83,350.29 L349.21,349.77 L349.59,349.24 L349.96,348.71 L350.33,348.17 L350.69,347.64 L351.05,347.09 L351.41,346.55 L351.76,346 L352.1,345.45 L352.45,344.9 L352.78,344.34 L353.12,343.78 L353.44,343.21 L353.77,342.65 L354.09,342.08 L354.4,341.51 L354.71,340.93 L355.02,340.35 L355.32,339.77 L355.62,339.19 L355.91,338.6 L356.19,338.01 L356.47,337.42 L356.75,336.83 L357.02,336.23 L357.29,335.63 L357.55,335.03 L357.81,334.42 L358.06,333.81 L358.3,333.2 L358.55,332.59 L358.78,331.98 L359.02,331.36 L359.25,330.75 L359.48,330.13 L359.7,329.51 L359.92,328.89 L360.14,328.27 L360.36,327.65 L360.57,327.02 L360.79,326.4 L361,325.78 L361.21,325.15 L361.42,324.53 L361.63,323.91 L361.84,323.29 L362.04,322.66 L362.25,322.04 L362.46,321.42 L362.67,320.81 L362.88,320.19 L363.09,319.57 L363.31,318.96 L363.52,318.35 L363.74,317.74 L363.96,317.13 L364.18,316.52 L364.41,315.92 L364.64,315.32 L364.87,314.72 L365.1,314.12 L365.34,313.53 L365.59,312.94 L365.84,312.36 L366.09,311.78 L366.35,311.2 L366.61,310.63 L366.88,310.06 L367.15,309.5 L367.43,308.94 L367.72,308.38 L368.01,307.83 L368.31,307.28 L368.62,306.74 L368.94,306.21 L369.26,305.68 L369.59,305.16 L369.93,304.64 L370.28,304.13 L370.63,303.62 L371,303.12 L371.37,302.63 L371.76,302.15 L372.15,301.67 L372.56,301.2 L372.97,300.73 L373.4,300.27 L373.83,299.82 L374.28,299.38 L374.73,298.94 L375.19,298.52 L375.67,298.09 L376.15,297.67 L376.64,297.26 L377.13,296.86 L377.64,296.46 L378.15,296.07 L378.67,295.68 L379.19,295.3 L379.72,294.92 L380.26,294.55 L380.81,294.18 L381.36,293.82 L381.91,293.46 L382.47,293.11 L383.04,292.76 L383.61,292.41 L384.18,292.07 L384.76,291.73 L385.34,291.4 L385.92,291.07 L386.51,290.74 L387.1,290.42 L387.69,290.1 L388.29,289.79 L388.89,289.48 L389.49,289.18 L390.09,288.88 L390.69,288.59 L391.3,288.31 L391.91,288.03 L392.52,287.77 L393.13,287.51 L393.74,287.26 L394.35,287.02 L394.97,286.79 L395.58,286.58 L396.2,286.37 L396.82,286.18 L397.44,286 L398.05,285.83 L398.67,285.67 L399.29,285.53 L399.91,285.41 L400.53,285.3 L401.15,285.2 L401.77,285.12 L402.39,285.06 L403,285.02 L403.62,284.99 L404.24,284.98 L404.85,284.99 L405.47,285.02 L406.08,285.07 L406.69,285.14 L407.3,285.23 L407.91,285.34 L408.52,285.47 L409.12,285.63 L409.72,285.8 L410.32,286.01 L410.92,286.23 L411.52,286.48 L412.11,286.76 L412.7,287.06 L413.29,287.39 L413.88,287.74 L414.46,288.12 L415.04,288.53 L415.61,288.97" fill="none" stroke="#ef8a2a" stroke-width="1.3" stroke-linejoin="round" stroke-linecap="round" />
<circle cx="278.2" cy="403.6" r="3.2" fill="#ef8a2a"/>
<circle cx="285.44" cy="402.3" r="3.2" fill="#ef8a2a"/>
<circle cx="299.9" cy="392.6" r="3.2" fill="#ef8a2a"/>
<circle cx="314.38" cy="381.8" r="3.2" fill="#ef8a2a"/>
<circle cx="328.84" cy="370" r="3.2" fill="#ef8a2a"/>
<circle cx="343.31" cy="357" r="3.2" fill="#ef8a2a"/>
<circle cx="357.78" cy="335" r="3.2" fill="#ef8a2a"/>
<circle cx="372.25" cy="300.5" r="3.2" fill="#ef8a2a"/>
<circle cx="386.72" cy="291.8" r="3.2" fill="#ef8a2a"/>
<circle cx="401.19" cy="284.6" r="3.2" fill="#ef8a2a"/>
<circle cx="415.66" cy="289.1" r="3.2" fill="#ef8a2a"/>
<rect x="264.2" y="249.5" width="173.2" height="179.5" fill="none" stroke="#111" stroke-width="1.3"/>
<line x1="278.2" y1="429" x2="278.2" y2="424" stroke="#111" stroke-width="1.2"/>
<line x1="307.14" y1="429" x2="307.14" y2="424" stroke="#111" stroke-width="1.2"/>
<line x1="336.08" y1="429" x2="336.08" y2="424" stroke="#111" stroke-width="1.2"/>
<line x1="365.02" y1="429" x2="365.02" y2="424" stroke="#111" stroke-width="1.2"/>
<line x1="393.96" y1="429" x2="393.96" y2="424" stroke="#111" stroke-width="1.2"/>
<line x1="422.9" y1="429" x2="422.9" y2="424" stroke="#111" stroke-width="1.2"/>
<line x1="292.67" y1="429" x2="292.67" y2="426" stroke="#111" stroke-width="1.2"/>
<line x1="321.61" y1="429" x2="321.61" y2="426" stroke="#111" stroke-width="1.2"/>
<line x1="350.55" y1="429" x2="350.55" y2="426" stroke="#111" stroke-width="1.2"/>
<line x1="379.49" y1="429" x2="379.49" y2="426" stroke="#111" stroke-width="1.2"/>
<line x1="408.43" y1="429" x2="408.43" y2="426" stroke="#111" stroke-width="1.2"/>
<text x="278.2" y="443.5" font-size="10.5" text-anchor="middle" font-weight="normal" font-style="normal" fill="#1a1a1a" >300</text>
<text x="307.14" y="443.5" font-size="10.5" text-anchor="middle" font-weight="normal" font-style="normal" fill="#1a1a1a" >400</text>
<text x="336.08" y="443.5" font-size="10.5" text-anchor="middle" font-weight="normal" font-style="normal" fill="#1a1a1a" >500</text>
<text x="365.02" y="443.5" font-size="10.5" text-anchor="middle" font-weight="normal" font-style="normal" fill="#1a1a1a" >600</text>
<text x="393.96" y="443.5" font-size="10.5" text-anchor="middle" font-weight="normal" font-style="normal" fill="#1a1a1a" >700</text>
<text x="422.9" y="443.5" font-size="10.5" text-anchor="middle" font-weight="normal" font-style="normal" fill="#1a1a1a" >800</text>
<line x1="264.2" y1="429" x2="269.2" y2="429" stroke="#111" stroke-width="1.2"/>
<line x1="264.2" y1="401.4" x2="269.2" y2="401.4" stroke="#111" stroke-width="1.2"/>
<line x1="264.2" y1="373.8" x2="269.2" y2="373.8" stroke="#111" stroke-width="1.2"/>
<line x1="264.2" y1="346.2" x2="269.2" y2="346.2" stroke="#111" stroke-width="1.2"/>
<line x1="264.2" y1="318.6" x2="269.2" y2="318.6" stroke="#111" stroke-width="1.2"/>
<line x1="264.2" y1="291" x2="269.2" y2="291" stroke="#111" stroke-width="1.2"/>
<line x1="264.2" y1="263.4" x2="269.2" y2="263.4" stroke="#111" stroke-width="1.2"/>
<line x1="264.2" y1="415.2" x2="267.2" y2="415.2" stroke="#111" stroke-width="1.2"/>
<line x1="264.2" y1="387.6" x2="267.2" y2="387.6" stroke="#111" stroke-width="1.2"/>
<line x1="264.2" y1="360" x2="267.2" y2="360" stroke="#111" stroke-width="1.2"/>
<line x1="264.2" y1="332.4" x2="267.2" y2="332.4" stroke="#111" stroke-width="1.2"/>
<line x1="264.2" y1="304.8" x2="267.2" y2="304.8" stroke="#111" stroke-width="1.2"/>
<line x1="264.2" y1="277.2" x2="267.2" y2="277.2" stroke="#111" stroke-width="1.2"/>
<text x="260" y="432.6" font-size="10.5" text-anchor="end" font-weight="normal" font-style="normal" fill="#1a1a1a" >0</text>
<text x="260" y="405" font-size="10.5" text-anchor="end" font-weight="normal" font-style="normal" fill="#1a1a1a" >0.4</text>
<text x="260" y="377.4" font-size="10.5" text-anchor="end" font-weight="normal" font-style="normal" fill="#1a1a1a" >0.8</text>
<text x="260" y="349.8" font-size="10.5" text-anchor="end" font-weight="normal" font-style="normal" fill="#1a1a1a" >1.2</text>
<text x="260" y="322.2" font-size="10.5" text-anchor="end" font-weight="normal" font-style="normal" fill="#1a1a1a" >1.6</text>
<text x="260" y="294.6" font-size="10.5" text-anchor="end" font-weight="normal" font-style="normal" fill="#1a1a1a" >2.0</text>
<text x="260" y="267" font-size="10.5" text-anchor="end" font-weight="normal" font-style="normal" fill="#1a1a1a" >2.4</text>
<text x="351" y="458.5" font-size="12.5" text-anchor="middle" font-weight="bold" font-style="normal" fill="#1a1a1a" ><tspan font-style="italic">T</tspan> (K)</text>
<text transform="translate(237.6,338.5) rotate(-90)" font-size="12.5" text-anchor="middle" font-weight="bold" fill="#111"><tspan font-style="italic">ZT</tspan></text>
<text x="224.6" y="243.4" font-size="15.5" text-anchor="start" font-weight="bold" font-style="normal" fill="#1a1a1a" >e</text>
<path d="M487.37,413.11 L508.55,427.17" fill="none" stroke="#6ebe32" stroke-width="1.3" stroke-linejoin="round" stroke-linecap="round" />
<path d="M486.6,429 L486.97,428.9 L487.34,428.79 L487.72,428.69 L488.09,428.6 L488.46,428.5 L488.83,428.41 L489.2,428.32 L489.58,428.23 L489.95,428.15 L490.32,428.06 L490.69,427.98 L491.06,427.91 L491.44,427.83 L491.81,427.76 L492.18,427.69 L492.55,427.62 L492.92,427.55 L493.3,427.49 L493.67,427.43 L494.04,427.37 L494.41,427.32 L494.78,427.26 L495.15,427.21 L495.53,427.16 L495.9,427.12 L496.27,427.07 L496.64,427.03 L497.01,426.99 L497.39,426.96 L497.76,426.92 L498.13,426.89 L498.5,426.86 L498.87,426.84 L499.25,426.81 L499.62,426.79 L499.99,426.77 L500.36,426.76 L500.73,426.74 L501.11,426.73 L501.48,426.72 L501.85,426.71 L502.22,426.71 L502.59,426.71 L502.97,426.71 L503.34,426.71 L503.71,426.72 L504.08,426.72 L504.45,426.73 L504.83,426.75 L505.2,426.76 L505.57,426.78 L505.94,426.8 L506.31,426.82 L506.69,426.84 L507.06,426.87 L507.43,426.9 L507.8,426.93 L508.17,426.97 L508.55,427.01" fill="none" stroke="#6ebe32" stroke-width="1.3" stroke-linejoin="round" stroke-linecap="round" />
<circle cx="487.37" cy="412.8" r="2.9" fill="#6ebe32"/>
<circle cx="491.99" cy="416.4" r="2.9" fill="#6ebe32"/>
<circle cx="497.38" cy="420" r="2.9" fill="#6ebe32"/>
<circle cx="503.16" cy="423.6" r="2.9" fill="#6ebe32"/>
<circle cx="508.55" cy="427" r="2.9" fill="#6ebe32"/>
<circle cx="492.38" cy="427.6" r="2.9" fill="#6ebe32"/>
<circle cx="497.77" cy="427.2" r="2.9" fill="#6ebe32"/>
<circle cx="503.54" cy="426.4" r="2.9" fill="#6ebe32"/>
<circle cx="509.31" cy="427.2" r="2.9" fill="#6ebe32"/>
<path d="M486.6,382.24 L532.8,417.52" fill="none" stroke="#c3642a" stroke-width="1.3" stroke-linejoin="round" stroke-linecap="round" />
<path d="M486.6,429 L487.38,428.45 L488.17,427.91 L488.95,427.39 L489.73,426.88 L490.52,426.39 L491.3,425.91 L492.08,425.45 L492.86,424.99 L493.65,424.56 L494.43,424.13 L495.21,423.73 L496,423.33 L496.78,422.95 L497.56,422.59 L498.35,422.23 L499.13,421.9 L499.91,421.57 L500.69,421.27 L501.48,420.97 L502.26,420.69 L503.04,420.42 L503.83,420.17 L504.61,419.93 L505.39,419.71 L506.18,419.5 L506.96,419.3 L507.74,419.12 L508.53,418.96 L509.31,418.8 L510.09,418.67 L510.87,418.54 L511.66,418.43 L512.44,418.34 L513.22,418.25 L514.01,418.19 L514.79,418.13 L515.57,418.09 L516.36,418.07 L517.14,418.06 L517.92,418.06 L518.71,418.08 L519.49,418.11 L520.27,418.16 L521.05,418.22 L521.84,418.29 L522.62,418.38 L523.4,418.48 L524.19,418.6 L524.97,418.73 L525.75,418.88 L526.54,419.04 L527.32,419.21 L528.1,419.4 L528.88,419.6 L529.67,419.82 L530.45,420.05 L531.23,420.29 L532.02,420.55 L532.8,420.83" fill="none" stroke="#c3642a" stroke-width="1.3" stroke-linejoin="round" stroke-linecap="round" />
<circle cx="486.6" cy="382.2" r="2.5" fill="#c3642a"/>
<circle cx="498.15" cy="391.2" r="2.5" fill="#c3642a"/>
<circle cx="509.7" cy="399.8" r="2.5" fill="#c3642a"/>
<circle cx="521.25" cy="408.6" r="2.5" fill="#c3642a"/>
<circle cx="532.8" cy="417.6" r="2.5" fill="#c3642a"/>
<rect x="495.95" y="419.4" width="4.4" height="4.4" fill="#c3642a"/>
<rect x="507.5" y="416.8" width="4.4" height="4.4" fill="#c3642a"/>
<rect x="519.05" y="416.4" width="4.4" height="4.4" fill="#c3642a"/>
<rect x="530.6" y="418.4" width="4.4" height="4.4" fill="#c3642a"/>
<path d="M486.6,352.01 L586.7,419.92" fill="none" stroke="#3c86c8" stroke-width="1.3" stroke-linejoin="round" stroke-linecap="round" />
<path d="M486.67,428.84 L486.92,428.59 L487.17,428.34 L487.42,428.1 L487.67,427.85 L487.92,427.6 L488.17,427.35 L488.43,427.1 L488.69,426.84 L488.94,426.59 L489.2,426.34 L489.46,426.08 L489.72,425.83 L489.98,425.57 L490.25,425.32 L490.51,425.06 L490.77,424.8 L491.04,424.54 L491.31,424.29 L491.58,424.03 L491.85,423.77 L492.12,423.51 L492.39,423.25 L492.66,422.99 L492.93,422.73 L493.21,422.47 L493.48,422.21 L493.76,421.95 L494.04,421.69 L494.32,421.43 L494.6,421.17 L494.88,420.91 L495.16,420.65 L495.44,420.38 L495.72,420.12 L496.01,419.86 L496.29,419.6 L496.58,419.34 L496.87,419.08 L497.16,418.82 L497.45,418.56 L497.74,418.3 L498.03,418.04 L498.32,417.78 L498.61,417.52 L498.91,417.27 L499.2,417.01 L499.5,416.75 L499.8,416.49 L500.1,416.24 L500.39,415.98 L500.69,415.73 L500.99,415.47 L501.3,415.22 L501.6,414.96 L501.9,414.71 L502.21,414.46 L502.51,414.21 L502.82,413.96 L503.12,413.71 L503.43,413.46 L503.74,413.21 L504.05,412.96 L504.36,412.72 L504.67,412.47 L504.98,412.23 L505.3,411.98 L505.61,411.74 L505.92,411.5 L506.24,411.26 L506.55,411.02 L506.87,410.79 L507.19,410.55 L507.51,410.32 L507.83,410.08 L508.15,409.85 L508.47,409.62 L508.79,409.39 L509.11,409.16 L509.43,408.93 L509.76,408.71 L510.08,408.48 L510.41,408.26 L510.73,408.04 L511.06,407.82 L511.39,407.61 L511.72,407.39 L512.04,407.18 L512.37,406.96 L512.7,406.75 L513.04,406.54 L513.37,406.34 L513.7,406.13 L514.03,405.93 L514.37,405.73 L514.7,405.53 L515.04,405.33 L515.37,405.14 L515.71,404.94 L516.04,404.75 L516.38,404.56 L516.72,404.37 L517.06,404.19 L517.4,404.01 L517.74,403.83 L518.08,403.65 L518.42,403.47 L518.76,403.3 L519.11,403.13 L519.45,402.96 L519.79,402.79 L520.14,402.63 L520.48,402.46 L520.83,402.3 L521.17,402.15 L521.52,401.99 L521.87,401.84 L522.22,401.69 L522.56,401.55 L522.91,401.4 L523.26,401.26 L523.61,401.12 L523.96,400.99 L524.31,400.86 L524.67,400.73 L525.02,400.6 L525.37,400.48 L525.72,400.35 L526.08,400.24 L526.43,400.12 L526.79,400.01 L527.14,399.9 L527.5,399.79 L527.85,399.69 L528.21,399.59 L528.57,399.5 L528.92,399.4 L529.28,399.31 L529.64,399.23 L530,399.14 L530.36,399.06 L530.72,398.98 L531.08,398.91 L531.44,398.84 L531.8,398.77 L532.16,398.71 L532.52,398.65 L532.88,398.6 L533.25,398.54 L533.61,398.49 L533.97,398.45 L534.34,398.4 L534.7,398.36 L535.06,398.33 L535.43,398.3 L535.79,398.27 L536.16,398.24 L536.52,398.22 L536.89,398.2 L537.25,398.18 L537.62,398.17 L537.99,398.16 L538.35,398.15 L538.72,398.14 L539.09,398.14 L539.45,398.15 L539.82,398.15 L540.19,398.16 L540.55,398.17 L540.92,398.18 L541.29,398.2 L541.66,398.22 L542.03,398.25 L542.39,398.27 L542.76,398.3 L543.13,398.33 L543.5,398.37 L543.87,398.41 L544.23,398.45 L544.6,398.49 L544.97,398.54 L545.34,398.58 L545.71,398.64 L546.07,398.69 L546.44,398.75 L546.81,398.81 L547.18,398.87 L547.55,398.94 L547.91,399 L548.28,399.08 L548.65,399.15 L549.02,399.23 L549.38,399.3 L549.75,399.39 L550.12,399.47 L550.49,399.56 L550.85,399.64 L551.22,399.74 L551.58,399.83 L551.95,399.93 L552.32,400.03 L552.68,400.13 L553.05,400.23 L553.41,400.34 L553.78,400.45 L554.14,400.56 L554.51,400.67 L554.87,400.79 L555.23,400.9 L555.6,401.02 L555.96,401.15 L556.32,401.27 L556.69,401.4 L557.05,401.53 L557.41,401.66 L557.77,401.79 L558.13,401.93 L558.49,402.07 L558.85,402.21 L559.21,402.35 L559.57,402.49 L559.93,402.64 L560.29,402.79 L560.64,402.94 L561,403.09 L561.36,403.25 L561.71,403.4 L562.07,403.56 L562.42,403.72 L562.78,403.88 L563.13,404.05 L563.49,404.21 L563.84,404.38 L564.19,404.55 L564.54,404.72 L564.89,404.89 L565.25,405.06 L565.6,405.24 L565.95,405.41 L566.3,405.59 L566.65,405.77 L566.99,405.95 L567.34,406.13 L567.69,406.31 L568.04,406.49 L568.38,406.68 L568.73,406.86 L569.08,407.05 L569.42,407.23 L569.77,407.42 L570.11,407.61 L570.45,407.8 L570.8,407.99 L571.14,408.18 L571.48,408.37 L571.82,408.56 L572.16,408.75 L572.51,408.95 L572.85,409.14 L573.19,409.33 L573.52,409.53 L573.86,409.72 L574.2,409.92 L574.54,410.11 L574.88,410.31 L575.21,410.5 L575.55,410.7 L575.89,410.89 L576.22,411.09 L576.56,411.28 L576.89,411.48 L577.22,411.67 L577.56,411.87 L577.89,412.06 L578.22,412.25 L578.55,412.45 L578.89,412.64 L579.22,412.83 L579.55,413.02 L579.88,413.22 L580.21,413.41 L580.54,413.6 L580.86,413.79 L581.19,413.98 L581.52,414.17 L581.85,414.35 L582.17,414.54 L582.5,414.73 L582.82,414.91 L583.15,415.09 L583.47,415.28 L583.8,415.46 L584.12,415.64 L584.44,415.82 L584.76,416 L585.09,416.17 L585.41,416.35 L585.73,416.52 L586.05,416.7 L586.37,416.87" fill="none" stroke="#3c86c8" stroke-width="1.3" stroke-linejoin="round" stroke-linecap="round" />
<circle cx="486.6" cy="352.4" r="2.5" fill="#3c86c8"/>
<circle cx="509.7" cy="367.4" r="2.5" fill="#3c86c8"/>
<circle cx="532.8" cy="383.4" r="2.5" fill="#3c86c8"/>
<circle cx="555.9" cy="398.4" r="2.5" fill="#3c86c8"/>
<circle cx="586.7" cy="420.4" r="2.5" fill="#3c86c8"/>
<rect x="507.5" y="405.8" width="4.4" height="4.4" fill="#3c86c8"/>
<rect x="530.6" y="395.3" width="4.4" height="4.4" fill="#3c86c8"/>
<rect x="553.7" y="395.9" width="4.4" height="4.4" fill="#3c86c8"/>
<rect x="584.5" y="413.6" width="4.4" height="4.4" fill="#3c86c8"/>
<path d="M486.6,315.84 L640.6,410.64" fill="none" stroke="#d42a2a" stroke-width="1.3" stroke-linejoin="round" stroke-linecap="round" />
<path d="M486.6,429 L489.21,424.62 L491.82,420.37 L494.43,416.25 L497.04,412.25 L499.65,408.37 L502.26,404.62 L504.87,401 L507.48,397.5 L510.09,394.13 L512.7,390.88 L515.31,387.76 L517.92,384.76 L520.53,381.89 L523.14,379.14 L525.75,376.52 L528.36,374.02 L530.97,371.65 L533.58,369.41 L536.19,367.29 L538.8,365.29 L541.41,363.43 L544.02,361.68 L546.63,360.06 L549.24,358.57 L551.85,357.2 L554.46,355.96 L557.07,354.84 L559.68,353.85 L562.29,352.98 L564.91,352.24 L567.52,351.63 L570.13,351.14 L572.74,350.77 L575.35,350.53 L577.96,350.42 L580.57,350.43 L583.18,350.57 L585.79,350.83 L588.4,351.22 L591.01,351.73 L593.62,352.37 L596.23,353.13 L598.84,354.02 L601.45,355.03 L604.06,356.17 L606.67,357.44 L609.28,358.83 L611.89,360.34 L614.5,361.98 L617.11,363.75 L619.72,365.64 L622.33,367.65 L624.94,369.8 L627.55,372.06 L630.16,374.46 L632.77,376.98 L635.38,379.62 L637.99,382.39 L640.6,385.28" fill="none" stroke="#d42a2a" stroke-width="1.3" stroke-linejoin="round" stroke-linecap="round" />
<circle cx="486.6" cy="315.8" r="2.5" fill="#d42a2a"/>
<circle cx="525.1" cy="339.8" r="2.5" fill="#d42a2a"/>
<circle cx="563.6" cy="362.8" r="2.5" fill="#d42a2a"/>
<circle cx="602.1" cy="387.2" r="2.5" fill="#d42a2a"/>
<circle cx="640.6" cy="410.6" r="2.5" fill="#d42a2a"/>
<rect x="522.9" y="374.6" width="4.4" height="4.4" fill="#d42a2a"/>
<rect x="561.4" y="350.6" width="4.4" height="4.4" fill="#d42a2a"/>
<rect x="599.9" y="353.2" width="4.4" height="4.4" fill="#d42a2a"/>
<rect x="638.4" y="383" width="4.4" height="4.4" fill="#d42a2a"/>
<path d="M486.6,281.16 L640.6,390.84" fill="none" stroke="#4a12b0" stroke-width="1.3" stroke-linejoin="round" stroke-linecap="round" />
<path d="M486.6,429 L489.21,423.29 L491.82,417.72 L494.43,412.3 L497.04,407.02 L499.65,401.89 L502.26,396.91 L504.87,392.06 L507.48,387.37 L510.09,382.81 L512.7,378.41 L515.31,374.14 L517.92,370.03 L520.53,366.05 L523.14,362.23 L525.75,358.54 L528.36,355.01 L530.97,351.61 L533.58,348.36 L536.19,345.26 L538.8,342.3 L541.41,339.49 L544.02,336.82 L546.63,334.3 L549.24,331.92 L551.85,329.68 L554.46,327.59 L557.07,325.65 L559.68,323.85 L562.29,322.2 L564.91,320.69 L567.52,319.32 L570.13,318.1 L572.74,317.03 L575.35,316.1 L577.96,315.31 L580.57,314.67 L583.18,314.18 L585.79,313.83 L588.4,313.62 L591.01,313.56 L593.62,313.64 L596.23,313.87 L598.84,314.25 L601.45,314.77 L604.06,315.43 L606.67,316.24 L609.28,317.19 L611.89,318.29 L614.5,319.53 L617.11,320.92 L619.72,322.46 L622.33,324.13 L624.94,325.96 L627.55,327.92 L630.16,330.04 L632.77,332.29 L635.38,334.7 L637.99,337.24 L640.6,339.94" fill="none" stroke="#4a12b0" stroke-width="1.3" stroke-linejoin="round" stroke-linecap="round" />
<circle cx="486.6" cy="281.2" r="2.5" fill="#4a12b0"/>
<circle cx="525.1" cy="308.4" r="2.5" fill="#4a12b0"/>
<circle cx="563.6" cy="336" r="2.5" fill="#4a12b0"/>
<circle cx="602.1" cy="363.8" r="2.5" fill="#4a12b0"/>
<circle cx="640.6" cy="390.6" r="2.5" fill="#4a12b0"/>
<rect x="522.9" y="357.4" width="4.4" height="4.4" fill="#4a12b0"/>
<rect x="561.4" y="319.2" width="4.4" height="4.4" fill="#4a12b0"/>
<rect x="599.9" y="312.6" width="4.4" height="4.4" fill="#4a12b0"/>
<rect x="638.4" y="337.8" width="4.4" height="4.4" fill="#4a12b0"/>
<rect x="486.6" y="249.5" width="173.4" height="179.5" fill="none" stroke="#111" stroke-width="1.3"/>
<line x1="486.6" y1="429" x2="486.6" y2="424" stroke="#111" stroke-width="1.2"/>
<line x1="525.1" y1="429" x2="525.1" y2="424" stroke="#111" stroke-width="1.2"/>
<line x1="563.6" y1="429" x2="563.6" y2="424" stroke="#111" stroke-width="1.2"/>
<line x1="602.1" y1="429" x2="602.1" y2="424" stroke="#111" stroke-width="1.2"/>
<line x1="640.6" y1="429" x2="640.6" y2="424" stroke="#111" stroke-width="1.2"/>
<line x1="505.85" y1="429" x2="505.85" y2="426" stroke="#111" stroke-width="1.2"/>
<line x1="544.35" y1="429" x2="544.35" y2="426" stroke="#111" stroke-width="1.2"/>
<line x1="582.85" y1="429" x2="582.85" y2="426" stroke="#111" stroke-width="1.2"/>
<line x1="621.35" y1="429" x2="621.35" y2="426" stroke="#111" stroke-width="1.2"/>
<text x="486.6" y="443.5" font-size="10.5" text-anchor="middle" font-weight="normal" font-style="normal" fill="#1a1a1a" >0</text>
<text x="525.1" y="443.5" font-size="10.5" text-anchor="middle" font-weight="normal" font-style="normal" fill="#1a1a1a" >1</text>
<text x="563.6" y="443.5" font-size="10.5" text-anchor="middle" font-weight="normal" font-style="normal" fill="#1a1a1a" >2</text>
<text x="602.1" y="443.5" font-size="10.5" text-anchor="middle" font-weight="normal" font-style="normal" fill="#1a1a1a" >3</text>
<text x="640.6" y="443.5" font-size="10.5" text-anchor="middle" font-weight="normal" font-style="normal" fill="#1a1a1a" >4</text>
<line x1="486.6" y1="429" x2="491.6" y2="429" stroke="#111" stroke-width="1.2"/>
<line x1="486.6" y1="389" x2="491.6" y2="389" stroke="#111" stroke-width="1.2"/>
<line x1="486.6" y1="349" x2="491.6" y2="349" stroke="#111" stroke-width="1.2"/>
<line x1="486.6" y1="309" x2="491.6" y2="309" stroke="#111" stroke-width="1.2"/>
<line x1="486.6" y1="269" x2="491.6" y2="269" stroke="#111" stroke-width="1.2"/>
<line x1="486.6" y1="409" x2="489.6" y2="409" stroke="#111" stroke-width="1.2"/>
<line x1="486.6" y1="369" x2="489.6" y2="369" stroke="#111" stroke-width="1.2"/>
<line x1="486.6" y1="329" x2="489.6" y2="329" stroke="#111" stroke-width="1.2"/>
<line x1="486.6" y1="289" x2="489.6" y2="289" stroke="#111" stroke-width="1.2"/>
<text x="482.4" y="432.6" font-size="10.5" text-anchor="end" font-weight="normal" font-style="normal" fill="#1a1a1a" >0</text>
<text x="482.4" y="392.6" font-size="10.5" text-anchor="end" font-weight="normal" font-style="normal" fill="#1a1a1a" >20</text>
<text x="482.4" y="352.6" font-size="10.5" text-anchor="end" font-weight="normal" font-style="normal" fill="#1a1a1a" >40</text>
<text x="482.4" y="312.6" font-size="10.5" text-anchor="end" font-weight="normal" font-style="normal" fill="#1a1a1a" >60</text>
<text x="482.4" y="272.6" font-size="10.5" text-anchor="end" font-weight="normal" font-style="normal" fill="#1a1a1a" >80</text>
<line x1="660" y1="429" x2="655" y2="429" stroke="#111" stroke-width="1.2"/>
<line x1="660" y1="377.67" x2="655" y2="377.67" stroke="#111" stroke-width="1.2"/>
<line x1="660" y1="326.34" x2="655" y2="326.34" stroke="#111" stroke-width="1.2"/>
<line x1="660" y1="275.01" x2="655" y2="275.01" stroke="#111" stroke-width="1.2"/>
<line x1="660" y1="403.33" x2="657" y2="403.33" stroke="#111" stroke-width="1.2"/>
<line x1="660" y1="352" x2="657" y2="352" stroke="#111" stroke-width="1.2"/>
<line x1="660" y1="300.68" x2="657" y2="300.68" stroke="#111" stroke-width="1.2"/>
<text x="661.3" y="432.5" font-size="9.8" text-anchor="start" font-weight="normal" font-style="normal" fill="#1a1a1a" >0</text>
<text x="661.3" y="381.17" font-size="9.8" text-anchor="start" font-weight="normal" font-style="normal" fill="#1a1a1a" >1</text>
<text x="661.3" y="329.84" font-size="9.8" text-anchor="start" font-weight="normal" font-style="normal" fill="#1a1a1a" >2</text>
<text x="661.3" y="278.51" font-size="9.8" text-anchor="start" font-weight="normal" font-style="normal" fill="#1a1a1a" >3</text>
<text x="572.8" y="457.7" font-size="12.5" text-anchor="middle" font-weight="bold" font-style="normal" fill="#1a1a1a" ><tspan font-style="italic">I</tspan> (A)</text>
<text transform="translate(467.5,338.5) rotate(-90)" font-size="12.5" text-anchor="middle" font-weight="bold" fill="#111"><tspan font-style="italic">V</tspan> (mV)</text>
<text transform="translate(682.3,337.4) rotate(-90)" font-size="12.95" text-anchor="middle" font-weight="bold" fill="#111">Power density (W·cm<tspan dy="-5" font-size="8.5">−2</tspan><tspan dy="5">)</tspan></text>
<text x="449.5" y="243.4" font-size="15.5" text-anchor="start" font-weight="bold" font-style="normal" fill="#1a1a1a" >f</text>
<line x1="504.3" y1="256.9" x2="519" y2="256.9" stroke="#6ebe32" stroke-width="1.3"/>
<circle cx="511.65" cy="256.9" r="2.2" fill="#6ebe32"/>
<text x="521.6" y="260.7" font-size="10.5" text-anchor="start" font-weight="normal" font-style="normal" fill="#1a1a1a" >Δ<tspan font-style="italic">T</tspan> = 75K</text>
<line x1="575.4" y1="256.9" x2="590.1" y2="256.9" stroke="#c3642a" stroke-width="1.3"/>
<circle cx="582.75" cy="256.9" r="2.2" fill="#c3642a"/>
<text x="592.2" y="260.7" font-size="10.5" text-anchor="start" font-weight="normal" font-style="normal" fill="#1a1a1a" >Δ<tspan font-style="italic">T</tspan> = 175K</text>
<line x1="504.3" y1="270.8" x2="519" y2="270.8" stroke="#3c86c8" stroke-width="1.3"/>
<circle cx="511.65" cy="270.8" r="2.2" fill="#3c86c8"/>
<text x="521.6" y="274.6" font-size="10.5" text-anchor="start" font-weight="normal" font-style="normal" fill="#1a1a1a" >Δ<tspan font-style="italic">T</tspan> = 275K</text>
<line x1="575.4" y1="270.8" x2="590.1" y2="270.8" stroke="#d42a2a" stroke-width="1.3"/>
<circle cx="582.75" cy="270.8" r="2.2" fill="#d42a2a"/>
<text x="592.2" y="274.6" font-size="10.5" text-anchor="start" font-weight="normal" font-style="normal" fill="#1a1a1a" >Δ<tspan font-style="italic">T</tspan> = 375K</text>
<line x1="504.3" y1="285.6" x2="519" y2="285.6" stroke="#4a12b0" stroke-width="1.3"/>
<circle cx="511.65" cy="285.6" r="2.2" fill="#4a12b0"/>
<text x="521.6" y="289.4" font-size="10.5" text-anchor="start" font-weight="normal" font-style="normal" fill="#1a1a1a" >Δ<tspan font-style="italic">T</tspan> = 475K</text>
</svg>
</body></html>
